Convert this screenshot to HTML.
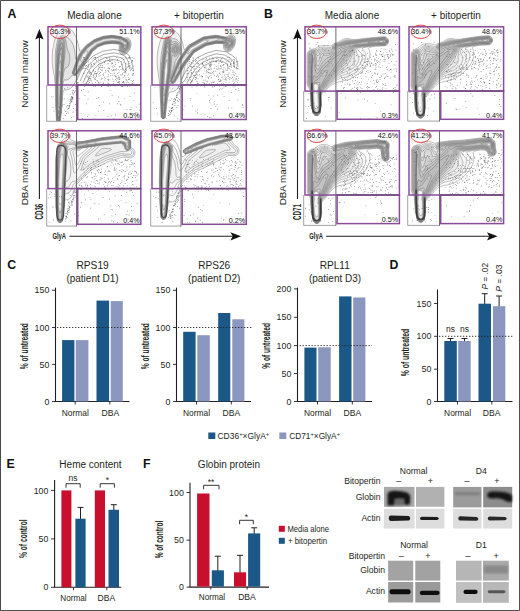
<!DOCTYPE html>
<html><head><meta charset="utf-8"><style>
html,body{margin:0;padding:0;background:#fff;}
svg{display:block;font-family:"Liberation Sans", sans-serif;}
</style></head><body>
<svg width="520" height="611" viewBox="0 0 520 611">
<defs><filter id="gb" filterUnits="userSpaceOnUse" x="0" y="0" width="520" height="611"><feConvolveMatrix order="3" kernelMatrix="0.0000 0.0000 0.0000 0.0000 1.0000 0.0000 0.0000 0.0000 0.0000" preserveAlpha="true"/></filter></defs>
<g>
<rect width="520" height="611" fill="#fff"/>
<text x="7.4" y="18" font-size="12.3" font-weight="bold" fill="#111">A</text>
<text x="264" y="18" font-size="12.3" font-weight="bold" fill="#111">B</text>
<text x="7.2" y="268.6" font-size="12.3" font-weight="bold" fill="#111">C</text>
<text x="389.4" y="268.6" font-size="12.3" font-weight="bold" fill="#111">D</text>
<text x="6.5" y="467.6" font-size="12.3" font-weight="bold" fill="#111">E</text>
<text x="143" y="467.6" font-size="12.3" font-weight="bold" fill="#111">F</text>
<text x="94.5" y="18.6" font-size="10" text-anchor="middle" fill="#231f20">Media alone</text>
<text x="199" y="18.6" font-size="10" text-anchor="middle" fill="#231f20">+ bitopertin</text>
<text x="352" y="18.6" font-size="10" text-anchor="middle" fill="#231f20">Media alone</text>
<text x="456" y="18.6" font-size="10" text-anchor="middle" fill="#231f20">+ bitopertin</text>
<defs><clipPath id="cp0"><rect x="47" y="26.8" width="93.80000000000001" height="94.2"/></clipPath><clipPath id="cp1"><rect x="151" y="26.8" width="95.30000000000001" height="94.2"/></clipPath><clipPath id="cp2"><rect x="47" y="130.8" width="93.80000000000001" height="95.0"/></clipPath><clipPath id="cp3"><rect x="151" y="130.8" width="95.30000000000001" height="95.0"/></clipPath><clipPath id="cp4"><rect x="304" y="26.8" width="95.39999999999998" height="94.0"/></clipPath><clipPath id="cp5"><rect x="408" y="26.8" width="95.60000000000002" height="94.0"/></clipPath><clipPath id="cp6"><rect x="304" y="130.8" width="95.39999999999998" height="94.29999999999998"/></clipPath><clipPath id="cp7"><rect x="408" y="130.8" width="95.60000000000002" height="94.29999999999998"/></clipPath></defs>
<g clip-path="url(#cp0)">
<path d="M58.5 121.9 57.5 121.6 57.1 121.3 56.7 120.8 56.4 119.8 56.2 116.3 56.0 111.3 55.7 106.8 55.5 93.3 55.0 82.6 54.5 77.8 53.2 70.8 52.6 66.8 52.2 62.3 52.1 57.8 52.3 53.8 52.7 49.8 53.4 45.8 54.3 41.8 55.2 38.8 56.3 36.3 58.0 33.3 59.5 31.2 61.0 29.7 62.5 28.6 64.0 27.9 65.5 27.6 67.0 27.7 68.5 28.1 70.0 28.9 71.5 30.1 73.0 31.8 74.0 33.3 75.1 35.3 76.3 37.8 77.3 40.8 78.2 43.8 78.8 46.8 79.5 50.8 79.5 50.9 80.0 51.3 81.0 50.6 82.0 49.7 86.0 45.4 93.5 40.0 94.5 39.5 102.5 36.5 104.5 36.1 112.0 35.2 121.0 36.5 122.0 36.9 122.5 37.3 123.5 37.8 124.0 37.9 125.0 38.0 127.0 37.7 128.0 37.9 129.0 38.5 129.5 38.9 130.1 39.8 130.6 40.8 130.9 41.8 131.1 43.3 131.1 44.3 130.7 46.8 130.2 48.3 129.8 49.3 129.3 50.3 128.3 51.8 127.5 52.7 126.5 53.6 125.0 54.5 123.5 54.9 123.0 54.9 122.0 54.7 121.0 54.1 120.2 53.3 119.4 51.8 119.1 50.8 119.0 49.8 119.0 47.8 119.4 44.8 119.0 44.3 116.3 43.8 112.0 43.4 104.9 44.3 98.3 46.8 97.0 47.8 92.5 51.7 88.3 58.8 83.9 65.3 82.5 67.3 79.0 72.8 78.0 74.8 76.7 78.8 75.6 81.3 74.3 83.8 73.0 85.8 72.0 87.0 71.0 87.9 70.0 88.7 69.0 89.3 68.0 89.7 67.0 89.9 66.0 90.0 64.0 89.9 63.5 90.4 63.0 92.2 62.5 96.7 61.9 107.3 60.6 119.8 60.3 120.8 59.9 121.3 59.5 121.6 58.5 121.9Z" fill="#f2f2f2" stroke="#505050" stroke-width="0.38"/>
<path d="M59.0 121.5 58.5 121.6 58.0 121.5 57.5 121.3 57.0 120.8 56.8 120.3 56.7 119.8 56.1 106.8 56.0 96.8 55.2 60.8 55.3 55.3 55.7 49.8 56.7 43.8 57.6 39.8 57.9 38.8 58.6 37.8 59.5 36.9 60.0 36.6 61.0 36.1 62.5 35.8 64.0 35.9 65.5 36.4 67.2 37.3 69.0 38.6 70.5 40.2 71.5 41.6 72.4 43.3 73.3 45.3 73.9 47.3 74.5 49.8 75.0 52.8 75.3 55.3 75.5 59.1 75.6 59.3 76.0 59.4 76.5 58.8 77.5 57.2 79.6 53.3 86.0 45.9 86.5 45.5 94.0 40.1 96.5 39.1 102.0 37.0 103.5 36.5 112.0 35.5 121.0 36.9 121.5 37.1 122.8 37.8 124.0 38.4 125.5 38.8 127.0 38.9 127.5 39.0 128.5 39.6 129.0 40.0 129.5 40.8 129.9 41.8 130.2 42.8 130.2 44.8 130.1 45.8 129.8 47.3 129.2 48.8 128.7 49.8 127.7 51.3 127.0 52.0 126.0 52.8 125.5 53.1 124.5 53.6 123.5 53.7 123.0 53.7 122.0 53.4 121.2 52.8 120.5 51.8 120.2 51.3 119.9 50.3 119.7 48.8 119.8 47.3 120.2 45.3 120.2 44.8 119.8 44.3 118.9 43.8 114.5 43.3 112.0 43.1 106.1 43.8 105.0 44.0 104.0 44.3 98.0 46.6 93.0 50.8 92.0 51.8 87.8 58.8 77.3 74.3 76.9 74.8 76.5 75.1 76.0 75.4 75.5 75.6 75.0 75.7 74.0 75.6 72.5 75.0 72.0 75.2 70.5 77.4 69.5 78.5 68.5 79.2 67.0 79.9 66.0 80.0 64.5 79.9 64.0 80.3 63.5 81.4 63.0 83.7 62.5 88.7 62.0 96.5 61.5 106.8 60.3 119.8 60.2 120.3 60.0 120.8 59.5 121.3 59.0 121.5Z" fill="#e4e4e4" stroke="#505050" stroke-width="0.38"/>
<path d="M76.0 75.0 75.5 75.2 74.5 75.2 74.0 75.1 73.5 74.8 73.0 74.3 72.6 73.8 72.4 72.8 72.4 72.3 76.1 61.3 79.8 53.8 80.6 52.8 86.5 45.9 94.0 40.4 95.0 39.9 103.0 37.0 112.0 35.8 114.0 36.1 121.0 37.2 124.1 38.8 127.5 39.9 128.0 40.3 128.9 41.3 129.4 42.8 129.6 44.3 129.4 46.3 128.8 48.3 128.3 49.3 127.6 50.3 126.5 51.5 126.0 51.9 125.0 52.5 124.0 52.7 123.0 52.7 122.5 52.5 122.0 52.2 121.2 51.3 120.7 50.3 120.4 48.8 120.4 47.8 120.8 45.3 120.8 44.8 120.4 44.3 119.7 43.8 119.0 43.6 117.2 43.3 112.0 42.8 107.9 43.3 104.5 43.8 97.9 46.3 92.0 51.3 87.7 58.3 83.4 64.8 76.9 74.3 76.0 75.0ZM58.5 121.3 58.0 121.3 57.5 121.0 57.0 120.3 57.0 119.8 56.3 106.8 56.1 82.8 56.1 64.8 56.4 55.8 56.7 50.3 57.7 44.3 58.7 39.8 59.2 38.8 60.0 38.0 61.0 37.4 62.0 37.2 62.5 37.2 63.5 37.5 64.5 38.0 65.3 38.8 65.8 39.8 66.1 40.8 66.5 44.7 67.0 47.8 67.5 49.6 69.0 53.2 69.5 55.0 69.8 57.3 69.9 59.8 69.7 61.3 69.4 62.8 69.0 64.3 68.5 65.5 68.0 66.3 67.5 66.9 67.0 67.3 65.5 67.9 65.0 68.5 64.5 69.7 64.0 71.7 63.5 74.4 62.5 82.1 62.0 89.8 61.3 106.8 60.2 118.8 60.0 120.3 59.7 120.8 59.0 121.3 58.5 121.3Z" fill="#d6d6d6" stroke="#505050" stroke-width="0.38"/>
<path d="M75.5 74.9 75.0 74.9 74.5 74.9 74.0 74.7 73.4 74.3 73.1 73.8 72.8 73.3 72.8 72.8 72.8 72.3 76.6 61.3 80.3 53.8 86.5 46.3 94.5 40.5 103.5 37.1 112.0 36.1 121.0 37.4 123.5 38.8 127.0 40.3 127.7 40.8 128.1 41.3 128.6 42.3 128.9 43.8 128.8 45.8 128.5 47.3 127.8 48.8 126.8 50.3 126.0 51.0 125.5 51.3 124.5 51.8 123.5 51.8 123.0 51.7 122.5 51.4 121.9 50.8 121.4 49.8 121.1 48.8 121.1 47.3 121.4 45.3 121.3 44.8 121.0 44.3 120.3 43.8 119.5 43.4 119.0 43.2 112.0 42.5 105.7 43.3 105.0 43.4 103.8 43.8 98.4 45.8 97.5 46.2 91.6 51.3 87.3 58.3 76.8 73.8 76.5 74.3 76.0 74.7 75.5 74.9ZM59.0 121.0 58.5 121.1 58.0 121.0 57.5 120.6 57.3 120.3 57.2 119.8 56.6 106.8 56.5 82.8 56.8 62.3 57.1 54.8 57.4 50.8 57.8 48.3 58.7 43.8 59.6 40.3 60.0 39.3 60.5 38.8 61.0 38.5 62.0 38.2 63.0 38.4 63.7 38.8 64.2 39.3 64.7 40.3 65.0 45.3 65.1 51.3 64.7 56.8 63.5 67.0 62.0 83.0 61.0 106.8 60.8 109.8 59.8 119.8 59.7 120.3 59.5 120.7 59.0 121.0Z" fill="#c8c8c8" stroke="#505050" stroke-width="0.38"/>
<path d="M75.5 74.5 75.0 74.6 74.5 74.6 74.0 74.3 73.5 73.9 73.2 73.3 73.1 72.8 73.2 72.3 76.7 61.8 80.7 53.8 86.9 46.3 94.5 40.8 95.0 40.6 103.5 37.4 112.0 36.4 120.5 37.6 121.0 37.8 123.8 39.3 126.5 40.5 127.0 40.8 127.8 41.8 128.2 42.8 128.3 44.3 128.2 45.8 127.8 47.3 127.4 48.3 126.5 49.5 125.5 50.4 124.5 50.8 124.0 50.9 123.5 50.8 123.0 50.6 122.5 50.1 122.0 49.3 121.8 47.8 122.0 45.3 121.9 44.8 121.6 44.3 120.9 43.8 120.0 43.3 119.0 43.0 112.0 42.2 105.0 43.1 104.3 43.3 97.5 45.9 91.5 51.0 87.3 57.8 82.6 64.8 76.5 73.8 76.0 74.3 75.5 74.5ZM58.5 120.9 58.0 120.8 57.5 120.3 57.4 119.8 56.9 106.8 56.8 82.8 57.2 64.3 57.9 53.8 58.2 50.3 58.7 47.8 59.7 43.3 60.7 40.3 61.1 39.8 61.5 39.5 62.0 39.4 62.5 39.5 63.1 39.8 63.4 40.3 63.6 40.8 63.9 43.3 64.0 45.8 64.1 49.3 64.1 52.3 63.8 57.3 63.0 65.0 61.7 82.8 60.7 106.8 59.6 119.8 59.5 120.3 59.0 120.8 58.5 120.9Z" fill="#b8b8b8" stroke="#505050" stroke-width="0.38"/>
<path d="M76.0 73.8 75.5 74.1 75.0 74.2 74.5 74.1 74.0 73.9 73.6 73.3 73.5 72.8 73.6 72.3 77.1 61.8 80.8 54.3 81.1 53.8 87.0 46.7 94.5 41.2 95.5 40.7 103.5 37.7 112.0 36.7 120.5 37.9 121.0 38.1 123.5 39.5 126.5 40.9 127.0 41.3 127.4 41.8 127.7 42.8 127.8 43.8 127.3 46.8 126.8 47.8 126.0 49.0 125.5 49.4 125.0 49.7 124.5 49.8 124.0 49.8 123.5 49.6 123.1 49.3 122.8 48.8 122.5 47.8 122.5 46.8 122.7 45.8 122.7 45.3 122.5 44.8 122.1 44.3 121.5 43.8 120.8 43.3 119.5 42.7 112.0 41.9 105.0 42.8 104.5 42.9 97.5 45.5 96.5 46.3 91.2 50.8 86.8 57.8 82.5 64.3 76.0 73.8ZM59.0 120.5 58.5 120.6 58.0 120.5 57.8 120.3 57.7 119.8 57.1 106.8 57.1 82.8 57.6 64.8 58.3 56.3 59.0 50.3 59.8 46.8 60.5 44.6 61.0 43.5 61.5 42.8 62.0 42.7 62.5 43.4 62.6 43.8 63.0 46.3 63.2 50.8 63.2 54.8 61.4 82.8 60.5 106.8 59.3 119.8 59.2 120.3 59.0 120.5Z" fill="#ababab" stroke="#505050" stroke-width="0.38"/>
<path d="M75.5 73.4 75.0 73.6 74.5 73.5 74.3 73.3 74.2 72.8 74.5 71.3 75.0 69.4 77.5 61.8 81.2 54.3 87.4 46.8 94.9 41.3 103.5 38.1 112.0 37.0 120.5 38.3 121.0 38.5 123.5 39.9 126.0 41.1 126.5 41.4 127.0 42.0 127.3 42.8 127.3 43.8 126.4 46.8 126.0 47.5 125.5 48.1 125.0 48.4 124.5 48.5 124.0 48.4 123.6 47.8 123.4 47.3 123.5 45.8 123.4 45.3 122.7 44.3 122.0 43.6 120.5 42.8 119.5 42.4 118.5 42.2 112.0 41.6 104.5 42.5 97.5 45.2 97.0 45.4 91.0 50.5 86.8 57.3 82.1 64.3 77.5 70.9 76.5 72.3 75.5 73.4ZM58.5 120.3 58.0 119.8 57.4 106.8 57.4 82.8 57.8 71.8 58.3 62.8 58.7 57.8 59.2 54.3 59.9 50.8 60.5 48.8 61.0 47.9 61.5 47.7 62.0 48.9 62.3 51.8 62.4 54.8 62.3 59.3 61.0 83.7 60.2 106.8 59.0 119.8 58.5 120.3Z" fill="#b4b4b4" stroke="#505050" stroke-width="0.38"/>
<path d="M76.5 70.4 76.0 70.3 75.8 69.8 75.8 69.3 76.0 68.2 77.0 64.8 78.0 61.8 81.7 54.3 87.5 47.2 95.0 41.7 103.5 38.5 112.0 37.5 120.5 38.7 123.5 40.5 126.0 41.5 126.5 42.0 126.7 42.3 126.9 42.8 127.0 43.3 126.7 44.3 126.0 45.4 125.5 45.8 125.0 46.0 124.5 45.7 123.0 43.9 122.0 43.0 121.0 42.5 120.0 42.0 119.5 41.9 112.0 41.2 104.5 42.1 97.0 44.9 90.6 50.3 86.3 57.3 80.5 65.9 78.0 69.2 77.0 70.2 76.5 70.4ZM58.5 118.8 58.0 114.4 57.7 106.8 57.7 82.3 58.4 67.3 59.0 61.3 59.5 57.5 60.0 55.2 60.5 53.9 61.0 53.7 61.3 54.8 61.5 55.8 61.6 58.3 61.6 61.3 61.2 72.3 60.7 83.3 59.9 106.8 59.0 116.7 58.5 118.8Z" fill="#cccccc" stroke="#505050" stroke-width="0.38"/>
<path d="M79.0 66.3 78.5 66.5 77.9 66.3 77.7 65.8 77.7 65.3 78.0 63.8 78.5 62.0 82.0 54.7 88.0 47.6 95.3 42.3 103.5 39.2 106.2 38.8 111.5 38.2 112.5 38.2 116.3 38.8 119.0 39.3 120.6 39.8 120.8 40.3 120.8 40.8 120.5 41.0 120.0 41.1 115.5 40.8 112.0 40.5 104.5 41.4 97.5 44.0 96.5 44.4 90.3 49.8 86.0 56.9 83.0 61.3 80.5 64.8 79.5 65.9 79.0 66.3ZM125.5 44.8 125.0 44.9 124.5 44.7 124.1 44.3 123.0 42.8 122.9 42.3 123.0 42.2 123.5 41.8 124.0 41.7 125.0 41.8 126.1 42.3 126.3 42.8 126.4 43.3 126.4 43.8 126.0 44.5 125.5 44.8ZM58.5 113.7 58.0 106.8 58.0 82.8 58.5 73.8 59.0 67.0 59.2 64.8 59.5 63.0 60.0 61.1 60.5 60.8 60.8 63.8 60.8 71.3 59.6 106.8 59.0 112.6 58.5 113.7Z" fill="#e4e4e4" stroke="#505050" stroke-width="0.38"/>
<path d="M82.0 60.8 81.5 61.2 81.0 61.2 80.6 60.8 80.6 60.3 81.0 58.8 82.5 55.2 82.7 54.8 84.0 53.4 86.0 51.5 86.5 51.1 87.0 50.9 87.5 51.1 87.6 51.3 87.6 51.8 87.5 52.3 86.5 54.5 85.5 56.4 83.5 59.1 82.0 60.8ZM59.0 107.9 58.5 107.5 58.4 106.8 58.4 82.8 59.0 75.0 59.5 71.2 60.0 71.7 60.1 79.8 59.5 97.5 59.1 106.8 59.0 107.9Z" fill="#f6f6f6" stroke="#505050" stroke-width="0.38"/>
<path d="M89.0 82.2h.7v.7h-.7zM121.7 64.5h.7v.7h-.7zM107.8 70.3h.7v.7h-.7zM115.9 80.5h.7v.7h-.7zM86.9 57.7h.7v.7h-.7zM125.5 69.8h.7v.7h-.7zM121.6 56.9h.7v.7h-.7zM105.2 78.4h.7v.7h-.7zM93.9 85.2h.7v.7h-.7zM128.9 57.7h.7v.7h-.7zM83.3 73.0h.7v.7h-.7zM130.8 68.2h.7v.7h-.7zM93.3 69.5h.7v.7h-.7zM83.5 63.5h.7v.7h-.7zM104.8 71.7h.7v.7h-.7zM94.1 63.7h.7v.7h-.7zM93.4 70.6h.7v.7h-.7zM97.1 57.4h.7v.7h-.7zM125.6 73.5h.7v.7h-.7zM115.4 62.4h.7v.7h-.7zM133.6 82.6h.7v.7h-.7zM88.3 66.8h.7v.7h-.7zM119.5 78.1h.7v.7h-.7zM130.7 69.5h.7v.7h-.7zM125.2 76.9h.7v.7h-.7zM97.8 74.4h.7v.7h-.7zM127.9 82.2h.7v.7h-.7zM108.3 74.5h.7v.7h-.7zM83.8 64.1h.7v.7h-.7zM123.5 69.2h.7v.7h-.7zM91.0 73.3h.7v.7h-.7zM118.6 77.0h.7v.7h-.7zM101.5 70.0h.7v.7h-.7zM108.4 80.2h.7v.7h-.7zM109.1 68.6h.7v.7h-.7zM107.5 57.7h.7v.7h-.7zM84.3 77.9h.7v.7h-.7zM133.1 74.6h.7v.7h-.7zM102.5 61.9h.7v.7h-.7zM108.1 86.3h.7v.7h-.7zM122.1 73.0h.7v.7h-.7zM126.7 63.8h.7v.7h-.7zM108.7 85.4h.7v.7h-.7zM112.0 70.6h.7v.7h-.7zM96.0 73.2h.7v.7h-.7zM131.8 57.0h.7v.7h-.7zM122.8 81.4h.7v.7h-.7zM128.1 79.0h.7v.7h-.7zM124.1 72.4h.7v.7h-.7zM111.2 69.6h.7v.7h-.7zM84.9 82.9h.7v.7h-.7zM111.6 62.8h.7v.7h-.7zM108.2 71.3h.7v.7h-.7zM100.6 67.2h.7v.7h-.7zM110.0 75.5h.7v.7h-.7zM113.8 70.5h.7v.7h-.7zM83.5 63.7h.7v.7h-.7zM91.2 74.3h.7v.7h-.7zM126.8 80.8h.7v.7h-.7zM123.4 81.3h.7v.7h-.7zM95.3 82.1h.7v.7h-.7zM117.0 59.3h.7v.7h-.7zM82.9 57.2h.7v.7h-.7zM121.3 64.3h.7v.7h-.7zM87.7 75.5h.7v.7h-.7zM99.9 58.9h.7v.7h-.7zM90.3 72.6h.7v.7h-.7zM90.7 65.0h.7v.7h-.7zM119.0 70.4h.7v.7h-.7zM98.7 71.0h.7v.7h-.7zM83.2 68.4h.7v.7h-.7zM103.9 62.4h.7v.7h-.7zM87.7 83.8h.7v.7h-.7zM108.5 63.1h.7v.7h-.7zM113.5 81.3h.7v.7h-.7zM83.1 57.3h.7v.7h-.7zM89.6 78.4h.7v.7h-.7zM90.3 77.9h.7v.7h-.7zM117.3 73.1h.7v.7h-.7zM93.5 86.1h.7v.7h-.7zM123.5 72.3h.7v.7h-.7zM93.6 76.3h.7v.7h-.7zM102.5 74.1h.7v.7h-.7zM98.7 75.7h.7v.7h-.7zM85.1 65.8h.7v.7h-.7zM132.3 83.1h.7v.7h-.7zM97.9 82.6h.7v.7h-.7zM98.1 85.0h.7v.7h-.7zM120.7 69.3h.7v.7h-.7zM95.1 57.1h.7v.7h-.7zM127.7 57.9h.7v.7h-.7zM124.6 85.7h.7v.7h-.7zM111.7 61.9h.7v.7h-.7zM127.1 86.0h.7v.7h-.7zM118.6 72.1h.7v.7h-.7zM101.7 67.2h.7v.7h-.7zM92.7 77.0h.7v.7h-.7zM104.5 62.6h.7v.7h-.7zM87.4 76.8h.7v.7h-.7zM97.4 71.8h.7v.7h-.7zM98.9 82.9h.7v.7h-.7zM128.8 57.3h.7v.7h-.7zM92.4 66.6h.7v.7h-.7zM133.3 80.3h.7v.7h-.7zM99.6 63.2h.7v.7h-.7zM117.1 81.9h.7v.7h-.7zM130.5 67.1h.7v.7h-.7zM127.9 77.4h.7v.7h-.7zM107.2 86.4h.7v.7h-.7zM94.2 78.6h.7v.7h-.7zM86.4 61.9h.7v.7h-.7zM129.4 63.2h.7v.7h-.7zM121.5 74.8h.7v.7h-.7zM125.7 67.8h.7v.7h-.7zM99.7 65.5h.7v.7h-.7zM127.1 74.9h.7v.7h-.7zM131.6 83.4h.7v.7h-.7zM89.0 73.3h.7v.7h-.7zM87.4 58.0h.7v.7h-.7zM85.8 82.8h.7v.7h-.7zM123.0 81.7h.7v.7h-.7zM99.7 75.3h.7v.7h-.7zM122.7 68.1h.7v.7h-.7zM111.7 63.5h.7v.7h-.7zM86.3 64.8h.7v.7h-.7zM128.3 73.7h.7v.7h-.7zM130.1 70.5h.7v.7h-.7zM96.4 80.4h.7v.7h-.7zM125.0 57.2h.7v.7h-.7zM116.9 59.6h.7v.7h-.7zM88.0 83.4h.7v.7h-.7zM84.1 64.0h.7v.7h-.7zM133.4 69.4h.7v.7h-.7zM88.0 61.8h.7v.7h-.7zM94.6 79.1h.7v.7h-.7zM87.3 84.1h.7v.7h-.7zM101.7 85.9h.7v.7h-.7zM129.3 65.6h.7v.7h-.7zM95.2 71.1h.7v.7h-.7zM87.2 76.4h.7v.7h-.7zM84.1 57.1h.7v.7h-.7zM133.1 65.7h.7v.7h-.7zM113.0 70.3h.7v.7h-.7zM98.3 58.7h.7v.7h-.7zM129.5 85.9h.7v.7h-.7zM132.4 60.1h.7v.7h-.7zM93.2 75.3h.7v.7h-.7zM133.0 73.1h.7v.7h-.7zM117.8 76.7h.7v.7h-.7zM95.5 73.0h.7v.7h-.7zM98.0 64.2h.7v.7h-.7zM86.2 65.2h.7v.7h-.7zM133.1 70.2h.7v.7h-.7zM115.9 76.1h.7v.7h-.7zM130.9 68.5h.7v.7h-.7zM98.0 66.6h.7v.7h-.7zM98.5 82.2h.7v.7h-.7zM128.5 65.9h.7v.7h-.7zM99.4 73.1h.7v.7h-.7zM112.1 74.7h.7v.7h-.7zM94.7 57.4h.7v.7h-.7zM94.7 59.0h.7v.7h-.7zM110.7 58.9h.7v.7h-.7zM85.9 75.9h.7v.7h-.7zM97.1 80.6h.7v.7h-.7zM107.6 82.7h.7v.7h-.7zM90.0 71.8h.7v.7h-.7zM123.3 59.1h.7v.7h-.7zM131.4 62.0h.7v.7h-.7zM122.4 86.3h.7v.7h-.7zM124.7 66.4h.7v.7h-.7zM87.6 72.2h.7v.7h-.7zM129.8 65.6h.7v.7h-.7zM128.5 61.1h.7v.7h-.7zM129.3 57.8h.7v.7h-.7zM98.4 83.9h.7v.7h-.7zM123.8 84.0h.7v.7h-.7zM125.7 79.2h.7v.7h-.7zM117.9 62.1h.7v.7h-.7zM104.5 61.5h.7v.7h-.7zM119.2 76.8h.7v.7h-.7zM95.1 58.7h.7v.7h-.7zM132.1 81.0h.7v.7h-.7zM110.6 73.0h.7v.7h-.7zM126.3 70.4h.7v.7h-.7zM102.6 67.0h.7v.7h-.7zM95.4 57.5h.7v.7h-.7zM115.6 69.3h.7v.7h-.7zM111.7 58.7h.7v.7h-.7zM100.5 60.9h.7v.7h-.7zM88.5 64.6h.7v.7h-.7zM125.1 68.7h.7v.7h-.7zM102.9 75.2h.7v.7h-.7zM94.1 57.0h.7v.7h-.7zM109.5 71.8h.7v.7h-.7zM115.7 69.9h.7v.7h-.7zM117.7 78.7h.7v.7h-.7zM94.4 71.7h.7v.7h-.7zM106.9 63.6h.7v.7h-.7zM103.4 73.6h.7v.7h-.7zM129.2 84.3h.7v.7h-.7zM96.3 76.2h.7v.7h-.7zM84.5 58.9h.7v.7h-.7zM108.6 83.1h.7v.7h-.7zM90.3 79.8h.7v.7h-.7zM127.9 66.2h.7v.7h-.7zM118.0 82.3h.7v.7h-.7zM101.3 77.8h.7v.7h-.7zM120.3 74.6h.7v.7h-.7zM126.5 83.7h.7v.7h-.7zM131.9 73.9h.7v.7h-.7zM91.2 64.3h.7v.7h-.7zM93.3 73.9h.7v.7h-.7zM121.4 58.4h.7v.7h-.7zM117.4 78.3h.7v.7h-.7zM100.1 72.3h.7v.7h-.7zM90.6 78.7h.7v.7h-.7zM84.1 86.2h.7v.7h-.7zM124.0 75.7h.7v.7h-.7zM95.9 84.2h.7v.7h-.7zM131.9 61.0h.7v.7h-.7zM122.3 82.1h.7v.7h-.7zM116.3 77.8h.7v.7h-.7zM105.1 84.5h.7v.7h-.7zM132.5 68.3h.7v.7h-.7zM123.7 69.8h.7v.7h-.7zM90.6 66.6h.7v.7h-.7zM88.6 84.1h.7v.7h-.7zM131.9 60.4h.7v.7h-.7zM113.2 69.0h.7v.7h-.7zM88.1 65.7h.7v.7h-.7zM94.9 79.3h.7v.7h-.7zM82.2 62.5h.7v.7h-.7zM104.8 57.4h.7v.7h-.7zM114.6 75.0h.7v.7h-.7zM125.4 63.0h.7v.7h-.7zM96.8 73.1h.7v.7h-.7zM96.2 74.4h.7v.7h-.7zM95.0 77.3h.7v.7h-.7zM123.1 81.1h.7v.7h-.7zM132.6 73.2h.7v.7h-.7zM107.5 82.5h.7v.7h-.7zM122.0 73.9h.7v.7h-.7zM101.9 65.3h.7v.7h-.7zM87.6 81.0h.7v.7h-.7zM88.1 79.2h.7v.7h-.7zM110.4 85.7h.7v.7h-.7zM121.6 86.0h.7v.7h-.7zM89.1 71.8h.7v.7h-.7zM111.8 66.1h.7v.7h-.7zM108.2 67.5h.7v.7h-.7zM109.5 56.8h.7v.7h-.7zM105.0 70.3h.7v.7h-.7zM97.8 68.8h.7v.7h-.7zM122.7 77.3h.7v.7h-.7zM107.6 76.2h.7v.7h-.7zM101.6 62.9h.7v.7h-.7zM82.2 65.1h.7v.7h-.7zM113.1 83.2h.7v.7h-.7zM125.1 72.1h.7v.7h-.7zM133.3 70.6h.7v.7h-.7zM125.4 69.1h.7v.7h-.7zM120.7 86.4h.7v.7h-.7zM97.9 61.9h.7v.7h-.7zM114.2 72.7h.7v.7h-.7zM100.7 56.9h.7v.7h-.7zM102.2 69.6h.7v.7h-.7zM103.1 82.6h.7v.7h-.7zM112.4 78.8h.7v.7h-.7zM128.7 79.3h.7v.7h-.7zM107.6 79.2h.7v.7h-.7zM115.3 76.3h.7v.7h-.7zM114.7 69.0h.7v.7h-.7zM114.7 75.8h.7v.7h-.7zM130.7 80.3h.7v.7h-.7zM126.0 79.8h.7v.7h-.7zM124.4 75.0h.7v.7h-.7zM100.2 64.7h.7v.7h-.7zM118.8 83.0h.7v.7h-.7zM110.3 61.4h.7v.7h-.7zM125.3 71.3h.7v.7h-.7zM106.3 58.2h.7v.7h-.7zM108.5 79.1h.7v.7h-.7zM104.0 67.5h.7v.7h-.7zM116.2 57.4h.7v.7h-.7zM108.4 85.2h.7v.7h-.7zM117.9 68.9h.7v.7h-.7zM117.8 74.9h.7v.7h-.7zM92.9 63.0h.7v.7h-.7zM128.1 64.9h.7v.7h-.7zM85.9 81.7h.7v.7h-.7zM109.2 67.8h.7v.7h-.7zM108.6 78.9h.7v.7h-.7zM90.8 76.4h.7v.7h-.7zM119.1 81.3h.7v.7h-.7zM96.0 75.1h.7v.7h-.7zM94.1 73.6h.7v.7h-.7zM91.0 80.5h.7v.7h-.7zM127.1 66.7h.7v.7h-.7zM93.6 85.7h.7v.7h-.7zM118.7 82.1h.7v.7h-.7zM83.6 83.8h.7v.7h-.7zM114.4 66.3h.7v.7h-.7zM104.5 79.6h.7v.7h-.7zM122.8 62.5h.7v.7h-.7zM114.5 61.8h.7v.7h-.7zM132.6 70.1h.7v.7h-.7zM129.5 78.6h.7v.7h-.7zM113.5 64.7h.7v.7h-.7zM109.4 61.0h.7v.7h-.7zM89.2 78.3h.7v.7h-.7zM100.8 79.3h.7v.7h-.7zM94.5 78.3h.7v.7h-.7zM119.4 66.0h.7v.7h-.7zM87.5 68.7h.7v.7h-.7zM107.6 59.8h.7v.7h-.7zM91.7 58.5h.7v.7h-.7zM113.1 83.5h.7v.7h-.7zM93.3 57.8h.7v.7h-.7zM118.6 81.2h.7v.7h-.7zM132.1 75.2h.7v.7h-.7zM99.8 81.9h.7v.7h-.7zM88.1 77.6h.7v.7h-.7zM87.0 68.8h.7v.7h-.7zM107.7 68.1h.7v.7h-.7zM90.8 63.8h.7v.7h-.7zM124.6 70.7h.7v.7h-.7zM112.2 63.2h.7v.7h-.7zM119.2 66.7h.7v.7h-.7zM112.9 84.1h.7v.7h-.7zM133.7 58.2h.7v.7h-.7zM123.5 82.5h.7v.7h-.7zM98.6 68.3h.7v.7h-.7zM112.2 84.4h.7v.7h-.7zM102.8 83.2h.7v.7h-.7zM121.4 61.4h.7v.7h-.7zM129.5 57.3h.7v.7h-.7zM89.5 76.7h.7v.7h-.7zM85.0 68.2h.7v.7h-.7zM88.8 70.7h.7v.7h-.7zM125.7 84.0h.7v.7h-.7zM83.8 58.6h.7v.7h-.7zM125.7 58.1h.7v.7h-.7zM96.2 60.3h.7v.7h-.7zM86.7 57.6h.7v.7h-.7zM115.2 79.1h.7v.7h-.7zM117.7 82.2h.7v.7h-.7zM116.5 68.5h.7v.7h-.7zM114.8 85.9h.7v.7h-.7zM115.4 64.1h.7v.7h-.7zM85.1 84.9h.7v.7h-.7zM112.7 67.3h.7v.7h-.7zM113.5 73.6h.7v.7h-.7zM109.2 58.6h.7v.7h-.7zM100.4 69.2h.7v.7h-.7zM92.4 83.2h.7v.7h-.7zM104.1 76.7h.7v.7h-.7zM119.1 79.1h.7v.7h-.7zM119.5 79.4h.7v.7h-.7zM95.1 86.1h.7v.7h-.7zM89.9 84.4h.7v.7h-.7zM126.4 82.4h.7v.7h-.7zM84.7 59.5h.7v.7h-.7zM124.3 70.9h.7v.7h-.7zM101.3 86.3h.7v.7h-.7zM84.1 72.7h.7v.7h-.7zM105.1 60.6h.7v.7h-.7zM102.5 78.0h.7v.7h-.7zM127.9 57.5h.7v.7h-.7zM109.3 59.5h.7v.7h-.7zM123.6 59.4h.7v.7h-.7zM83.8 68.3h.7v.7h-.7zM120.1 66.2h.7v.7h-.7zM88.8 80.6h.7v.7h-.7zM124.0 82.5h.7v.7h-.7zM97.8 69.5h.7v.7h-.7zM94.8 73.5h.7v.7h-.7zM99.2 67.0h.7v.7h-.7zM122.7 85.5h.7v.7h-.7zM112.4 59.9h.7v.7h-.7zM118.5 101.2h.7v.7h-.7zM139.3 109.8h.7v.7h-.7zM129.8 109.2h.7v.7h-.7zM111.2 115.5h.7v.7h-.7zM129.6 96.1h.7v.7h-.7zM87.7 98.7h.7v.7h-.7zM110.3 89.9h.7v.7h-.7zM99.4 105.2h.7v.7h-.7zM80.7 112.9h.7v.7h-.7zM118.4 96.8h.7v.7h-.7zM96.5 98.1h.7v.7h-.7zM98.2 110.8h.7v.7h-.7zM109.1 103.6h.7v.7h-.7zM87.2 116.1h.7v.7h-.7zM98.2 97.3h.7v.7h-.7zM82.3 118.1h.7v.7h-.7zM107.7 116.0h.7v.7h-.7zM135.5 117.8h.7v.7h-.7zM128.6 116.4h.7v.7h-.7zM135.2 112.4h.7v.7h-.7zM86.3 103.6h.7v.7h-.7zM113.7 118.6h.7v.7h-.7zM126.6 109.3h.7v.7h-.7zM124.3 98.4h.7v.7h-.7zM136.4 107.4h.7v.7h-.7zM103.0 101.7h.7v.7h-.7zM138.7 103.8h.7v.7h-.7zM88.4 91.5h.7v.7h-.7zM120.6 104.8h.7v.7h-.7zM134.2 92.7h.7v.7h-.7zM103.5 110.1h.7v.7h-.7zM81.1 90.0h.7v.7h-.7zM111.8 95.3h.7v.7h-.7zM84.6 95.2h.7v.7h-.7zM117.2 103.6h.7v.7h-.7zM82.9 89.1h.7v.7h-.7zM130.7 107.4h.7v.7h-.7zM88.7 114.4h.7v.7h-.7zM79.4 98.6h.7v.7h-.7zM130.6 109.5h.7v.7h-.7zM95.6 115.3h.7v.7h-.7zM115.1 114.5h.7v.7h-.7zM133.4 100.4h.7v.7h-.7zM119.9 104.2h.7v.7h-.7zM136.6 112.3h.7v.7h-.7zM68.3 112.8h.7v.7h-.7zM75.9 95.0h.7v.7h-.7zM53.6 110.7h.7v.7h-.7zM69.6 103.3h.7v.7h-.7zM61.6 99.7h.7v.7h-.7zM72.7 112.3h.7v.7h-.7zM64.4 88.1h.7v.7h-.7zM71.8 101.5h.7v.7h-.7zM53.3 96.4h.7v.7h-.7zM67.4 87.0h.7v.7h-.7zM51.4 96.5h.7v.7h-.7zM72.8 110.7h.7v.7h-.7zM75.2 104.2h.7v.7h-.7zM64.0 104.4h.7v.7h-.7zM62.7 104.1h.7v.7h-.7zM70.9 117.3h.7v.7h-.7zM59.4 107.0h.7v.7h-.7zM56.6 96.5h.7v.7h-.7zM62.2 105.6h.7v.7h-.7zM63.4 118.1h.7v.7h-.7zM52.6 107.2h.7v.7h-.7zM75.8 110.4h.7v.7h-.7zM63.8 98.6h.7v.7h-.7zM59.3 116.8h.7v.7h-.7zM73.1 108.2h.7v.7h-.7zM73.2 116.4h.7v.7h-.7zM71.7 99.1h.7v.7h-.7zM61.0 112.3h.7v.7h-.7zM58.4 110.8h.7v.7h-.7zM61.5 97.6h.7v.7h-.7zM71.6 99.9h.7v.7h-.7zM70.9 100.7h.7v.7h-.7zM69.1 105.0h.7v.7h-.7zM69.4 105.0h.7v.7h-.7zM71.6 96.0h.7v.7h-.7zM70.8 99.0h.7v.7h-.7zM71.9 90.6h.7v.7h-.7zM74.7 90.7h.7v.7h-.7zM77.6 82.1h.7v.7h-.7zM66.1 106.5h.7v.7h-.7zM69.9 99.5h.7v.7h-.7zM63.9 109.8h.7v.7h-.7zM71.3 95.9h.7v.7h-.7zM77.7 82.6h.7v.7h-.7zM71.0 96.7h.7v.7h-.7zM66.5 111.5h.7v.7h-.7zM71.7 96.8h.7v.7h-.7zM75.1 87.7h.7v.7h-.7zM69.7 100.9h.7v.7h-.7zM72.0 97.3h.7v.7h-.7zM76.8 86.3h.7v.7h-.7zM77.1 85.1h.7v.7h-.7zM72.5 98.8h.7v.7h-.7zM66.8 105.1h.7v.7h-.7zM72.4 97.8h.7v.7h-.7zM69.3 103.3h.7v.7h-.7zM76.7 79.5h.7v.7h-.7zM77.5 83.0h.7v.7h-.7zM70.8 98.1h.7v.7h-.7zM67.8 108.4h.7v.7h-.7zM70.8 101.2h.7v.7h-.7zM70.4 94.4h.7v.7h-.7zM71.5 96.4h.7v.7h-.7zM70.1 102.1h.7v.7h-.7zM68.7 106.6h.7v.7h-.7zM70.5 99.8h.7v.7h-.7zM68.4 107.7h.7v.7h-.7zM72.7 96.9h.7v.7h-.7zM73.0 90.0h.7v.7h-.7zM76.2 85.5h.7v.7h-.7zM69.6 103.9h.7v.7h-.7zM69.3 106.7h.7v.7h-.7zM72.9 90.4h.7v.7h-.7zM68.3 108.2h.7v.7h-.7zM76.4 84.8h.7v.7h-.7zM64.8 115.3h.7v.7h-.7zM66.3 113.3h.7v.7h-.7zM77.1 82.3h.7v.7h-.7zM72.5 97.3h.7v.7h-.7zM66.8 111.6h.7v.7h-.7zM74.2 91.7h.7v.7h-.7zM75.1 90.6h.7v.7h-.7zM68.7 105.7h.7v.7h-.7zM65.1 111.3h.7v.7h-.7zM73.4 94.5h.7v.7h-.7zM67.8 105.4h.7v.7h-.7zM76.4 83.8h.7v.7h-.7zM74.0 92.0h.7v.7h-.7zM75.2 86.0h.7v.7h-.7zM71.9 93.5h.7v.7h-.7zM70.5 97.8h.7v.7h-.7zM72.9 93.2h.7v.7h-.7zM71.9 98.1h.7v.7h-.7zM70.0 99.8h.7v.7h-.7zM67.5 105.4h.7v.7h-.7zM70.9 101.6h.7v.7h-.7zM72.4 92.2h.7v.7h-.7zM75.7 84.8h.7v.7h-.7zM64.9 115.0h.7v.7h-.7zM67.5 109.2h.7v.7h-.7z" fill="#666"/>
<g transform="translate(48 26.8)"><path d="M29.0 53.0 33.0 44.0 37.5 36.5 45.1 29.2 54.5 24.5 65.8 22.6 75.3 24.5 80.9 28.3 83.8 34.9 85.0 42.0" stroke="#555" stroke-width="0.5" fill="none" stroke-linejoin="round"/><path d="M32.1 54.4 36.0 45.6 40.1 38.7 47.1 32.0 55.5 27.7 65.8 26.0 74.1 27.7 78.3 30.5 80.5 35.9 81.6 42.6" stroke="#555" stroke-width="0.5" fill="none" stroke-linejoin="round"/><path d="M35.2 55.8 39.0 47.1 42.8 40.8 49.0 34.8 56.6 31.0 65.8 29.4 72.9 30.9 75.6 32.6 77.3 36.8 78.3 43.1" stroke="#555" stroke-width="0.5" fill="none" stroke-linejoin="round"/><path d="M38.3 57.1 42.1 48.7 45.4 43.0 51.0 37.5 57.6 34.2 65.8 32.8 71.7 34.0 73.0 34.8 74.0 37.8 74.9 43.7" stroke="#555" stroke-width="0.5" fill="none" stroke-linejoin="round"/></g>
</g>
<g clip-path="url(#cp1)">
<path d="M163.5 118.8 163.0 118.8 162.5 118.7 162.0 118.5 161.4 117.8 161.2 117.3 160.5 101.0 159.5 82.4 159.0 78.3 158.2 73.3 157.6 69.3 157.2 64.3 157.1 59.8 157.3 55.8 157.7 51.8 158.4 47.8 159.2 44.3 160.3 40.8 161.6 37.8 163.0 35.3 164.5 33.2 165.5 32.1 167.0 30.9 168.5 30.1 170.0 29.7 171.5 29.6 173.0 29.9 174.5 30.6 176.0 31.7 177.1 32.8 178.5 34.5 179.7 36.3 180.7 38.3 181.8 40.8 182.7 43.3 183.3 45.8 184.0 49.2 184.5 49.6 185.0 49.3 185.5 48.8 187.9 45.8 189.0 44.9 195.5 41.3 202.0 37.6 203.0 37.0 203.5 36.9 213.0 35.5 216.0 35.2 218.0 35.5 224.7 36.8 226.0 36.9 226.9 36.8 229.0 35.4 229.5 35.1 230.5 34.8 231.5 34.7 232.0 34.8 233.0 35.1 233.5 35.5 234.0 35.9 234.6 36.8 235.1 37.8 235.4 38.8 235.6 40.3 235.6 41.3 235.2 43.8 234.7 45.3 234.3 46.3 233.8 47.3 232.8 48.8 232.0 49.7 231.0 50.6 229.5 51.5 228.0 51.9 227.0 51.8 226.0 51.5 225.0 50.7 224.4 49.8 223.7 48.3 223.4 46.3 223.5 44.3 223.0 43.8 221.5 43.6 216.5 43.4 207.6 45.3 206.0 45.8 194.5 52.4 190.0 58.3 187.5 61.8 186.5 63.3 185.5 65.1 185.0 66.3 184.6 67.8 183.6 73.8 183.0 76.3 182.3 78.8 180.8 82.8 180.0 84.6 179.0 86.3 178.0 87.8 177.0 89.0 176.0 89.9 175.0 90.7 173.5 91.5 172.5 91.8 171.5 92.0 170.0 92.1 169.5 92.3 169.0 92.9 168.5 94.1 168.0 96.2 167.5 99.1 166.5 106.2 165.3 117.3 165.0 117.8 164.5 118.4 164.0 118.7 163.5 118.8Z" fill="#f2f2f2" stroke="#505050" stroke-width="0.38"/>
<path d="M164.0 118.4 163.5 118.6 163.0 118.6 162.5 118.5 161.7 117.8 161.4 116.8 161.0 103.3 160.5 92.8 160.5 82.0 160.1 70.3 160.8 59.8 161.2 55.3 161.7 51.8 162.7 46.3 164.1 39.8 164.3 39.3 164.9 38.3 165.5 37.7 166.5 37.0 168.0 36.6 169.0 36.7 170.0 36.9 170.5 37.2 172.5 38.4 173.0 38.6 175.0 38.9 176.0 39.2 177.0 39.8 178.0 40.6 179.0 41.8 179.6 42.8 180.3 44.3 180.8 45.8 181.1 47.8 181.3 49.3 181.3 51.3 181.2 53.8 181.2 54.3 181.5 54.5 182.0 54.1 183.5 52.4 188.0 46.3 189.0 45.4 203.0 37.4 204.5 37.1 216.0 35.5 222.8 36.8 227.0 37.5 227.5 37.4 229.0 36.5 230.0 36.0 230.5 35.9 231.5 35.9 232.0 36.0 233.0 36.6 233.5 37.1 234.0 37.8 234.4 38.8 234.7 39.8 234.7 41.8 234.4 43.8 233.7 45.8 233.2 46.8 232.5 47.8 231.7 48.8 231.0 49.5 229.5 50.4 228.5 50.7 227.5 50.7 226.5 50.4 226.0 50.0 225.5 49.5 224.7 48.3 224.4 47.3 224.2 45.8 224.3 44.3 224.0 43.7 222.5 43.3 216.5 43.1 215.2 43.3 206.2 45.3 194.7 51.8 194.1 52.3 189.5 58.3 185.5 63.8 184.0 66.3 177.8 77.8 175.7 81.3 174.6 82.8 173.5 83.6 173.0 83.7 172.0 83.7 171.0 83.4 170.5 83.4 170.0 84.3 169.5 85.7 168.5 89.6 167.5 94.9 166.5 102.9 164.9 117.3 164.7 117.8 164.0 118.4Z" fill="#e4e4e4" stroke="#505050" stroke-width="0.38"/>
<path d="M163.5 118.3 163.0 118.3 162.5 118.2 162.0 117.8 161.7 117.3 161.6 116.8 161.5 110.2 160.9 92.8 161.0 83.8 161.0 70.3 162.2 57.8 163.2 50.3 164.9 40.3 165.3 39.3 165.6 38.8 166.5 38.1 167.0 37.8 168.0 37.6 169.0 37.8 170.0 38.3 170.6 38.8 171.3 39.8 171.7 41.3 172.0 41.9 172.5 42.1 174.0 41.6 175.0 41.5 176.0 41.6 177.0 42.1 178.0 43.0 178.9 44.3 179.6 46.3 180.0 47.8 180.1 49.3 180.1 50.8 179.8 52.8 179.4 54.3 178.7 55.8 178.2 56.8 176.1 59.8 175.3 61.3 174.1 66.3 171.0 75.7 170.7 77.3 170.5 77.7 170.4 78.3 170.5 78.7 170.7 77.8 171.0 77.6 171.2 76.8 171.5 76.4 171.6 75.8 172.0 75.1 172.2 74.3 172.5 73.8 172.7 72.8 173.0 72.3 173.3 71.3 173.5 70.9 173.6 70.3 174.0 69.6 174.2 68.8 174.5 68.3 174.6 67.8 175.0 67.1 175.7 65.3 176.0 64.9 176.2 64.3 176.5 63.9 176.7 63.3 177.0 62.9 177.2 62.3 177.5 61.8 177.7 61.3 178.4 59.8 183.0 53.9 188.5 46.3 189.5 45.4 202.5 38.0 203.5 37.6 204.0 37.4 216.0 35.8 217.5 36.0 224.1 37.3 226.0 37.6 227.5 38.0 228.0 38.0 229.5 37.1 230.5 36.9 231.5 36.9 232.0 37.1 232.5 37.4 233.3 38.3 233.6 38.8 233.9 39.8 234.1 40.8 234.1 41.8 233.8 43.8 233.3 45.3 232.8 46.3 232.1 47.3 231.0 48.5 230.5 48.9 229.5 49.5 228.5 49.7 227.5 49.7 226.6 49.3 226.0 48.7 225.4 47.8 225.1 46.8 224.9 45.8 224.9 44.3 224.8 43.8 224.2 43.3 222.5 43.1 216.5 42.8 206.9 44.8 206.0 45.1 195.0 51.3 194.0 52.0 185.0 63.8 178.3 75.8 174.4 82.3 173.5 83.0 173.0 83.2 172.0 83.1 171.5 82.9 170.7 82.3 170.2 81.8 170.0 81.1 169.5 81.7 168.0 89.1 167.5 92.0 167.0 95.6 165.5 109.3 164.8 116.8 164.7 117.3 164.4 117.8 164.0 118.1 163.5 118.3Z" fill="#d6d6d6" stroke="#505050" stroke-width="0.38"/>
<path d="M172.5 82.8 171.5 82.5 170.8 81.8 170.6 81.3 170.5 80.3 174.7 69.8 178.8 60.3 188.4 46.8 189.0 46.1 189.5 45.8 203.0 38.1 203.5 37.9 204.5 37.7 216.0 36.1 226.0 37.9 227.5 38.6 228.0 38.7 230.0 37.8 231.0 37.8 231.5 37.9 232.0 38.2 232.6 38.8 233.1 39.8 233.4 40.8 233.4 42.3 233.1 43.8 232.6 45.3 231.7 46.8 230.5 48.0 229.5 48.6 228.5 48.8 228.0 48.8 227.5 48.7 227.0 48.4 226.5 48.0 225.9 46.8 225.6 45.8 225.5 43.8 225.1 43.3 224.5 43.0 223.3 42.8 216.5 42.5 214.9 42.8 206.0 44.7 194.0 51.6 193.0 52.8 185.0 63.3 174.4 81.8 174.0 82.3 173.5 82.6 172.5 82.8ZM164.0 117.9 163.5 118.1 163.0 118.1 162.5 117.9 162.0 117.3 161.9 116.8 161.5 99.9 161.3 92.8 161.5 82.2 161.6 70.3 162.7 59.8 163.8 51.3 164.8 44.8 165.6 40.3 166.0 39.4 166.5 38.9 167.0 38.6 168.0 38.3 169.0 38.5 169.5 38.8 170.0 39.3 170.4 39.8 170.5 40.3 171.0 43.3 171.5 44.8 172.0 45.1 174.0 43.5 175.0 43.2 175.5 43.2 176.5 43.5 177.5 44.3 178.2 45.3 178.8 46.8 179.1 48.8 179.1 50.3 178.9 51.8 178.4 53.3 177.9 54.3 177.0 55.5 176.0 56.1 175.0 56.3 174.0 56.1 172.5 55.4 172.0 55.7 171.8 56.3 171.5 58.9 171.3 64.8 170.8 71.3 169.0 80.7 167.0 92.6 166.0 101.8 164.6 116.3 164.4 117.3 164.0 117.9Z" fill="#c8c8c8" stroke="#505050" stroke-width="0.38"/>
<path d="M173.0 82.5 172.5 82.5 172.0 82.4 171.5 82.1 171.2 81.8 170.9 81.3 170.8 80.8 170.9 80.3 174.8 70.8 179.2 60.3 188.8 46.8 189.5 46.1 203.0 38.4 204.0 38.0 216.0 36.4 225.5 38.1 226.5 38.5 228.0 39.5 228.5 39.4 229.5 38.9 230.5 38.7 231.0 38.8 231.5 39.0 232.0 39.5 232.5 40.3 232.7 41.3 232.7 42.3 232.5 43.8 231.9 45.3 231.2 46.3 230.5 47.0 229.5 47.7 228.5 47.9 228.0 47.8 227.5 47.6 227.0 47.1 226.5 46.3 226.4 45.8 226.3 44.8 226.3 43.8 226.1 43.3 225.5 42.9 224.5 42.7 223.0 42.5 216.5 42.2 216.0 42.3 206.0 44.4 193.9 51.3 193.0 52.3 184.5 63.5 174.3 81.3 174.0 81.8 173.5 82.3 173.0 82.5ZM163.5 117.9 163.0 117.9 162.5 117.6 162.2 117.3 162.1 116.8 161.6 92.8 162.2 70.3 163.2 60.3 164.2 52.3 165.7 43.3 166.3 40.3 166.5 39.8 167.0 39.3 167.5 39.1 168.0 39.0 168.5 39.1 169.0 39.3 169.5 39.8 169.8 40.3 171.2 50.8 171.0 52.2 170.7 55.8 170.2 69.8 170.1 71.3 168.0 83.7 166.5 93.8 164.3 116.8 164.2 117.3 164.0 117.5 163.5 117.9ZM176.5 53.8 176.0 54.1 175.5 54.3 175.0 54.2 174.5 54.1 174.0 53.8 173.5 53.3 172.9 52.3 172.3 50.8 172.2 49.3 172.4 48.3 172.7 47.3 173.2 46.3 173.6 45.8 174.0 45.4 174.5 45.0 175.0 44.8 175.5 44.8 176.0 44.9 176.5 45.2 177.0 45.6 177.7 46.8 178.1 48.3 178.2 49.8 178.0 51.3 177.4 52.8 177.0 53.3 176.5 53.8Z" fill="#b8b8b8" stroke="#505050" stroke-width="0.38"/>
<path d="M173.5 81.8 173.0 82.1 172.5 82.2 172.0 82.0 171.7 81.8 171.3 81.3 171.2 80.8 171.3 80.3 175.4 70.3 179.4 60.8 179.7 60.3 188.8 47.3 189.2 46.8 189.8 46.3 203.5 38.5 204.0 38.4 206.0 38.1 216.0 36.7 225.5 38.5 226.0 38.6 226.9 39.3 227.5 40.1 228.0 40.6 228.5 40.5 229.5 39.9 230.0 39.8 230.5 39.8 231.0 40.0 231.5 40.5 231.9 41.3 232.0 41.8 232.0 42.8 231.8 43.8 231.3 44.8 231.0 45.4 230.5 46.0 230.0 46.4 229.5 46.7 229.0 46.8 228.5 46.8 228.0 46.6 227.5 46.1 227.1 45.3 227.0 44.8 227.0 42.8 226.5 42.5 225.5 42.5 223.0 42.1 216.0 42.0 206.0 44.1 205.5 44.3 193.5 51.2 184.2 63.3 177.1 75.8 174.0 81.1 173.5 81.8ZM163.5 117.6 163.0 117.6 162.5 117.3 162.4 116.8 162.0 92.8 162.6 70.8 164.3 56.3 165.1 50.3 165.6 46.8 166.3 43.3 167.0 40.8 167.2 40.3 167.5 40.0 168.0 39.8 168.5 39.9 168.9 40.3 169.0 40.8 169.7 45.3 170.2 50.8 169.8 64.3 169.5 70.8 166.3 92.8 164.0 116.8 163.9 117.3 163.5 117.6ZM176.0 52.1 175.5 52.3 175.0 52.2 174.5 51.9 174.0 51.1 173.7 49.8 173.7 48.8 174.0 47.8 174.5 47.0 175.0 46.7 175.5 46.6 176.0 46.8 176.5 47.3 176.8 47.8 177.1 48.8 177.1 49.8 176.9 50.8 176.5 51.6 176.0 52.1Z" fill="#ababab" stroke="#505050" stroke-width="0.38"/>
<path d="M173.0 81.5 172.5 81.6 171.9 81.3 171.8 80.8 172.0 79.8 174.9 72.3 179.8 60.8 189.2 47.3 190.0 46.5 203.0 39.2 204.0 38.7 216.0 37.0 225.5 38.9 226.0 39.1 226.5 39.6 226.9 40.3 227.0 40.8 226.8 41.3 226.5 41.6 226.0 41.9 225.5 41.9 223.0 41.7 216.0 41.6 205.9 43.8 205.0 44.2 193.5 50.8 193.0 51.3 183.8 63.3 175.5 77.8 173.5 81.0 173.0 81.5ZM229.5 45.4 229.0 45.5 228.4 45.3 228.1 44.8 227.9 43.8 228.1 42.8 228.5 42.0 229.2 41.3 229.5 41.2 230.0 41.1 230.5 41.2 230.9 41.8 231.1 42.8 230.9 43.8 230.5 44.5 230.0 45.1 229.5 45.4ZM163.5 117.2 163.0 117.3 162.7 116.8 162.3 92.8 163.1 70.8 164.3 59.8 165.8 49.3 166.5 45.8 167.0 44.0 167.5 42.8 168.0 42.5 168.5 43.2 169.0 45.3 169.5 50.8 169.3 61.8 169.0 70.8 165.9 92.8 164.0 114.0 163.7 116.8 163.5 117.2Z" fill="#b4b4b4" stroke="#505050" stroke-width="0.38"/>
<path d="M175.0 76.7 174.5 76.7 174.4 76.3 174.5 75.3 175.0 73.7 177.5 67.3 180.3 60.8 189.5 47.6 190.0 47.0 204.0 39.1 216.0 37.5 217.8 37.8 221.9 38.8 223.3 39.3 224.2 39.8 224.5 40.3 223.8 40.8 221.0 41.1 216.0 41.2 205.5 43.5 193.0 50.7 183.7 62.8 177.5 73.3 176.0 75.6 175.5 76.2 175.0 76.7ZM225.5 40.9 225.1 40.8 225.1 40.3 225.5 40.1 225.8 40.3 225.8 40.8 225.5 40.9ZM163.5 114.2 163.2 113.3 163.0 112.4 162.6 92.8 163.6 70.8 164.8 60.3 166.0 52.0 166.5 49.4 167.0 47.6 167.5 46.6 168.0 46.6 168.2 47.3 168.5 48.2 168.8 50.8 168.8 59.8 168.5 70.8 165.6 92.8 164.0 109.9 163.5 114.2Z" fill="#cccccc" stroke="#505050" stroke-width="0.38"/>
<path d="M179.0 68.4 178.5 68.3 178.4 67.8 178.5 67.2 179.5 64.2 180.7 61.3 189.5 48.3 190.3 47.3 204.0 39.6 205.4 39.3 209.4 38.8 216.0 38.1 216.8 38.3 218.0 38.8 218.5 39.3 218.5 39.8 217.6 40.3 216.0 40.5 213.0 41.3 205.5 43.0 193.0 50.1 192.3 50.8 183.3 62.3 180.5 66.7 179.5 68.0 179.0 68.4ZM163.5 105.9 163.2 100.8 163.0 92.8 164.1 70.8 165.0 63.2 166.0 56.6 166.5 53.9 167.0 52.0 167.5 51.2 167.9 52.3 168.0 53.1 168.2 56.3 168.2 62.3 168.0 70.8 165.2 92.3 164.0 104.3 163.5 105.9Z" fill="#e4e4e4" stroke="#505050" stroke-width="0.38"/>
<path d="M188.0 53.9 187.6 53.8 187.7 53.3 188.0 52.5 190.5 48.3 191.0 47.8 204.3 40.3 206.5 40.2 208.3 40.3 208.5 40.8 208.0 41.3 206.8 41.8 205.0 42.4 192.5 49.5 192.1 49.8 189.0 53.3 188.5 53.7 188.0 53.9ZM164.0 96.3 163.6 92.8 164.7 70.8 165.5 64.7 166.0 62.0 166.5 60.0 167.0 59.5 167.3 61.3 167.4 63.3 167.4 70.8 164.5 93.9 164.0 96.3Z" fill="#f6f6f6" stroke="#505050" stroke-width="0.38"/>
<path d="M235.7 85.2h.7v.7h-.7zM188.9 59.3h.7v.7h-.7zM229.4 78.9h.7v.7h-.7zM220.8 66.0h.7v.7h-.7zM217.5 75.0h.7v.7h-.7zM216.2 61.6h.7v.7h-.7zM208.4 68.6h.7v.7h-.7zM223.6 86.6h.7v.7h-.7zM235.4 73.1h.7v.7h-.7zM209.1 64.8h.7v.7h-.7zM187.9 57.6h.7v.7h-.7zM210.2 66.4h.7v.7h-.7zM205.8 83.6h.7v.7h-.7zM213.3 73.6h.7v.7h-.7zM198.3 57.5h.7v.7h-.7zM202.9 60.9h.7v.7h-.7zM212.5 86.8h.7v.7h-.7zM221.1 62.3h.7v.7h-.7zM232.5 80.7h.7v.7h-.7zM224.2 84.0h.7v.7h-.7zM225.7 80.5h.7v.7h-.7zM204.4 86.2h.7v.7h-.7zM236.0 61.6h.7v.7h-.7zM225.2 78.3h.7v.7h-.7zM210.0 72.7h.7v.7h-.7zM211.5 84.5h.7v.7h-.7zM212.0 81.7h.7v.7h-.7zM204.4 83.3h.7v.7h-.7zM232.8 70.6h.7v.7h-.7zM215.5 84.4h.7v.7h-.7zM223.6 71.4h.7v.7h-.7zM197.5 66.5h.7v.7h-.7zM222.4 61.8h.7v.7h-.7zM233.2 64.8h.7v.7h-.7zM233.4 66.1h.7v.7h-.7zM235.8 78.0h.7v.7h-.7zM212.2 72.3h.7v.7h-.7zM219.9 74.4h.7v.7h-.7zM202.2 63.0h.7v.7h-.7zM212.6 84.8h.7v.7h-.7zM218.4 59.1h.7v.7h-.7zM228.7 78.6h.7v.7h-.7zM233.2 62.5h.7v.7h-.7zM224.7 58.6h.7v.7h-.7zM220.0 65.0h.7v.7h-.7zM197.8 83.1h.7v.7h-.7zM191.5 72.5h.7v.7h-.7zM230.4 64.1h.7v.7h-.7zM196.9 83.2h.7v.7h-.7zM208.0 78.3h.7v.7h-.7zM187.7 67.7h.7v.7h-.7zM194.9 77.0h.7v.7h-.7zM190.3 85.4h.7v.7h-.7zM187.3 78.7h.7v.7h-.7zM187.1 64.5h.7v.7h-.7zM228.3 61.5h.7v.7h-.7zM195.6 77.5h.7v.7h-.7zM206.0 58.1h.7v.7h-.7zM237.5 61.3h.7v.7h-.7zM187.9 67.1h.7v.7h-.7zM218.0 79.1h.7v.7h-.7zM191.9 66.9h.7v.7h-.7zM187.6 70.3h.7v.7h-.7zM225.8 79.0h.7v.7h-.7zM232.9 79.5h.7v.7h-.7zM230.8 78.0h.7v.7h-.7zM210.6 63.6h.7v.7h-.7zM220.4 66.3h.7v.7h-.7zM191.3 70.2h.7v.7h-.7zM231.5 60.6h.7v.7h-.7zM216.4 68.6h.7v.7h-.7zM212.8 61.1h.7v.7h-.7zM235.9 64.6h.7v.7h-.7zM217.5 69.4h.7v.7h-.7zM186.9 73.5h.7v.7h-.7zM193.3 58.5h.7v.7h-.7zM187.7 61.6h.7v.7h-.7zM191.0 75.9h.7v.7h-.7zM212.4 86.3h.7v.7h-.7zM234.6 86.6h.7v.7h-.7zM198.1 70.1h.7v.7h-.7zM199.0 74.5h.7v.7h-.7zM218.5 80.8h.7v.7h-.7zM222.9 64.5h.7v.7h-.7zM208.0 72.6h.7v.7h-.7zM186.3 57.9h.7v.7h-.7zM207.3 60.1h.7v.7h-.7zM223.6 64.0h.7v.7h-.7zM191.2 62.3h.7v.7h-.7zM198.0 63.3h.7v.7h-.7zM213.1 70.7h.7v.7h-.7zM202.1 76.1h.7v.7h-.7zM197.0 84.0h.7v.7h-.7zM236.1 78.7h.7v.7h-.7zM208.6 72.1h.7v.7h-.7zM216.2 58.3h.7v.7h-.7zM207.7 72.6h.7v.7h-.7zM195.4 59.6h.7v.7h-.7zM227.7 67.8h.7v.7h-.7zM213.0 84.4h.7v.7h-.7zM217.7 65.5h.7v.7h-.7zM237.1 68.0h.7v.7h-.7zM187.0 77.4h.7v.7h-.7zM191.3 66.0h.7v.7h-.7zM229.7 77.0h.7v.7h-.7zM186.8 70.3h.7v.7h-.7zM207.4 71.4h.7v.7h-.7zM196.8 74.5h.7v.7h-.7zM189.8 65.3h.7v.7h-.7zM205.4 84.9h.7v.7h-.7zM190.0 79.4h.7v.7h-.7zM196.0 73.9h.7v.7h-.7zM206.4 70.7h.7v.7h-.7zM225.2 68.7h.7v.7h-.7zM192.3 60.5h.7v.7h-.7zM190.2 82.3h.7v.7h-.7zM219.3 85.6h.7v.7h-.7zM222.0 57.5h.7v.7h-.7zM220.3 80.1h.7v.7h-.7zM223.6 71.7h.7v.7h-.7zM204.6 70.5h.7v.7h-.7zM227.5 64.9h.7v.7h-.7zM213.4 71.1h.7v.7h-.7zM235.6 80.9h.7v.7h-.7zM234.5 81.9h.7v.7h-.7zM201.4 63.7h.7v.7h-.7zM211.4 64.6h.7v.7h-.7zM208.2 77.2h.7v.7h-.7zM233.8 74.4h.7v.7h-.7zM228.5 59.7h.7v.7h-.7zM204.5 86.7h.7v.7h-.7zM193.6 69.3h.7v.7h-.7zM189.5 59.4h.7v.7h-.7zM232.6 86.5h.7v.7h-.7zM219.7 60.7h.7v.7h-.7zM201.4 63.8h.7v.7h-.7zM220.9 77.2h.7v.7h-.7zM208.8 72.5h.7v.7h-.7zM191.8 73.0h.7v.7h-.7zM235.4 79.5h.7v.7h-.7zM191.0 72.3h.7v.7h-.7zM223.2 64.5h.7v.7h-.7zM232.5 70.6h.7v.7h-.7zM222.6 68.9h.7v.7h-.7zM237.7 80.3h.7v.7h-.7zM215.8 61.1h.7v.7h-.7zM208.9 57.7h.7v.7h-.7zM216.9 83.3h.7v.7h-.7zM195.4 72.1h.7v.7h-.7zM211.1 68.9h.7v.7h-.7zM222.9 84.9h.7v.7h-.7zM222.7 71.0h.7v.7h-.7zM236.0 66.7h.7v.7h-.7zM224.8 76.6h.7v.7h-.7zM225.6 82.4h.7v.7h-.7zM197.7 75.4h.7v.7h-.7zM206.9 76.8h.7v.7h-.7zM236.8 75.8h.7v.7h-.7zM186.6 70.7h.7v.7h-.7zM223.0 83.3h.7v.7h-.7zM219.8 81.3h.7v.7h-.7zM186.9 85.1h.7v.7h-.7zM223.9 75.0h.7v.7h-.7zM233.1 83.3h.7v.7h-.7zM191.2 81.3h.7v.7h-.7zM225.9 62.8h.7v.7h-.7zM224.7 74.4h.7v.7h-.7zM196.0 80.9h.7v.7h-.7zM193.2 75.2h.7v.7h-.7zM208.6 64.4h.7v.7h-.7zM215.4 70.8h.7v.7h-.7zM196.7 85.8h.7v.7h-.7zM189.8 56.9h.7v.7h-.7zM211.2 81.9h.7v.7h-.7zM220.2 79.4h.7v.7h-.7zM211.2 77.0h.7v.7h-.7zM203.4 64.8h.7v.7h-.7zM212.2 57.6h.7v.7h-.7zM190.2 79.4h.7v.7h-.7zM195.0 79.3h.7v.7h-.7zM226.8 68.9h.7v.7h-.7zM221.1 80.4h.7v.7h-.7zM230.9 60.8h.7v.7h-.7zM194.5 68.2h.7v.7h-.7zM210.2 65.6h.7v.7h-.7zM186.5 73.5h.7v.7h-.7zM236.3 67.8h.7v.7h-.7zM214.0 68.3h.7v.7h-.7zM209.0 82.9h.7v.7h-.7zM202.0 76.3h.7v.7h-.7zM211.2 73.0h.7v.7h-.7zM233.6 59.1h.7v.7h-.7zM228.9 65.9h.7v.7h-.7zM219.6 80.7h.7v.7h-.7zM220.0 68.6h.7v.7h-.7zM229.7 59.6h.7v.7h-.7zM218.9 68.5h.7v.7h-.7zM213.6 82.3h.7v.7h-.7zM227.5 75.7h.7v.7h-.7zM202.0 63.8h.7v.7h-.7zM209.8 63.8h.7v.7h-.7zM200.4 85.5h.7v.7h-.7zM191.8 81.4h.7v.7h-.7zM205.7 67.7h.7v.7h-.7zM202.6 59.1h.7v.7h-.7zM209.8 61.8h.7v.7h-.7zM209.0 65.6h.7v.7h-.7zM232.5 84.5h.7v.7h-.7zM209.0 76.0h.7v.7h-.7zM234.3 66.6h.7v.7h-.7zM191.2 63.9h.7v.7h-.7zM195.9 77.2h.7v.7h-.7zM205.4 67.5h.7v.7h-.7zM227.3 63.8h.7v.7h-.7zM228.0 75.8h.7v.7h-.7zM206.8 81.5h.7v.7h-.7zM203.8 83.2h.7v.7h-.7zM234.1 71.9h.7v.7h-.7zM221.9 85.3h.7v.7h-.7zM224.6 79.3h.7v.7h-.7zM231.2 84.9h.7v.7h-.7zM225.2 86.2h.7v.7h-.7zM201.2 75.5h.7v.7h-.7zM220.9 67.8h.7v.7h-.7zM206.5 62.0h.7v.7h-.7zM235.8 67.4h.7v.7h-.7zM210.8 83.6h.7v.7h-.7zM195.7 85.6h.7v.7h-.7zM192.6 57.6h.7v.7h-.7zM204.2 67.6h.7v.7h-.7zM233.7 83.3h.7v.7h-.7zM225.6 69.9h.7v.7h-.7zM214.2 63.9h.7v.7h-.7zM229.3 68.5h.7v.7h-.7zM200.8 75.9h.7v.7h-.7zM193.8 66.3h.7v.7h-.7zM234.2 59.7h.7v.7h-.7zM193.4 62.9h.7v.7h-.7zM199.1 69.4h.7v.7h-.7zM199.0 67.1h.7v.7h-.7zM198.8 64.0h.7v.7h-.7zM217.8 66.9h.7v.7h-.7zM205.4 79.8h.7v.7h-.7zM189.2 61.1h.7v.7h-.7zM230.2 69.7h.7v.7h-.7zM226.5 60.8h.7v.7h-.7zM213.2 82.2h.7v.7h-.7zM203.6 79.8h.7v.7h-.7zM217.7 68.6h.7v.7h-.7zM237.9 68.6h.7v.7h-.7zM210.6 75.4h.7v.7h-.7zM202.5 81.9h.7v.7h-.7zM217.1 74.4h.7v.7h-.7zM214.0 86.3h.7v.7h-.7zM237.4 82.0h.7v.7h-.7zM209.6 69.2h.7v.7h-.7zM213.3 58.2h.7v.7h-.7zM191.6 86.7h.7v.7h-.7zM192.7 84.9h.7v.7h-.7zM221.3 84.3h.7v.7h-.7zM190.0 66.0h.7v.7h-.7zM227.5 57.1h.7v.7h-.7zM191.5 67.3h.7v.7h-.7zM195.0 61.2h.7v.7h-.7zM220.8 59.6h.7v.7h-.7zM236.5 76.3h.7v.7h-.7zM188.6 83.8h.7v.7h-.7zM198.6 71.2h.7v.7h-.7zM215.1 61.0h.7v.7h-.7zM212.1 58.6h.7v.7h-.7zM196.4 84.4h.7v.7h-.7zM228.7 72.5h.7v.7h-.7zM221.5 83.1h.7v.7h-.7zM193.3 71.6h.7v.7h-.7zM192.9 60.3h.7v.7h-.7zM191.6 63.2h.7v.7h-.7zM188.8 63.3h.7v.7h-.7zM205.7 75.5h.7v.7h-.7zM230.6 83.9h.7v.7h-.7zM223.3 72.0h.7v.7h-.7zM233.7 61.7h.7v.7h-.7zM191.5 81.3h.7v.7h-.7zM218.6 63.1h.7v.7h-.7zM205.6 65.7h.7v.7h-.7zM208.4 69.6h.7v.7h-.7zM206.7 80.7h.7v.7h-.7zM228.2 73.7h.7v.7h-.7zM210.6 65.3h.7v.7h-.7zM225.8 86.4h.7v.7h-.7zM197.9 77.9h.7v.7h-.7zM222.4 76.5h.7v.7h-.7zM187.6 73.4h.7v.7h-.7zM196.5 62.6h.7v.7h-.7zM216.1 76.2h.7v.7h-.7zM218.5 79.1h.7v.7h-.7zM222.5 71.1h.7v.7h-.7zM188.5 80.0h.7v.7h-.7zM228.8 81.9h.7v.7h-.7zM217.1 57.9h.7v.7h-.7zM196.2 60.1h.7v.7h-.7zM219.1 73.1h.7v.7h-.7zM195.7 85.5h.7v.7h-.7zM236.9 83.8h.7v.7h-.7zM210.1 65.6h.7v.7h-.7zM196.9 81.5h.7v.7h-.7zM222.4 65.1h.7v.7h-.7zM232.9 73.9h.7v.7h-.7zM207.5 69.3h.7v.7h-.7zM223.5 70.5h.7v.7h-.7zM220.3 60.5h.7v.7h-.7zM222.5 65.0h.7v.7h-.7zM233.3 63.2h.7v.7h-.7zM203.3 72.9h.7v.7h-.7zM206.4 72.6h.7v.7h-.7zM234.0 62.8h.7v.7h-.7zM226.2 77.6h.7v.7h-.7zM226.9 70.2h.7v.7h-.7zM209.6 67.2h.7v.7h-.7zM210.6 64.4h.7v.7h-.7zM195.9 71.1h.7v.7h-.7zM196.0 70.9h.7v.7h-.7zM215.8 66.1h.7v.7h-.7zM194.9 75.0h.7v.7h-.7zM230.7 63.5h.7v.7h-.7zM218.0 76.6h.7v.7h-.7zM232.0 77.3h.7v.7h-.7zM202.0 63.0h.7v.7h-.7zM229.5 65.8h.7v.7h-.7zM186.7 82.9h.7v.7h-.7zM196.3 66.2h.7v.7h-.7zM202.6 64.5h.7v.7h-.7zM223.7 67.1h.7v.7h-.7zM208.9 69.4h.7v.7h-.7zM229.3 57.3h.7v.7h-.7zM216.1 60.8h.7v.7h-.7zM193.8 75.0h.7v.7h-.7zM205.5 58.7h.7v.7h-.7zM216.6 84.2h.7v.7h-.7zM219.5 71.7h.7v.7h-.7zM227.6 84.3h.7v.7h-.7zM193.9 65.8h.7v.7h-.7zM236.2 84.6h.7v.7h-.7zM196.6 77.9h.7v.7h-.7zM231.5 74.5h.7v.7h-.7zM222.5 72.5h.7v.7h-.7zM198.2 63.2h.7v.7h-.7zM189.2 76.8h.7v.7h-.7zM193.2 75.4h.7v.7h-.7zM206.3 69.9h.7v.7h-.7zM236.5 68.6h.7v.7h-.7zM210.7 68.2h.7v.7h-.7zM197.2 63.5h.7v.7h-.7zM213.7 81.3h.7v.7h-.7zM190.7 85.2h.7v.7h-.7zM221.1 58.4h.7v.7h-.7zM222.8 68.8h.7v.7h-.7zM212.8 59.8h.7v.7h-.7zM212.5 72.4h.7v.7h-.7zM226.7 74.2h.7v.7h-.7zM222.7 78.8h.7v.7h-.7zM197.5 57.5h.7v.7h-.7zM210.9 60.7h.7v.7h-.7zM193.4 66.5h.7v.7h-.7zM214.0 75.3h.7v.7h-.7zM219.6 85.1h.7v.7h-.7zM191.3 73.5h.7v.7h-.7zM190.5 76.9h.7v.7h-.7zM208.7 61.0h.7v.7h-.7zM202.1 76.6h.7v.7h-.7zM210.6 85.1h.7v.7h-.7zM204.5 67.0h.7v.7h-.7zM234.0 75.0h.7v.7h-.7zM191.6 80.3h.7v.7h-.7zM204.9 85.2h.7v.7h-.7zM219.1 80.9h.7v.7h-.7zM232.6 72.1h.7v.7h-.7zM236.3 57.6h.7v.7h-.7zM203.7 81.9h.7v.7h-.7zM186.4 77.0h.7v.7h-.7zM238.0 78.3h.7v.7h-.7zM235.5 89.3h.7v.7h-.7zM215.5 106.3h.7v.7h-.7zM209.0 100.2h.7v.7h-.7zM231.0 92.0h.7v.7h-.7zM184.8 105.8h.7v.7h-.7zM241.9 113.3h.7v.7h-.7zM223.7 96.2h.7v.7h-.7zM238.1 88.1h.7v.7h-.7zM197.3 112.0h.7v.7h-.7zM237.5 99.7h.7v.7h-.7zM238.4 90.3h.7v.7h-.7zM219.0 89.0h.7v.7h-.7zM196.5 92.9h.7v.7h-.7zM182.4 99.8h.7v.7h-.7zM213.0 95.8h.7v.7h-.7zM222.4 88.5h.7v.7h-.7zM214.1 103.7h.7v.7h-.7zM207.0 116.1h.7v.7h-.7zM189.9 100.5h.7v.7h-.7zM210.5 98.7h.7v.7h-.7zM242.4 105.1h.7v.7h-.7zM214.0 100.9h.7v.7h-.7zM209.1 117.2h.7v.7h-.7zM231.5 107.5h.7v.7h-.7zM192.1 105.8h.7v.7h-.7zM189.9 98.0h.7v.7h-.7zM183.4 109.4h.7v.7h-.7zM242.6 107.2h.7v.7h-.7zM217.3 94.8h.7v.7h-.7zM209.4 101.7h.7v.7h-.7zM208.2 95.4h.7v.7h-.7zM195.6 110.8h.7v.7h-.7zM241.1 113.1h.7v.7h-.7zM220.5 87.7h.7v.7h-.7zM200.7 113.7h.7v.7h-.7zM242.3 104.3h.7v.7h-.7zM217.3 108.8h.7v.7h-.7zM197.3 109.6h.7v.7h-.7zM204.6 113.9h.7v.7h-.7zM210.6 108.0h.7v.7h-.7zM216.5 103.9h.7v.7h-.7zM210.6 117.3h.7v.7h-.7zM228.8 100.2h.7v.7h-.7zM213.3 115.5h.7v.7h-.7zM228.3 107.7h.7v.7h-.7zM178.8 90.5h.7v.7h-.7zM168.7 106.8h.7v.7h-.7zM164.7 117.6h.7v.7h-.7zM179.1 99.3h.7v.7h-.7zM169.3 111.3h.7v.7h-.7zM171.5 98.4h.7v.7h-.7zM174.4 98.0h.7v.7h-.7zM156.1 108.1h.7v.7h-.7zM170.2 99.9h.7v.7h-.7zM166.0 118.4h.7v.7h-.7zM174.6 99.8h.7v.7h-.7zM177.5 105.1h.7v.7h-.7zM163.3 107.5h.7v.7h-.7zM173.9 115.5h.7v.7h-.7zM170.8 108.2h.7v.7h-.7zM163.2 88.1h.7v.7h-.7zM164.7 90.5h.7v.7h-.7zM178.4 98.4h.7v.7h-.7zM168.9 110.3h.7v.7h-.7zM157.0 113.5h.7v.7h-.7zM161.1 89.4h.7v.7h-.7zM168.8 99.7h.7v.7h-.7zM177.7 101.0h.7v.7h-.7zM154.6 87.4h.7v.7h-.7zM152.9 102.6h.7v.7h-.7zM172.0 88.4h.7v.7h-.7zM161.2 102.1h.7v.7h-.7zM177.1 117.9h.7v.7h-.7zM176.5 107.2h.7v.7h-.7zM168.1 93.9h.7v.7h-.7zM177.3 94.6h.7v.7h-.7zM178.5 86.0h.7v.7h-.7zM174.9 100.0h.7v.7h-.7zM176.5 97.0h.7v.7h-.7zM182.0 82.0h.7v.7h-.7zM179.4 86.6h.7v.7h-.7zM176.8 96.7h.7v.7h-.7zM176.1 94.8h.7v.7h-.7zM173.4 101.1h.7v.7h-.7zM171.8 110.0h.7v.7h-.7zM181.7 82.3h.7v.7h-.7zM179.7 88.4h.7v.7h-.7zM178.5 90.9h.7v.7h-.7zM179.3 88.9h.7v.7h-.7zM174.2 101.2h.7v.7h-.7zM180.0 86.1h.7v.7h-.7zM176.8 100.3h.7v.7h-.7zM171.9 107.1h.7v.7h-.7zM175.2 99.3h.7v.7h-.7zM170.6 109.8h.7v.7h-.7zM177.9 87.1h.7v.7h-.7zM174.6 105.4h.7v.7h-.7zM171.3 107.9h.7v.7h-.7zM176.0 95.0h.7v.7h-.7zM168.7 114.8h.7v.7h-.7zM171.2 110.8h.7v.7h-.7zM177.7 92.0h.7v.7h-.7zM181.2 87.6h.7v.7h-.7zM169.7 114.1h.7v.7h-.7zM177.0 88.4h.7v.7h-.7zM182.9 81.3h.7v.7h-.7zM175.0 102.5h.7v.7h-.7zM171.4 108.1h.7v.7h-.7zM168.3 113.1h.7v.7h-.7zM180.2 85.0h.7v.7h-.7zM179.9 89.5h.7v.7h-.7zM175.2 98.8h.7v.7h-.7zM177.6 93.4h.7v.7h-.7zM180.3 86.4h.7v.7h-.7zM180.4 86.7h.7v.7h-.7zM177.2 94.8h.7v.7h-.7zM171.2 111.3h.7v.7h-.7zM179.2 89.1h.7v.7h-.7zM170.5 112.6h.7v.7h-.7zM173.4 99.4h.7v.7h-.7zM174.5 102.8h.7v.7h-.7zM174.4 105.1h.7v.7h-.7zM178.9 92.8h.7v.7h-.7zM172.6 102.7h.7v.7h-.7zM171.8 108.3h.7v.7h-.7zM182.2 84.9h.7v.7h-.7zM179.0 91.5h.7v.7h-.7zM176.8 92.6h.7v.7h-.7zM172.4 104.1h.7v.7h-.7zM174.6 99.6h.7v.7h-.7zM171.5 107.7h.7v.7h-.7zM176.3 95.0h.7v.7h-.7zM175.9 96.5h.7v.7h-.7zM172.8 109.5h.7v.7h-.7zM180.0 87.0h.7v.7h-.7zM170.1 112.2h.7v.7h-.7zM167.9 115.2h.7v.7h-.7zM179.9 86.5h.7v.7h-.7zM178.8 88.3h.7v.7h-.7zM170.9 110.2h.7v.7h-.7zM172.5 107.1h.7v.7h-.7zM179.2 88.0h.7v.7h-.7zM176.1 97.1h.7v.7h-.7zM182.6 82.7h.7v.7h-.7zM171.9 104.3h.7v.7h-.7z" fill="#666"/>
<g transform="translate(152 26.8)"><path d="M29.0 53.0 34.0 44.0 39.0 37.0 45.1 31.1 54.0 26.5 64.0 23.6 74.0 25.0 80.9 29.2 84.7 33.0 86.0 40.0" stroke="#555" stroke-width="0.5" fill="none" stroke-linejoin="round"/><path d="M32.0 54.7 36.9 45.8 41.6 39.2 47.0 33.9 55.3 29.7 64.3 27.0 72.9 28.2 78.9 31.9 81.6 34.5 82.7 40.6" stroke="#555" stroke-width="0.5" fill="none" stroke-linejoin="round"/><path d="M34.9 56.3 39.8 47.6 44.2 41.4 49.0 36.7 56.5 32.8 64.5 30.4 71.9 31.5 76.8 34.6 78.6 35.9 79.3 41.2" stroke="#555" stroke-width="0.5" fill="none" stroke-linejoin="round"/><path d="M37.9 58.0 42.6 49.4 46.7 43.7 50.9 39.5 57.8 36.0 64.8 33.8 70.8 34.7 74.8 37.4 75.5 37.4 76.0 41.9" stroke="#555" stroke-width="0.5" fill="none" stroke-linejoin="round"/></g>
</g>
<g clip-path="url(#cp2)">
<path d="M61.0 222.4 60.5 222.6 59.5 222.6 58.5 222.2 57.6 221.3 57.2 220.3 57.0 217.4 56.7 215.8 56.5 212.5 56.2 210.8 55.9 206.8 55.4 180.8 55.6 158.3 57.2 146.8 57.7 145.3 58.5 144.0 59.5 143.0 61.8 141.3 64.5 138.6 65.5 138.0 66.5 137.7 67.0 137.6 67.5 137.7 68.5 138.0 69.5 138.6 71.8 140.3 73.0 140.8 75.0 141.3 78.0 141.4 80.0 141.6 81.0 141.6 83.7 141.3 85.0 141.0 86.5 140.8 87.5 140.5 89.1 140.3 90.0 140.0 91.6 139.8 92.5 139.5 93.9 139.3 95.0 139.0 96.2 138.8 97.0 138.5 98.5 138.3 99.5 138.0 101.0 137.8 102.0 137.6 105.6 137.3 107.5 137.0 110.3 136.8 112.0 136.5 115.0 136.3 121.0 135.6 122.0 135.6 123.0 135.9 128.0 138.1 129.0 138.6 129.5 139.0 130.2 139.8 130.8 141.3 130.8 145.3 131.0 146.7 132.0 148.1 133.5 149.2 134.0 149.8 134.3 150.3 134.8 151.3 135.0 152.3 134.9 153.8 134.6 154.8 134.0 155.8 133.5 156.4 132.5 157.1 131.5 157.6 130.5 157.8 129.0 157.7 127.5 157.3 124.0 157.0 123.0 157.1 120.4 157.8 107.5 162.1 93.6 168.8 92.0 169.7 84.0 176.7 81.0 179.6 79.9 180.8 78.5 182.5 76.4 184.3 75.6 185.3 75.0 186.8 73.9 190.8 72.8 193.8 71.6 196.3 70.5 197.9 69.5 198.9 68.5 199.6 67.5 199.9 67.0 200.0 65.5 199.7 65.0 200.4 64.5 203.4 64.3 206.8 64.0 208.4 63.8 210.8 63.5 212.8 63.3 215.8 63.0 217.5 62.8 220.3 62.4 221.3 61.5 222.2 61.0 222.4ZM78.4 155.8 81.0 153.7 83.5 151.8 87.0 148.8 88.0 147.8 87.5 147.6 86.5 147.5 83.0 147.8 81.8 148.3 80.8 149.3 80.0 149.9 79.0 150.3 77.2 150.8 76.4 151.3 76.0 151.8 75.8 152.3 75.8 152.8 76.0 153.8 76.4 154.8 77.0 155.7 77.5 156.0 78.0 156.0 78.4 155.8Z" fill="#fbfbfb" stroke="#505050" stroke-width="0.38"/>
<path d="M60.5 222.4 60.0 222.5 59.5 222.4 58.5 222.0 57.8 221.3 57.6 220.8 57.2 218.8 57.0 215.5 56.8 213.8 56.5 210.3 56.1 206.8 56.0 193.5 55.8 180.8 56.1 158.3 57.6 146.8 57.7 146.3 58.2 145.3 58.9 144.3 59.5 143.7 60.5 143.0 62.0 142.4 63.5 142.2 67.0 141.7 68.0 141.7 72.8 142.3 75.5 142.4 78.0 142.1 82.0 141.8 90.2 140.3 91.5 140.0 92.8 139.8 94.0 139.5 95.3 139.3 96.5 139.0 97.8 138.8 99.0 138.5 100.5 138.3 102.0 138.0 104.1 137.8 106.0 137.5 108.6 137.3 110.5 137.0 113.1 136.8 115.0 136.5 117.6 136.3 121.0 135.9 122.5 136.0 128.5 138.6 129.0 138.9 129.9 139.8 130.4 140.8 130.5 141.8 130.5 147.1 130.9 148.8 131.5 149.6 132.5 150.3 132.9 150.8 133.2 151.3 133.5 152.3 133.5 152.8 133.4 153.8 133.0 154.7 132.5 155.3 131.5 156.0 131.0 156.2 130.0 156.3 129.5 156.3 128.0 155.9 122.5 155.3 122.0 155.3 121.0 155.6 107.0 159.9 92.3 167.3 91.5 167.8 83.0 175.7 80.0 178.7 77.5 181.6 76.5 182.3 74.5 183.3 73.8 183.8 73.4 184.3 73.0 185.1 71.8 188.3 71.0 190.1 70.3 191.3 69.5 192.3 69.0 192.8 68.0 193.4 67.0 193.6 66.0 193.5 65.5 193.6 65.0 194.9 64.5 198.6 63.9 207.3 63.5 210.5 63.3 213.3 63.0 215.5 62.8 218.3 62.6 220.3 62.4 220.8 62.0 221.5 61.5 222.0 60.5 222.4ZM76.5 165.3 77.0 165.0 77.5 164.5 78.5 163.0 79.8 160.3 80.2 158.8 80.6 157.8 81.2 156.8 81.9 155.8 83.0 154.8 84.3 153.8 90.7 148.3 91.8 147.3 91.5 147.1 91.0 146.9 90.0 146.9 84.4 147.3 81.7 147.8 80.5 148.3 80.0 148.7 79.0 149.1 75.7 149.8 74.4 150.3 73.7 150.8 73.3 151.3 73.1 151.8 73.1 152.8 74.3 158.3 74.9 162.3 75.5 164.5 76.0 165.2 76.5 165.3Z" fill="#f8f8f8" stroke="#505050" stroke-width="0.38"/>
<path d="M61.0 222.1 60.0 222.3 59.0 222.1 58.1 221.3 57.7 220.8 57.6 220.3 57.3 217.3 57.0 213.7 56.3 206.8 56.0 180.8 56.3 158.8 57.9 147.3 58.3 145.8 58.9 144.8 59.5 144.2 60.5 143.4 61.5 143.0 62.0 142.9 63.0 142.8 64.0 142.9 66.5 143.3 69.0 143.2 75.0 143.4 75.5 143.3 77.0 142.6 77.5 142.5 79.4 142.3 83.1 141.8 100.5 138.5 103.5 138.0 106.1 137.8 121.0 136.1 122.0 136.1 123.0 136.4 128.0 138.6 129.0 139.2 129.6 139.8 129.9 140.3 130.3 141.3 130.3 145.3 130.3 148.3 130.0 149.8 130.1 150.3 130.5 150.8 131.5 151.8 131.7 152.3 131.8 152.8 131.7 153.3 131.5 153.8 131.0 154.3 130.5 154.5 130.0 154.6 129.0 154.4 121.5 153.6 121.0 153.6 106.0 158.1 95.0 163.8 91.5 165.6 91.0 165.9 90.5 166.3 81.1 175.3 78.8 177.8 76.9 180.3 76.2 180.8 75.5 181.1 73.0 181.4 72.1 181.8 71.2 182.8 69.5 185.9 68.5 187.0 68.0 187.4 67.5 187.6 67.0 187.6 66.0 187.5 65.5 188.0 65.0 190.1 64.5 194.4 64.0 201.2 63.7 206.8 63.5 208.5 62.4 220.3 62.3 220.8 61.9 221.3 61.0 222.1ZM74.8 172.8 75.0 172.7 75.5 172.4 76.0 171.9 77.0 170.7 78.0 169.1 80.0 165.0 82.0 160.3 82.4 158.8 83.2 157.3 84.0 156.5 94.3 147.8 95.4 146.8 95.0 146.5 94.5 146.4 93.5 146.3 87.2 146.8 83.0 147.3 80.7 147.8 80.0 148.1 78.5 148.5 76.0 148.6 74.0 149.1 72.1 149.8 71.2 150.3 70.7 150.8 70.3 151.3 70.2 151.8 70.2 152.3 71.5 156.5 72.2 159.8 72.6 162.3 73.5 171.2 74.0 172.6 74.5 172.9 74.8 172.8Z" fill="#f4f4f4" stroke="#505050" stroke-width="0.38"/>
<path d="M61.0 221.9 60.5 222.1 60.0 222.2 59.5 222.1 59.0 221.9 58.2 221.3 57.7 220.3 56.5 206.8 56.2 180.8 56.6 158.8 58.2 146.8 58.6 145.8 59.2 144.8 60.0 144.1 61.0 143.5 62.0 143.3 63.0 143.2 64.5 143.4 66.5 144.2 67.5 144.4 74.5 144.5 75.0 144.3 76.5 143.1 77.5 142.7 81.0 142.3 84.0 141.8 101.5 138.5 121.0 136.3 121.5 136.3 122.5 136.4 128.5 139.0 129.0 139.4 129.8 140.3 130.1 141.3 130.1 147.8 130.1 148.3 129.8 149.3 129.4 149.8 128.5 150.7 127.5 151.1 126.0 151.3 125.0 151.5 123.5 151.6 121.0 151.5 105.0 156.3 90.0 164.0 84.5 168.8 83.0 169.8 82.0 170.3 81.5 170.1 81.4 169.8 81.5 168.3 82.5 165.3 84.1 160.8 84.5 159.3 85.0 158.5 85.5 157.9 98.2 147.3 99.2 146.3 98.5 146.0 97.5 145.8 90.4 146.3 85.6 146.8 81.9 147.3 79.0 148.0 78.0 148.2 77.0 148.1 75.5 147.6 75.0 147.7 73.0 148.1 69.0 149.3 68.5 149.5 68.0 149.9 67.6 150.8 67.5 151.5 67.5 153.8 68.0 156.4 69.5 159.6 70.0 161.3 70.4 163.3 70.6 165.3 70.8 167.8 70.8 170.3 70.7 172.8 70.1 176.8 69.8 177.8 69.4 178.8 68.5 180.1 68.0 180.6 67.5 180.9 66.5 181.0 66.0 181.2 65.5 182.5 65.0 185.6 64.5 190.6 64.0 197.6 63.5 207.3 62.3 220.3 61.8 221.3 61.0 221.9ZM123.9 145.8 123.8 144.8 123.5 144.6 123.0 144.5 122.5 144.7 122.4 144.8 123.3 145.8 123.5 146.2 123.9 145.8Z" fill="#f0f0f0" stroke="#505050" stroke-width="0.38"/>
<path d="M128.0 150.3 127.5 150.5 126.5 150.3 126.0 150.1 125.2 149.3 124.8 148.3 124.5 145.7 124.2 144.3 122.9 143.8 121.0 143.2 114.5 143.8 112.5 144.1 109.5 144.3 107.5 144.6 104.5 144.8 102.0 145.2 93.4 145.8 88.5 146.3 84.1 146.8 80.9 147.3 79.5 147.6 78.0 147.8 77.0 147.7 76.0 147.1 75.6 146.8 75.3 146.3 75.1 145.8 75.1 145.3 75.3 144.8 75.6 144.3 76.0 143.8 77.0 143.1 77.5 142.9 82.1 142.3 102.0 138.6 121.5 136.4 122.5 136.6 128.0 139.0 129.2 139.8 129.8 140.8 130.0 141.8 129.9 148.3 129.7 148.8 129.4 149.3 129.0 149.8 128.5 150.2 128.0 150.3ZM60.5 221.9 60.0 222.0 59.5 221.9 59.0 221.7 58.4 221.3 58.1 220.8 57.9 220.3 56.7 206.8 56.5 180.8 56.9 158.8 58.3 148.3 58.7 146.3 58.9 145.8 59.5 144.9 60.5 144.1 62.0 143.5 63.0 143.5 63.5 143.5 64.5 143.8 65.0 144.0 66.0 144.6 67.4 145.8 67.9 146.3 68.1 146.8 67.8 147.8 67.5 148.4 67.0 150.3 67.0 150.8 66.9 153.3 66.8 162.3 66.7 166.8 66.3 171.3 65.0 180.6 64.5 186.3 64.0 193.7 63.3 206.8 62.2 219.8 62.1 220.3 61.9 220.8 61.6 221.3 61.0 221.7 60.5 221.9ZM97.0 155.8 96.0 156.0 95.5 155.8 95.5 155.3 95.8 154.8 96.5 153.8 98.4 151.8 101.5 148.8 102.0 148.5 103.0 148.3 108.5 148.5 110.8 148.8 111.5 149.3 111.3 149.8 110.6 150.3 108.6 151.3 104.0 153.1 100.0 154.8 97.0 155.8Z" fill="#eaeaea" stroke="#505050" stroke-width="0.38"/>
<path d="M128.5 149.8 128.0 150.1 127.0 150.1 126.5 149.9 126.0 149.6 125.4 148.8 125.2 148.3 124.5 144.2 123.9 143.8 121.0 142.8 86.8 146.3 82.6 146.8 78.0 147.6 77.5 147.6 77.0 147.4 76.2 146.8 75.8 146.3 75.6 145.8 75.6 145.3 75.7 144.8 76.4 143.8 77.0 143.4 78.0 143.1 83.2 142.3 101.5 138.9 121.5 136.6 122.0 136.7 123.0 137.0 128.0 139.2 128.5 139.5 129.3 140.3 129.7 141.3 129.8 141.8 129.7 147.8 129.6 148.3 129.4 148.8 129.0 149.5 128.5 149.8ZM60.0 221.8 59.5 221.8 59.0 221.6 58.2 220.8 58.0 220.3 56.9 206.8 56.7 180.8 57.2 158.8 58.7 147.3 59.0 146.3 59.6 145.3 60.5 144.5 61.5 144.0 62.0 143.9 63.0 143.8 64.0 144.0 64.5 144.2 65.4 144.8 66.0 145.3 66.7 146.3 66.9 146.8 66.9 147.8 66.5 150.8 66.3 159.3 65.8 166.8 65.3 173.8 64.5 181.3 63.5 198.4 63.1 206.8 62.2 218.3 62.0 220.3 61.8 220.8 61.0 221.6 60.5 221.8 60.0 221.8Z" fill="#e0e0e0" stroke="#505050" stroke-width="0.38"/>
<path d="M127.5 149.8 127.0 149.8 126.5 149.6 126.0 149.2 125.7 148.8 125.5 148.3 124.8 144.3 124.6 143.8 121.0 142.6 103.3 144.3 89.3 145.8 82.5 146.6 78.0 147.3 77.5 147.2 77.0 147.1 76.5 146.7 76.2 146.3 76.0 145.8 75.9 145.3 76.0 144.8 76.3 144.3 77.0 143.6 77.5 143.4 84.4 142.3 102.0 139.0 121.5 136.8 122.5 137.1 128.0 139.5 128.6 139.8 129.0 140.3 129.3 140.8 129.5 141.8 129.4 148.3 129.2 148.8 128.5 149.5 128.0 149.7 127.5 149.8ZM61.0 221.3 60.5 221.6 60.0 221.6 59.5 221.6 59.0 221.3 58.5 220.8 58.2 220.3 57.1 206.8 57.0 180.8 57.4 164.8 57.6 158.3 59.2 146.8 59.6 145.8 60.5 144.9 61.5 144.4 62.5 144.2 63.0 144.2 64.0 144.4 64.5 144.7 65.4 145.3 66.1 146.3 66.3 146.8 66.4 147.8 66.0 151.8 65.8 159.3 65.3 167.3 64.0 184.0 62.9 206.8 61.8 219.8 61.8 220.3 61.5 220.8 61.0 221.3Z" fill="#d2d2d2" stroke="#505050" stroke-width="0.38"/>
<path d="M128.0 149.4 127.5 149.5 127.0 149.4 126.5 149.2 126.0 148.6 125.9 148.3 125.0 143.8 124.5 143.5 121.0 142.3 105.5 143.8 84.0 146.1 78.0 147.0 77.3 146.8 76.6 146.3 76.4 145.8 76.3 145.3 76.4 144.8 76.7 144.3 77.0 144.0 77.5 143.8 82.5 142.9 100.0 139.6 103.0 139.1 121.5 137.1 122.0 137.2 123.0 137.6 128.0 139.7 128.7 140.3 129.1 140.8 129.2 141.3 129.3 141.8 129.1 147.8 129.1 148.3 128.8 148.8 128.5 149.1 128.0 149.4ZM60.5 221.3 60.0 221.4 59.4 221.3 58.8 220.8 58.5 220.3 57.4 206.8 57.3 180.8 57.9 158.8 59.6 146.8 60.2 145.8 61.0 145.1 62.0 144.7 63.0 144.6 64.0 144.9 64.7 145.3 65.2 145.8 65.8 146.8 65.9 147.8 65.6 151.8 65.1 162.3 63.8 181.3 62.6 206.8 61.6 219.8 61.5 220.3 61.2 220.8 61.0 221.0 60.5 221.3Z" fill="#c6c6c6" stroke="#505050" stroke-width="0.38"/>
<path d="M128.0 148.9 127.5 149.0 127.0 148.9 126.4 148.3 125.4 143.8 125.1 143.3 121.0 141.9 84.0 145.6 78.0 146.5 77.5 146.4 77.0 145.9 76.8 145.3 77.0 144.8 77.5 144.3 82.0 143.5 90.4 141.8 102.0 139.6 121.5 137.4 122.5 137.7 128.0 140.1 128.7 140.8 128.9 141.3 129.0 141.8 128.6 147.8 128.5 148.4 128.0 148.9ZM60.5 221.0 60.0 221.1 59.5 221.0 59.2 220.8 58.8 220.3 58.5 216.9 57.7 206.8 57.7 180.3 58.5 158.3 60.1 147.3 60.5 146.3 61.0 145.8 61.5 145.5 62.5 145.2 63.5 145.3 64.0 145.6 64.5 145.9 65.1 146.8 65.3 147.8 65.0 151.3 64.6 162.3 63.4 181.3 62.3 206.8 61.3 219.8 61.2 220.3 61.0 220.6 60.5 221.0Z" fill="#c8c8c8" stroke="#505050" stroke-width="0.38"/>
<path d="M127.5 146.6 127.0 146.6 126.5 145.9 126.0 144.4 125.7 143.3 125.5 143.0 121.5 141.6 121.0 141.5 93.4 144.3 88.0 144.6 86.5 144.5 85.8 144.3 85.8 143.8 86.8 143.3 88.5 142.8 95.1 141.3 102.0 139.9 121.5 137.8 122.0 137.9 127.5 140.3 128.2 140.8 128.5 141.3 128.6 141.8 128.4 143.8 128.0 146.0 127.5 146.6ZM60.0 220.4 59.5 220.2 59.0 217.2 58.1 206.8 58.2 180.8 59.0 159.8 59.1 158.3 59.5 155.7 61.0 147.3 61.2 146.8 61.7 146.3 62.5 146.0 63.0 146.0 63.5 146.2 64.0 146.6 64.4 147.3 64.4 147.8 64.2 151.3 64.1 159.3 63.6 170.3 62.9 181.3 61.9 206.8 61.0 217.2 60.5 220.2 60.0 220.4Z" fill="#dcdcdc" stroke="#505050" stroke-width="0.38"/>
<path d="M98.5 143.3 94.8 143.3 94.3 142.8 94.7 142.3 96.0 141.8 97.8 141.3 102.4 140.3 121.5 138.3 122.9 138.8 127.1 140.8 127.7 141.3 127.9 141.8 127.5 142.9 127.0 143.1 126.5 142.9 126.0 142.5 121.5 141.1 121.0 141.0 104.3 142.8 98.5 143.3ZM60.0 213.3 59.5 212.9 59.0 210.3 58.6 206.8 58.8 180.8 59.0 175.5 59.5 165.3 60.0 158.3 60.5 156.2 61.0 154.8 61.5 154.1 62.0 153.9 62.5 153.9 63.0 155.1 63.3 158.8 63.0 167.9 62.3 181.3 61.4 206.8 61.0 210.3 60.5 212.9 60.0 213.3Z" fill="#f0f0f0" stroke="#505050" stroke-width="0.38"/>
<path d="M93.8 176.2h.7v.7h-.7zM101.5 178.1h.7v.7h-.7zM116.3 160.9h.7v.7h-.7zM80.8 185.6h.7v.7h-.7zM95.0 166.3h.7v.7h-.7zM137.7 173.8h.7v.7h-.7zM128.5 174.0h.7v.7h-.7zM117.1 163.6h.7v.7h-.7zM116.8 186.6h.7v.7h-.7zM110.3 182.5h.7v.7h-.7zM118.9 160.8h.7v.7h-.7zM124.0 177.7h.7v.7h-.7zM97.5 159.8h.7v.7h-.7zM130.2 173.9h.7v.7h-.7zM121.7 186.9h.7v.7h-.7zM121.4 188.3h.7v.7h-.7zM102.9 184.4h.7v.7h-.7zM105.8 188.7h.7v.7h-.7zM131.0 161.9h.7v.7h-.7zM87.9 165.7h.7v.7h-.7zM136.0 172.8h.7v.7h-.7zM116.3 168.4h.7v.7h-.7zM109.4 171.1h.7v.7h-.7zM100.4 177.5h.7v.7h-.7zM113.9 187.7h.7v.7h-.7zM119.6 188.5h.7v.7h-.7zM129.7 190.5h.7v.7h-.7zM118.9 164.0h.7v.7h-.7zM129.9 189.7h.7v.7h-.7zM132.5 177.0h.7v.7h-.7zM121.4 165.6h.7v.7h-.7zM128.2 177.2h.7v.7h-.7zM96.5 160.8h.7v.7h-.7zM129.5 190.5h.7v.7h-.7zM85.1 184.4h.7v.7h-.7zM103.8 163.6h.7v.7h-.7zM97.0 183.4h.7v.7h-.7zM130.6 160.2h.7v.7h-.7zM115.6 160.2h.7v.7h-.7zM121.7 169.4h.7v.7h-.7zM131.1 190.2h.7v.7h-.7zM109.3 190.8h.7v.7h-.7zM98.0 161.3h.7v.7h-.7zM114.8 159.8h.7v.7h-.7zM91.4 171.9h.7v.7h-.7zM115.4 163.8h.7v.7h-.7zM82.5 186.6h.7v.7h-.7zM98.2 189.5h.7v.7h-.7zM132.0 170.9h.7v.7h-.7zM106.7 175.4h.7v.7h-.7zM117.3 177.9h.7v.7h-.7zM112.4 178.6h.7v.7h-.7zM134.6 175.0h.7v.7h-.7zM105.0 181.8h.7v.7h-.7zM93.8 168.4h.7v.7h-.7zM136.7 175.5h.7v.7h-.7zM111.8 159.2h.7v.7h-.7zM104.1 177.4h.7v.7h-.7zM81.2 178.5h.7v.7h-.7zM116.7 160.7h.7v.7h-.7zM116.4 173.7h.7v.7h-.7zM119.4 170.1h.7v.7h-.7zM121.0 182.4h.7v.7h-.7zM81.3 160.7h.7v.7h-.7zM119.2 189.6h.7v.7h-.7zM94.6 173.4h.7v.7h-.7zM114.4 169.0h.7v.7h-.7zM101.1 168.8h.7v.7h-.7zM101.4 177.9h.7v.7h-.7zM97.4 170.9h.7v.7h-.7zM124.8 159.7h.7v.7h-.7zM113.0 182.3h.7v.7h-.7zM98.0 165.9h.7v.7h-.7zM126.6 166.4h.7v.7h-.7zM90.9 172.7h.7v.7h-.7zM120.5 162.1h.7v.7h-.7zM98.7 169.5h.7v.7h-.7zM128.3 172.8h.7v.7h-.7zM129.6 164.2h.7v.7h-.7zM99.5 179.6h.7v.7h-.7zM131.3 173.2h.7v.7h-.7zM93.1 162.7h.7v.7h-.7zM110.7 164.9h.7v.7h-.7zM126.8 185.6h.7v.7h-.7zM90.6 167.7h.7v.7h-.7zM126.8 179.3h.7v.7h-.7zM126.8 169.8h.7v.7h-.7zM87.5 168.1h.7v.7h-.7zM126.0 167.5h.7v.7h-.7zM100.1 172.1h.7v.7h-.7zM104.3 171.9h.7v.7h-.7zM133.4 163.8h.7v.7h-.7zM80.3 189.0h.7v.7h-.7zM131.0 190.4h.7v.7h-.7zM105.2 189.2h.7v.7h-.7zM133.8 165.9h.7v.7h-.7zM123.2 185.6h.7v.7h-.7zM118.5 175.4h.7v.7h-.7zM96.8 169.7h.7v.7h-.7zM93.2 161.0h.7v.7h-.7zM114.1 168.0h.7v.7h-.7zM127.0 160.2h.7v.7h-.7zM132.4 181.0h.7v.7h-.7zM133.6 187.5h.7v.7h-.7zM132.2 177.3h.7v.7h-.7zM80.8 182.6h.7v.7h-.7zM90.0 168.4h.7v.7h-.7zM118.4 175.6h.7v.7h-.7zM104.0 188.8h.7v.7h-.7zM115.5 169.7h.7v.7h-.7zM94.6 186.4h.7v.7h-.7zM107.7 183.8h.7v.7h-.7zM100.4 165.1h.7v.7h-.7zM111.0 184.9h.7v.7h-.7zM89.9 184.1h.7v.7h-.7zM133.5 184.6h.7v.7h-.7zM127.8 159.0h.7v.7h-.7zM116.5 186.4h.7v.7h-.7zM82.9 167.5h.7v.7h-.7zM95.6 175.7h.7v.7h-.7zM104.5 173.9h.7v.7h-.7zM125.0 158.9h.7v.7h-.7zM83.2 162.9h.7v.7h-.7zM87.2 161.0h.7v.7h-.7zM136.5 186.1h.7v.7h-.7zM85.0 174.9h.7v.7h-.7zM98.3 168.9h.7v.7h-.7zM100.4 179.5h.7v.7h-.7zM114.0 170.3h.7v.7h-.7zM91.1 169.3h.7v.7h-.7zM87.2 176.6h.7v.7h-.7zM121.5 171.0h.7v.7h-.7zM84.6 164.5h.7v.7h-.7zM101.6 178.1h.7v.7h-.7zM125.4 171.0h.7v.7h-.7zM126.5 178.7h.7v.7h-.7zM105.0 170.7h.7v.7h-.7zM108.8 181.3h.7v.7h-.7zM104.4 181.0h.7v.7h-.7zM106.7 166.6h.7v.7h-.7zM111.1 181.0h.7v.7h-.7zM84.2 172.4h.7v.7h-.7zM104.7 186.9h.7v.7h-.7zM134.3 170.8h.7v.7h-.7zM132.1 184.1h.7v.7h-.7zM95.2 173.7h.7v.7h-.7zM87.1 184.8h.7v.7h-.7zM118.4 187.2h.7v.7h-.7zM126.0 180.2h.7v.7h-.7zM122.6 176.8h.7v.7h-.7zM86.0 177.6h.7v.7h-.7zM80.3 163.4h.7v.7h-.7zM124.9 160.2h.7v.7h-.7zM85.3 162.0h.7v.7h-.7zM131.1 164.5h.7v.7h-.7zM81.4 185.7h.7v.7h-.7zM87.0 185.8h.7v.7h-.7zM119.1 185.6h.7v.7h-.7zM135.2 177.3h.7v.7h-.7zM126.3 160.0h.7v.7h-.7zM124.5 175.2h.7v.7h-.7zM121.5 162.2h.7v.7h-.7zM123.4 188.7h.7v.7h-.7zM83.5 169.2h.7v.7h-.7zM112.7 185.3h.7v.7h-.7zM94.0 164.6h.7v.7h-.7zM94.5 178.5h.7v.7h-.7zM123.7 171.4h.7v.7h-.7zM101.3 171.5h.7v.7h-.7zM100.3 172.2h.7v.7h-.7zM84.8 174.8h.7v.7h-.7zM136.4 172.0h.7v.7h-.7zM123.3 163.9h.7v.7h-.7zM120.1 183.0h.7v.7h-.7zM119.1 175.3h.7v.7h-.7zM108.1 179.4h.7v.7h-.7zM132.0 163.6h.7v.7h-.7zM85.6 182.7h.7v.7h-.7zM133.2 175.4h.7v.7h-.7zM105.7 181.8h.7v.7h-.7zM90.8 167.4h.7v.7h-.7zM91.6 177.5h.7v.7h-.7zM98.3 166.2h.7v.7h-.7zM120.1 189.3h.7v.7h-.7zM97.2 181.4h.7v.7h-.7zM104.0 186.1h.7v.7h-.7zM113.9 167.3h.7v.7h-.7zM92.6 159.5h.7v.7h-.7zM107.8 171.0h.7v.7h-.7zM90.0 170.3h.7v.7h-.7zM98.7 183.6h.7v.7h-.7zM88.3 190.5h.7v.7h-.7zM107.8 178.0h.7v.7h-.7zM107.1 185.5h.7v.7h-.7zM127.7 176.6h.7v.7h-.7zM107.9 181.9h.7v.7h-.7zM129.7 171.6h.7v.7h-.7zM122.5 189.5h.7v.7h-.7zM107.1 166.1h.7v.7h-.7zM93.6 181.8h.7v.7h-.7zM119.2 189.5h.7v.7h-.7zM129.5 166.5h.7v.7h-.7zM91.0 167.1h.7v.7h-.7zM90.9 181.4h.7v.7h-.7zM129.8 187.6h.7v.7h-.7zM94.8 186.5h.7v.7h-.7zM98.2 172.3h.7v.7h-.7zM122.3 161.5h.7v.7h-.7zM85.4 185.5h.7v.7h-.7zM96.9 170.2h.7v.7h-.7zM113.7 180.4h.7v.7h-.7zM80.4 169.5h.7v.7h-.7zM105.3 174.3h.7v.7h-.7zM92.2 177.5h.7v.7h-.7zM135.4 171.3h.7v.7h-.7zM111.6 162.6h.7v.7h-.7zM95.9 180.1h.7v.7h-.7zM86.5 187.2h.7v.7h-.7zM132.7 161.9h.7v.7h-.7zM134.6 170.8h.7v.7h-.7zM124.8 183.0h.7v.7h-.7zM97.1 180.4h.7v.7h-.7zM117.9 184.6h.7v.7h-.7zM95.4 182.9h.7v.7h-.7zM135.8 180.3h.7v.7h-.7zM111.1 162.4h.7v.7h-.7zM108.6 170.1h.7v.7h-.7zM121.6 180.5h.7v.7h-.7zM112.9 164.6h.7v.7h-.7zM117.4 179.0h.7v.7h-.7zM90.4 187.3h.7v.7h-.7zM118.0 162.7h.7v.7h-.7zM134.0 163.3h.7v.7h-.7zM99.2 181.9h.7v.7h-.7zM114.7 176.6h.7v.7h-.7zM117.6 173.4h.7v.7h-.7zM98.1 164.4h.7v.7h-.7zM84.0 181.7h.7v.7h-.7zM123.8 176.2h.7v.7h-.7zM122.9 170.3h.7v.7h-.7zM94.5 203.1h.7v.7h-.7zM132.1 192.1h.7v.7h-.7zM109.3 198.7h.7v.7h-.7zM125.7 202.1h.7v.7h-.7zM98.6 203.7h.7v.7h-.7zM111.6 215.5h.7v.7h-.7zM99.9 217.9h.7v.7h-.7zM85.0 199.5h.7v.7h-.7zM84.2 194.4h.7v.7h-.7zM126.3 214.1h.7v.7h-.7zM89.5 196.9h.7v.7h-.7zM103.8 214.6h.7v.7h-.7zM128.6 214.8h.7v.7h-.7zM114.7 195.5h.7v.7h-.7zM102.7 197.0h.7v.7h-.7zM110.7 209.0h.7v.7h-.7zM90.5 198.8h.7v.7h-.7zM126.5 191.8h.7v.7h-.7zM127.8 219.3h.7v.7h-.7zM136.9 203.1h.7v.7h-.7zM112.3 209.5h.7v.7h-.7zM117.3 222.1h.7v.7h-.7zM120.6 200.4h.7v.7h-.7zM131.3 206.3h.7v.7h-.7zM115.3 214.1h.7v.7h-.7zM78.1 215.5h.7v.7h-.7zM119.0 206.5h.7v.7h-.7zM110.5 205.5h.7v.7h-.7zM90.0 207.7h.7v.7h-.7zM80.3 206.8h.7v.7h-.7zM118.0 205.0h.7v.7h-.7zM113.1 221.5h.7v.7h-.7zM133.3 195.1h.7v.7h-.7zM127.1 210.7h.7v.7h-.7zM81.1 202.3h.7v.7h-.7zM92.5 193.3h.7v.7h-.7zM111.4 220.6h.7v.7h-.7zM98.0 218.7h.7v.7h-.7zM121.1 195.1h.7v.7h-.7zM131.2 210.0h.7v.7h-.7zM74.0 213.7h.7v.7h-.7zM68.7 201.8h.7v.7h-.7zM70.6 220.6h.7v.7h-.7zM72.1 204.8h.7v.7h-.7zM69.2 206.3h.7v.7h-.7zM51.1 192.2h.7v.7h-.7zM50.2 197.2h.7v.7h-.7zM52.5 206.7h.7v.7h-.7zM67.6 208.0h.7v.7h-.7zM59.8 211.6h.7v.7h-.7zM56.5 205.7h.7v.7h-.7zM69.2 203.6h.7v.7h-.7zM53.1 219.6h.7v.7h-.7zM68.2 202.5h.7v.7h-.7zM58.4 207.7h.7v.7h-.7zM64.7 198.0h.7v.7h-.7zM48.1 197.5h.7v.7h-.7zM69.9 195.4h.7v.7h-.7zM60.9 197.0h.7v.7h-.7zM53.9 196.3h.7v.7h-.7zM59.3 196.2h.7v.7h-.7zM48.8 194.3h.7v.7h-.7zM52.7 206.5h.7v.7h-.7zM49.7 191.5h.7v.7h-.7zM60.5 203.8h.7v.7h-.7zM67.7 192.4h.7v.7h-.7zM59.3 203.5h.7v.7h-.7zM48.7 221.7h.7v.7h-.7zM54.1 193.8h.7v.7h-.7zM61.3 196.1h.7v.7h-.7zM72.8 198.0h.7v.7h-.7zM65.6 216.3h.7v.7h-.7zM73.2 192.5h.7v.7h-.7zM68.9 209.3h.7v.7h-.7zM75.0 190.5h.7v.7h-.7zM65.2 213.4h.7v.7h-.7zM72.9 198.7h.7v.7h-.7zM66.3 215.9h.7v.7h-.7zM64.6 215.4h.7v.7h-.7zM68.6 211.8h.7v.7h-.7zM77.3 190.4h.7v.7h-.7zM65.0 218.8h.7v.7h-.7zM77.9 187.0h.7v.7h-.7zM76.7 190.5h.7v.7h-.7zM68.5 205.6h.7v.7h-.7zM67.2 211.4h.7v.7h-.7zM73.9 189.7h.7v.7h-.7zM69.2 206.8h.7v.7h-.7zM74.4 192.4h.7v.7h-.7zM67.0 211.8h.7v.7h-.7zM73.5 195.3h.7v.7h-.7zM67.0 213.4h.7v.7h-.7zM71.1 201.6h.7v.7h-.7zM66.4 217.2h.7v.7h-.7zM74.7 195.7h.7v.7h-.7zM72.0 202.6h.7v.7h-.7zM69.1 207.7h.7v.7h-.7zM70.6 205.1h.7v.7h-.7zM72.7 199.7h.7v.7h-.7zM73.5 197.0h.7v.7h-.7zM66.2 212.7h.7v.7h-.7zM65.4 220.7h.7v.7h-.7zM67.0 211.0h.7v.7h-.7zM73.9 191.3h.7v.7h-.7zM72.2 201.1h.7v.7h-.7zM66.2 215.7h.7v.7h-.7zM65.9 217.9h.7v.7h-.7zM77.5 188.9h.7v.7h-.7zM68.5 210.1h.7v.7h-.7zM73.5 195.2h.7v.7h-.7zM68.7 206.4h.7v.7h-.7zM67.1 214.0h.7v.7h-.7zM75.9 192.2h.7v.7h-.7zM71.0 202.7h.7v.7h-.7zM69.2 207.1h.7v.7h-.7zM72.1 199.1h.7v.7h-.7zM72.9 196.4h.7v.7h-.7zM70.4 206.9h.7v.7h-.7zM71.1 204.5h.7v.7h-.7zM68.5 212.6h.7v.7h-.7zM77.6 189.0h.7v.7h-.7zM76.2 186.9h.7v.7h-.7zM79.1 185.3h.7v.7h-.7zM71.4 201.4h.7v.7h-.7zM78.6 184.5h.7v.7h-.7zM77.3 187.4h.7v.7h-.7zM74.1 195.3h.7v.7h-.7zM74.8 197.4h.7v.7h-.7zM67.8 209.8h.7v.7h-.7zM74.6 192.8h.7v.7h-.7zM66.1 216.2h.7v.7h-.7zM66.9 217.4h.7v.7h-.7zM76.6 194.6h.7v.7h-.7zM76.0 189.4h.7v.7h-.7zM68.0 208.4h.7v.7h-.7zM70.9 201.7h.7v.7h-.7zM66.9 209.5h.7v.7h-.7zM75.3 192.0h.7v.7h-.7zM76.0 191.4h.7v.7h-.7zM71.4 200.6h.7v.7h-.7z" fill="#666"/>
<g transform="translate(48 130.8)"><path d="M8.8 21 Q8.8 14.5 13 14.5 Q18 14.5 18 22 L16.6 60 L15.6 84 Q15.2 89.3 12.2 89.3 Q8.9 89.3 8.9 84 Z" stroke="#333" stroke-width="1.2" fill="none" opacity="0.8"/></g>
</g>
<g clip-path="url(#cp3)">
<path d="M164.0 219.3 163.5 219.4 163.0 219.3 162.5 219.2 162.0 218.9 161.4 218.3 161.1 217.8 160.9 216.8 160.5 210.6 160.2 208.3 160.0 203.8 159.9 202.8 159.5 187.2 159.3 180.8 159.8 158.3 161.4 146.8 161.7 145.8 161.9 145.3 162.2 144.8 162.9 143.8 163.5 143.2 164.5 142.5 166.0 141.9 168.4 141.3 170.5 140.0 171.0 139.8 171.5 139.7 172.5 139.7 173.5 140.0 174.0 140.3 175.0 141.1 175.6 141.8 176.5 143.2 177.4 144.8 178.6 147.8 180.5 153.8 181.0 155.1 181.5 155.9 182.0 156.4 182.5 156.6 183.0 156.5 184.0 156.1 186.0 154.8 185.8 154.3 185.0 154.1 184.5 153.8 183.6 152.8 183.4 152.3 183.2 151.8 183.2 150.8 183.7 149.8 184.5 149.0 185.9 148.3 191.0 145.5 191.5 145.3 195.5 143.0 197.3 142.3 198.0 141.9 198.5 141.8 199.0 141.5 199.7 141.3 200.5 140.9 200.9 140.8 201.5 140.5 207.0 138.5 210.4 137.8 211.5 137.5 212.6 137.3 213.5 137.0 214.7 136.8 215.5 136.5 216.9 136.3 217.5 136.1 219.1 135.8 220.5 135.4 222.0 135.1 223.5 135.0 230.0 134.8 231.0 135.0 232.0 135.7 232.7 136.8 232.9 137.8 232.8 138.3 232.4 139.3 231.7 140.3 231.7 140.8 232.6 142.3 233.1 143.3 233.5 143.8 235.5 145.8 236.0 146.2 237.0 146.8 237.6 147.3 238.3 148.3 238.8 149.3 239.0 150.3 238.9 151.8 238.6 152.8 238.0 153.8 237.5 154.4 236.5 155.1 235.0 155.7 233.5 155.8 232.0 155.5 229.0 155.5 228.0 155.7 227.0 156.1 213.5 163.1 197.6 170.8 195.0 172.2 189.5 176.3 186.4 178.8 183.8 181.3 183.0 182.5 181.5 184.3 180.9 185.3 180.4 186.8 179.2 191.8 178.2 194.8 177.0 197.5 176.3 198.8 175.5 199.9 174.6 200.8 174.0 201.3 173.5 201.6 172.5 201.9 171.5 201.9 171.0 201.8 170.5 201.6 169.5 201.0 169.0 200.9 168.5 202.4 168.3 203.8 168.0 204.8 167.8 206.3 167.5 207.6 167.3 209.3 167.0 210.7 166.8 212.8 166.5 214.0 166.3 216.3 165.9 217.8 165.7 218.3 165.0 219.0 164.5 219.2 164.0 219.3Z" fill="#fbfbfb" stroke="#505050" stroke-width="0.38"/>
<path d="M164.5 219.1 163.5 219.2 162.5 219.1 161.6 218.3 161.2 217.8 161.1 217.3 160.5 207.6 160.1 202.8 159.6 180.8 160.2 158.3 161.8 146.8 162.3 145.3 163.0 144.4 164.0 143.4 164.5 143.1 165.5 142.6 166.5 142.4 168.0 142.3 169.0 142.5 170.5 143.2 171.4 143.8 172.4 144.8 175.0 147.9 175.6 148.8 176.4 150.3 177.2 152.3 178.2 155.3 179.4 159.8 180.2 163.3 180.5 163.9 181.0 164.3 181.5 164.3 182.0 164.1 183.0 162.9 183.5 162.2 183.9 160.8 184.4 159.8 185.0 158.8 185.8 157.8 191.8 152.8 191.5 152.5 189.8 152.8 189.0 153.1 188.2 153.3 187.5 153.6 186.5 153.8 186.0 153.9 185.0 153.7 184.5 153.3 183.7 152.3 183.5 151.3 183.7 150.3 184.0 149.8 185.0 149.0 196.0 143.1 206.5 139.0 221.5 135.4 230.0 135.0 230.5 135.0 231.5 135.5 232.3 136.3 232.5 136.8 232.6 137.8 232.4 138.8 232.0 139.3 231.0 140.2 230.6 140.3 230.0 140.7 229.6 140.8 229.5 141.3 230.3 142.3 231.3 143.8 235.0 147.2 236.0 147.9 236.9 148.8 237.4 149.8 237.5 150.8 237.4 151.8 236.9 152.8 236.0 153.7 235.5 154.0 234.5 154.3 233.5 154.3 232.5 154.1 231.5 154.1 227.5 154.0 227.0 154.0 226.5 154.2 195.0 170.0 189.5 174.3 186.0 177.3 183.5 179.8 181.8 181.8 179.5 183.8 179.1 184.3 178.3 185.8 177.2 189.3 176.4 191.3 175.5 193.0 174.5 194.3 173.5 195.2 172.5 195.6 171.5 195.6 171.0 195.4 169.5 194.6 169.0 195.3 168.5 197.9 168.0 203.3 167.0 209.2 166.3 214.8 166.0 216.2 165.9 217.3 165.8 217.8 165.4 218.3 164.5 219.1Z" fill="#f8f8f8" stroke="#505050" stroke-width="0.38"/>
<path d="M164.5 218.9 164.0 219.1 163.5 219.1 163.0 219.1 162.5 218.9 161.7 218.3 161.2 217.3 161.0 212.8 160.3 202.8 160.2 199.3 159.9 180.8 160.6 158.3 162.1 146.8 162.3 146.3 162.7 145.3 163.1 144.8 164.0 143.8 165.0 143.2 166.0 142.9 167.5 142.7 169.0 143.0 170.0 143.5 170.9 144.3 171.8 145.3 172.4 146.8 173.0 151.2 173.5 152.4 174.5 153.7 175.1 154.8 175.8 156.3 176.5 158.4 177.3 161.8 178.0 166.5 178.5 169.0 179.0 170.1 179.5 170.6 180.0 170.6 180.5 170.4 181.5 169.6 183.0 167.7 184.0 166.0 185.5 163.1 186.1 161.8 186.6 160.3 187.5 158.9 196.6 151.3 197.1 150.8 197.5 150.3 196.5 150.3 196.0 150.5 194.8 150.8 187.0 153.5 186.5 153.6 186.0 153.7 185.5 153.6 185.0 153.4 184.5 153.1 183.9 152.3 183.7 151.8 183.7 150.8 183.9 150.3 184.5 149.6 195.5 143.5 207.0 139.0 221.5 135.7 230.0 135.2 231.0 135.4 231.5 135.7 232.3 136.8 232.4 137.8 232.4 138.3 232.1 138.8 231.5 139.6 231.0 139.9 230.5 140.1 229.6 140.3 229.0 140.6 228.2 140.8 227.2 141.3 227.2 141.8 228.3 142.8 229.4 144.3 235.5 149.8 235.7 150.3 235.8 150.8 235.7 151.3 235.5 151.8 235.0 152.3 234.5 152.5 234.0 152.6 233.0 152.5 226.0 152.4 210.5 159.9 194.5 168.1 188.5 173.0 185.5 175.7 183.0 178.3 181.0 180.8 180.0 181.5 178.0 182.4 177.4 182.8 177.0 183.2 176.3 184.3 175.1 186.8 174.5 187.8 173.5 189.0 173.0 189.4 172.5 189.6 172.0 189.6 171.5 189.6 171.0 189.4 170.0 188.7 169.5 189.0 169.0 190.7 168.5 194.2 168.0 199.4 167.7 203.3 167.5 204.4 167.3 206.3 167.0 207.8 166.3 213.8 166.0 215.1 165.8 217.3 165.3 218.3 164.5 218.9Z" fill="#f4f4f4" stroke="#505050" stroke-width="0.38"/>
<path d="M186.0 171.5 185.5 171.7 185.0 171.6 184.9 171.3 185.1 170.3 186.0 167.8 188.2 162.3 188.5 161.3 189.0 160.5 189.5 159.9 202.2 149.3 202.7 148.8 202.8 148.3 202.0 148.3 198.2 149.3 187.5 153.1 186.5 153.4 186.0 153.5 185.5 153.4 185.0 153.2 184.5 152.8 184.1 152.3 183.9 151.8 183.8 151.3 184.1 150.3 184.5 149.8 185.0 149.4 196.0 143.5 203.5 140.6 207.5 139.1 221.5 135.9 230.0 135.3 231.0 135.6 231.9 136.3 232.3 137.3 232.2 138.3 231.9 138.8 231.5 139.3 231.0 139.7 227.3 140.8 226.5 141.1 225.7 141.3 225.0 141.6 224.2 141.8 223.5 142.2 222.6 142.3 222.0 142.6 220.8 142.8 220.0 143.2 219.0 143.3 218.5 143.6 217.3 143.8 217.0 144.0 216.5 144.2 215.5 144.3 215.5 144.5 215.0 144.7 213.9 144.8 214.0 144.9 214.5 145.0 215.5 144.8 216.0 144.6 217.9 144.3 223.5 143.0 224.5 143.0 225.0 143.1 226.0 143.6 226.5 144.0 227.0 144.5 227.5 145.3 229.4 147.3 230.1 148.3 230.3 148.8 230.2 149.3 230.0 149.6 229.5 149.9 228.5 150.1 225.5 150.3 225.0 150.5 209.5 158.0 193.5 166.3 189.0 169.7 187.5 170.7 186.0 171.5ZM164.0 218.9 163.5 219.0 163.0 218.9 162.5 218.7 162.0 218.3 161.6 217.8 161.4 217.3 160.7 205.8 160.5 202.8 160.1 180.8 160.8 158.8 162.3 147.3 162.8 145.8 163.4 144.8 163.9 144.3 165.0 143.5 166.5 143.1 167.5 143.0 169.0 143.4 169.5 143.6 170.4 144.3 171.3 145.3 171.8 146.3 171.9 146.8 172.0 147.8 172.2 153.3 172.5 156.9 173.0 158.6 174.0 160.4 174.5 161.6 175.2 164.3 175.7 167.8 176.1 174.8 176.2 175.8 176.4 176.3 177.0 177.0 177.5 177.2 178.0 177.3 179.5 176.9 180.0 176.9 180.3 177.3 180.1 178.3 179.7 179.3 179.0 179.7 178.0 179.8 176.5 179.6 176.0 179.8 175.5 180.0 175.0 180.5 173.5 182.2 173.0 182.6 172.5 182.9 172.0 183.0 171.5 182.8 170.5 182.2 170.0 182.3 169.5 183.7 169.0 186.7 168.5 191.0 167.5 203.3 166.0 214.1 165.7 216.8 165.4 217.8 165.0 218.3 164.5 218.7 164.0 218.9ZM213.2 145.3 212.4 145.3 213.2 145.3Z" fill="#f0f0f0" stroke="#505050" stroke-width="0.38"/>
<path d="M187.5 152.9 186.5 153.2 186.0 153.3 185.5 153.2 185.0 153.0 184.5 152.6 184.1 151.8 184.0 151.3 184.1 150.8 184.3 150.3 184.8 149.8 188.0 148.0 196.0 143.7 207.0 139.4 221.5 136.0 230.0 135.5 230.5 135.5 231.0 135.8 231.6 136.3 231.9 136.8 232.1 137.3 232.1 137.8 231.8 138.8 231.0 139.5 230.5 139.7 224.0 141.5 222.6 141.8 220.0 142.6 213.3 144.3 212.5 144.6 209.5 145.3 204.5 147.1 197.3 149.3 187.5 152.9ZM163.5 218.8 162.5 218.6 161.7 217.8 161.5 217.3 160.7 202.8 160.3 180.8 161.1 158.3 162.6 147.3 162.9 146.3 163.4 145.3 164.0 144.6 164.5 144.2 165.5 143.6 166.0 143.5 167.5 143.4 168.5 143.6 169.0 143.8 169.5 144.0 170.4 144.8 171.1 145.8 171.3 146.3 171.6 147.3 171.6 159.3 171.3 165.8 170.8 171.3 169.5 178.8 169.0 182.3 168.0 193.4 167.3 203.3 166.5 209.1 165.7 215.8 165.5 217.3 165.3 217.8 164.5 218.6 163.5 218.8ZM201.0 157.8 200.0 158.0 199.5 157.8 199.5 157.3 199.8 156.8 200.5 155.8 202.4 153.8 205.5 150.8 206.0 150.5 206.5 150.4 209.9 149.8 213.0 149.4 214.5 149.4 215.0 149.5 215.5 149.8 215.4 150.3 214.3 151.3 212.0 152.8 208.5 154.8 204.0 156.8 201.0 157.8Z" fill="#eaeaea" stroke="#505050" stroke-width="0.38"/>
<path d="M186.5 153.0 186.0 153.1 185.5 153.0 185.1 152.8 184.6 152.3 184.3 151.8 184.3 151.3 184.3 150.8 184.6 150.3 185.0 149.9 190.0 147.1 196.0 143.9 207.0 139.6 220.0 136.5 222.0 136.1 230.0 135.7 230.5 135.8 231.0 136.0 231.4 136.3 231.8 136.8 231.9 137.3 231.9 137.8 231.8 138.3 231.5 138.8 231.0 139.3 230.5 139.5 208.5 145.3 203.5 147.1 198.1 148.8 186.5 153.0ZM164.5 218.4 164.0 218.6 163.5 218.7 163.0 218.6 162.5 218.4 161.9 217.8 161.7 217.3 161.6 216.8 160.9 202.8 160.6 180.8 160.7 177.8 161.4 158.3 163.1 146.8 163.2 146.3 163.8 145.3 164.5 144.6 165.5 144.0 167.0 143.7 168.5 143.9 169.5 144.5 170.4 145.3 170.7 145.8 171.1 146.8 171.3 147.8 171.0 159.3 170.3 168.3 168.5 183.3 167.1 203.3 165.3 217.3 165.1 217.8 164.5 218.4Z" fill="#e0e0e0" stroke="#505050" stroke-width="0.38"/>
<path d="M187.5 152.4 186.0 152.8 185.5 152.7 185.0 152.4 184.6 151.8 184.5 151.3 184.6 150.8 184.9 150.3 188.5 148.2 196.0 144.1 207.0 139.9 221.5 136.4 230.0 135.9 230.5 136.0 231.0 136.2 231.5 136.8 231.7 137.3 231.7 137.8 231.6 138.3 231.0 139.0 230.5 139.3 209.3 144.8 197.4 148.8 187.5 152.4ZM164.0 218.4 163.5 218.5 163.0 218.4 162.5 218.2 162.1 217.8 161.9 217.3 161.8 216.8 161.1 202.8 160.9 180.8 161.3 169.8 161.8 158.3 163.4 146.8 163.9 145.8 164.3 145.3 164.8 144.8 166.0 144.2 167.0 144.1 168.0 144.2 168.5 144.4 169.3 144.8 169.8 145.3 170.2 145.8 170.7 146.8 170.8 147.8 170.6 158.8 169.7 168.3 168.3 181.3 166.9 203.3 165.1 217.3 164.9 217.8 164.5 218.2 164.0 218.4Z" fill="#d2d2d2" stroke="#505050" stroke-width="0.38"/>
<path d="M186.0 152.3 185.5 152.2 185.1 151.8 185.0 151.3 185.1 150.8 185.7 150.3 186.4 149.8 188.9 148.3 196.0 144.4 207.0 140.1 222.0 136.6 230.0 136.2 230.5 136.3 231.0 136.6 231.4 137.3 231.4 137.8 231.2 138.3 231.0 138.6 230.5 139.0 208.5 144.7 198.0 148.3 189.5 151.3 186.0 152.3ZM164.5 217.9 164.0 218.2 163.5 218.3 163.0 218.2 162.4 217.8 162.1 217.3 162.0 216.8 161.4 202.8 161.2 180.8 162.2 158.3 163.8 147.3 164.1 146.3 164.4 145.8 164.9 145.3 166.0 144.7 167.0 144.5 168.0 144.7 168.5 144.9 169.2 145.3 169.7 145.8 170.0 146.3 170.3 147.3 170.1 158.8 169.3 168.3 167.9 181.3 166.6 202.8 165.0 216.8 164.9 217.3 164.5 217.9Z" fill="#c6c6c6" stroke="#505050" stroke-width="0.38"/>
<path d="M189.0 150.9 188.5 150.9 187.8 150.8 187.6 150.3 187.8 149.8 189.0 148.8 192.3 146.8 196.5 144.5 207.5 140.3 222.0 136.9 226.5 136.7 230.0 136.7 230.5 136.8 230.8 137.3 230.9 137.8 230.6 138.3 229.4 138.8 226.0 139.8 208.8 144.3 192.8 149.8 191.0 150.4 189.0 150.9ZM164.0 217.9 163.5 218.0 162.9 217.8 162.4 217.3 162.3 216.8 161.7 202.8 161.7 180.3 162.7 158.8 163.5 153.3 164.5 147.3 164.6 146.8 165.0 146.1 165.5 145.7 166.3 145.3 167.0 145.2 168.0 145.4 168.7 145.8 169.2 146.3 169.5 146.8 169.6 147.3 169.7 150.8 169.5 158.8 168.7 168.3 167.5 181.3 166.3 202.8 164.7 216.8 164.6 217.3 164.0 217.9Z" fill="#c8c8c8" stroke="#505050" stroke-width="0.38"/>
<path d="M194.0 148.8 192.5 149.1 192.0 149.1 191.5 148.8 191.5 148.3 192.0 147.8 193.3 146.8 196.5 144.9 207.5 140.7 222.0 137.2 225.0 137.2 227.0 137.3 227.5 137.4 228.1 137.8 228.1 138.3 227.4 138.8 226.1 139.3 222.6 140.3 208.5 144.0 201.8 146.3 194.0 148.8ZM163.5 217.4 163.2 217.3 163.0 217.1 162.9 216.8 162.5 211.1 162.1 202.8 162.1 180.3 163.4 158.3 164.5 152.1 165.5 147.5 166.0 146.7 166.5 146.3 167.0 146.2 167.5 146.3 168.2 146.8 168.5 147.3 168.6 147.8 168.8 152.3 168.8 158.8 168.0 169.3 167.0 181.3 165.9 202.8 164.5 214.4 164.0 217.1 163.8 217.3 163.5 217.4Z" fill="#dcdcdc" stroke="#505050" stroke-width="0.38"/>
<path d="M196.5 147.3 195.9 147.3 195.5 146.8 195.7 146.3 196.5 145.6 199.5 144.3 207.5 141.1 221.5 137.8 222.0 137.7 223.3 137.8 224.0 138.0 224.4 138.3 224.5 138.8 223.9 139.3 222.6 139.8 208.5 143.5 201.8 145.8 198.6 146.8 196.5 147.3ZM164.0 209.8 163.5 209.8 163.0 207.7 162.6 202.8 162.7 180.8 163.5 169.1 164.4 158.8 164.5 158.0 165.0 156.2 165.5 155.1 166.0 154.5 166.5 154.3 167.0 154.3 167.5 155.3 167.7 157.3 167.8 159.3 167.5 165.9 166.3 181.3 165.4 202.8 165.0 205.7 164.5 208.5 164.0 209.8Z" fill="#f0f0f0" stroke="#505050" stroke-width="0.38"/>
<path d="M197.7 162.1h.7v.7h-.7zM207.0 163.8h.7v.7h-.7zM187.9 171.7h.7v.7h-.7zM237.2 184.4h.7v.7h-.7zM228.4 165.9h.7v.7h-.7zM215.1 167.7h.7v.7h-.7zM194.0 162.2h.7v.7h-.7zM196.4 188.5h.7v.7h-.7zM232.1 184.6h.7v.7h-.7zM230.4 165.0h.7v.7h-.7zM202.0 178.9h.7v.7h-.7zM226.4 186.1h.7v.7h-.7zM235.0 161.6h.7v.7h-.7zM219.1 180.3h.7v.7h-.7zM213.3 164.5h.7v.7h-.7zM211.5 161.7h.7v.7h-.7zM238.2 186.5h.7v.7h-.7zM215.8 168.4h.7v.7h-.7zM236.7 177.1h.7v.7h-.7zM235.2 185.9h.7v.7h-.7zM213.5 172.0h.7v.7h-.7zM218.7 172.6h.7v.7h-.7zM193.4 168.6h.7v.7h-.7zM231.1 160.2h.7v.7h-.7zM186.7 178.8h.7v.7h-.7zM200.3 175.9h.7v.7h-.7zM211.3 169.8h.7v.7h-.7zM241.8 165.1h.7v.7h-.7zM207.9 165.3h.7v.7h-.7zM220.7 167.6h.7v.7h-.7zM204.6 182.7h.7v.7h-.7zM202.6 176.7h.7v.7h-.7zM236.5 162.0h.7v.7h-.7zM187.6 166.1h.7v.7h-.7zM228.4 178.5h.7v.7h-.7zM197.8 169.4h.7v.7h-.7zM194.3 173.5h.7v.7h-.7zM186.5 181.1h.7v.7h-.7zM236.0 189.4h.7v.7h-.7zM226.6 189.5h.7v.7h-.7zM185.1 168.0h.7v.7h-.7zM240.0 183.6h.7v.7h-.7zM207.8 189.0h.7v.7h-.7zM220.0 185.0h.7v.7h-.7zM201.0 164.9h.7v.7h-.7zM209.8 163.2h.7v.7h-.7zM206.1 189.6h.7v.7h-.7zM203.2 159.1h.7v.7h-.7zM186.6 164.2h.7v.7h-.7zM229.5 170.4h.7v.7h-.7zM200.8 161.9h.7v.7h-.7zM240.9 172.4h.7v.7h-.7zM196.1 160.7h.7v.7h-.7zM187.2 164.2h.7v.7h-.7zM223.3 163.6h.7v.7h-.7zM186.4 174.5h.7v.7h-.7zM198.4 190.7h.7v.7h-.7zM191.1 175.7h.7v.7h-.7zM228.9 171.9h.7v.7h-.7zM241.3 174.1h.7v.7h-.7zM198.0 171.9h.7v.7h-.7zM186.1 172.3h.7v.7h-.7zM198.4 187.3h.7v.7h-.7zM232.2 174.8h.7v.7h-.7zM185.8 166.9h.7v.7h-.7zM198.1 165.5h.7v.7h-.7zM197.4 186.6h.7v.7h-.7zM192.2 160.4h.7v.7h-.7zM237.8 176.9h.7v.7h-.7zM241.5 171.7h.7v.7h-.7zM236.3 179.7h.7v.7h-.7zM229.9 182.6h.7v.7h-.7zM212.7 161.8h.7v.7h-.7zM196.2 186.8h.7v.7h-.7zM236.2 188.4h.7v.7h-.7zM203.5 179.8h.7v.7h-.7zM230.4 179.4h.7v.7h-.7zM231.3 175.7h.7v.7h-.7zM222.0 180.8h.7v.7h-.7zM199.6 188.3h.7v.7h-.7zM239.5 161.2h.7v.7h-.7zM240.3 189.6h.7v.7h-.7zM222.8 160.2h.7v.7h-.7zM236.1 162.9h.7v.7h-.7zM240.2 180.2h.7v.7h-.7zM187.5 164.2h.7v.7h-.7zM220.8 177.0h.7v.7h-.7zM227.3 188.5h.7v.7h-.7zM196.7 158.9h.7v.7h-.7zM237.5 159.2h.7v.7h-.7zM234.8 162.5h.7v.7h-.7zM231.0 183.9h.7v.7h-.7zM234.9 176.4h.7v.7h-.7zM235.0 165.3h.7v.7h-.7zM222.9 169.4h.7v.7h-.7zM235.7 183.6h.7v.7h-.7zM211.3 175.6h.7v.7h-.7zM185.5 159.9h.7v.7h-.7zM218.5 174.4h.7v.7h-.7zM234.2 178.3h.7v.7h-.7zM192.0 170.4h.7v.7h-.7zM228.5 175.5h.7v.7h-.7zM184.6 185.6h.7v.7h-.7zM232.0 161.5h.7v.7h-.7zM215.5 171.0h.7v.7h-.7zM229.7 168.8h.7v.7h-.7zM197.6 174.4h.7v.7h-.7zM240.0 161.8h.7v.7h-.7zM190.6 178.7h.7v.7h-.7zM235.3 175.2h.7v.7h-.7zM209.2 186.3h.7v.7h-.7zM229.0 160.9h.7v.7h-.7zM235.1 165.1h.7v.7h-.7zM201.5 185.6h.7v.7h-.7zM208.5 184.3h.7v.7h-.7zM193.7 186.8h.7v.7h-.7zM194.2 163.6h.7v.7h-.7zM212.7 169.6h.7v.7h-.7zM215.4 187.7h.7v.7h-.7zM225.2 159.0h.7v.7h-.7zM202.1 176.2h.7v.7h-.7zM212.2 181.7h.7v.7h-.7zM212.1 161.2h.7v.7h-.7zM198.2 185.9h.7v.7h-.7zM204.7 183.3h.7v.7h-.7zM241.2 178.9h.7v.7h-.7zM223.3 178.3h.7v.7h-.7zM202.2 188.0h.7v.7h-.7zM211.1 188.0h.7v.7h-.7zM201.7 186.6h.7v.7h-.7zM229.6 178.4h.7v.7h-.7zM209.6 163.3h.7v.7h-.7zM228.7 170.4h.7v.7h-.7zM222.4 163.1h.7v.7h-.7zM188.8 163.4h.7v.7h-.7zM230.9 164.5h.7v.7h-.7zM236.3 170.7h.7v.7h-.7zM217.4 170.0h.7v.7h-.7zM220.0 161.8h.7v.7h-.7zM207.3 188.8h.7v.7h-.7zM194.4 179.7h.7v.7h-.7zM202.9 168.4h.7v.7h-.7zM185.3 159.4h.7v.7h-.7zM239.1 185.4h.7v.7h-.7zM230.5 184.6h.7v.7h-.7zM239.3 163.9h.7v.7h-.7zM217.9 174.6h.7v.7h-.7zM217.3 188.8h.7v.7h-.7zM228.1 189.8h.7v.7h-.7zM190.8 179.6h.7v.7h-.7zM223.2 182.6h.7v.7h-.7zM219.8 185.4h.7v.7h-.7zM201.6 188.5h.7v.7h-.7zM207.6 178.0h.7v.7h-.7zM236.0 181.3h.7v.7h-.7zM202.0 166.2h.7v.7h-.7zM202.9 178.9h.7v.7h-.7zM241.8 187.6h.7v.7h-.7zM207.2 171.6h.7v.7h-.7zM231.4 167.9h.7v.7h-.7zM207.9 159.2h.7v.7h-.7zM194.7 176.1h.7v.7h-.7zM224.2 178.5h.7v.7h-.7zM205.1 189.2h.7v.7h-.7zM220.1 163.8h.7v.7h-.7zM187.9 190.0h.7v.7h-.7zM241.3 188.2h.7v.7h-.7zM219.0 168.8h.7v.7h-.7zM189.3 167.1h.7v.7h-.7zM196.9 188.5h.7v.7h-.7zM235.8 183.7h.7v.7h-.7zM192.6 166.4h.7v.7h-.7zM201.4 189.1h.7v.7h-.7zM193.5 184.1h.7v.7h-.7zM223.5 176.3h.7v.7h-.7zM239.6 167.2h.7v.7h-.7zM214.4 163.8h.7v.7h-.7zM189.6 159.8h.7v.7h-.7zM202.4 162.7h.7v.7h-.7zM187.6 190.6h.7v.7h-.7zM200.8 187.3h.7v.7h-.7zM224.7 182.2h.7v.7h-.7zM222.0 189.3h.7v.7h-.7zM235.0 181.8h.7v.7h-.7zM216.5 181.0h.7v.7h-.7zM226.0 176.5h.7v.7h-.7zM213.1 163.7h.7v.7h-.7zM233.0 174.3h.7v.7h-.7zM187.9 164.2h.7v.7h-.7zM234.7 167.0h.7v.7h-.7zM206.7 180.6h.7v.7h-.7zM234.0 169.3h.7v.7h-.7zM206.4 172.3h.7v.7h-.7zM185.6 186.9h.7v.7h-.7zM185.1 189.5h.7v.7h-.7zM192.8 163.8h.7v.7h-.7zM233.2 185.1h.7v.7h-.7zM197.5 176.5h.7v.7h-.7zM211.6 181.8h.7v.7h-.7zM194.7 185.2h.7v.7h-.7zM241.8 181.4h.7v.7h-.7zM237.4 188.8h.7v.7h-.7zM206.0 185.9h.7v.7h-.7zM232.4 177.6h.7v.7h-.7zM190.2 178.6h.7v.7h-.7zM236.9 168.6h.7v.7h-.7zM221.5 187.5h.7v.7h-.7zM218.8 160.0h.7v.7h-.7zM220.7 167.0h.7v.7h-.7zM233.8 180.0h.7v.7h-.7zM201.8 187.5h.7v.7h-.7zM220.3 169.7h.7v.7h-.7zM232.4 187.3h.7v.7h-.7zM235.8 187.1h.7v.7h-.7zM222.2 181.2h.7v.7h-.7zM219.1 175.7h.7v.7h-.7zM241.3 170.1h.7v.7h-.7zM188.7 181.6h.7v.7h-.7zM212.9 176.3h.7v.7h-.7zM218.7 166.8h.7v.7h-.7zM195.6 161.1h.7v.7h-.7zM229.3 187.9h.7v.7h-.7zM224.4 162.5h.7v.7h-.7zM240.8 185.3h.7v.7h-.7zM213.5 158.8h.7v.7h-.7zM232.9 178.7h.7v.7h-.7zM220.1 159.4h.7v.7h-.7zM226.5 159.9h.7v.7h-.7zM211.7 163.4h.7v.7h-.7zM204.9 187.3h.7v.7h-.7zM227.4 184.9h.7v.7h-.7zM201.3 171.2h.7v.7h-.7zM219.1 159.9h.7v.7h-.7zM207.9 190.0h.7v.7h-.7zM227.7 186.4h.7v.7h-.7zM201.3 180.9h.7v.7h-.7zM229.8 181.3h.7v.7h-.7zM209.4 164.4h.7v.7h-.7zM185.0 187.2h.7v.7h-.7zM238.0 167.6h.7v.7h-.7zM228.9 203.8h.7v.7h-.7zM220.9 217.7h.7v.7h-.7zM201.9 210.6h.7v.7h-.7zM197.9 207.2h.7v.7h-.7zM183.9 199.2h.7v.7h-.7zM199.8 220.1h.7v.7h-.7zM190.2 215.1h.7v.7h-.7zM187.4 222.4h.7v.7h-.7zM192.3 193.7h.7v.7h-.7zM195.1 220.7h.7v.7h-.7zM223.5 219.3h.7v.7h-.7zM213.0 194.4h.7v.7h-.7zM203.1 205.4h.7v.7h-.7zM243.4 196.1h.7v.7h-.7zM197.1 217.8h.7v.7h-.7zM189.1 221.9h.7v.7h-.7zM200.4 209.0h.7v.7h-.7zM223.0 219.8h.7v.7h-.7zM186.7 217.9h.7v.7h-.7zM193.1 213.8h.7v.7h-.7zM183.7 215.3h.7v.7h-.7zM193.2 197.4h.7v.7h-.7zM184.2 201.2h.7v.7h-.7zM202.3 222.3h.7v.7h-.7zM219.6 202.5h.7v.7h-.7zM243.4 196.3h.7v.7h-.7zM195.3 221.4h.7v.7h-.7zM241.0 212.7h.7v.7h-.7zM242.7 192.6h.7v.7h-.7zM238.0 213.3h.7v.7h-.7zM170.7 217.8h.7v.7h-.7zM154.9 197.2h.7v.7h-.7zM155.9 206.1h.7v.7h-.7zM167.3 208.1h.7v.7h-.7zM162.1 214.6h.7v.7h-.7zM175.5 215.1h.7v.7h-.7zM153.1 195.7h.7v.7h-.7zM158.1 198.4h.7v.7h-.7zM168.1 197.0h.7v.7h-.7zM169.5 201.8h.7v.7h-.7zM162.2 213.5h.7v.7h-.7zM178.4 196.9h.7v.7h-.7zM161.8 222.2h.7v.7h-.7zM158.0 191.7h.7v.7h-.7zM157.4 217.2h.7v.7h-.7zM172.5 220.8h.7v.7h-.7zM165.9 192.1h.7v.7h-.7zM160.6 213.8h.7v.7h-.7zM163.0 195.3h.7v.7h-.7zM162.5 205.6h.7v.7h-.7zM162.0 205.1h.7v.7h-.7zM155.8 191.8h.7v.7h-.7zM173.9 214.2h.7v.7h-.7zM163.7 194.5h.7v.7h-.7zM160.3 208.7h.7v.7h-.7zM177.1 206.2h.7v.7h-.7zM179.3 207.7h.7v.7h-.7zM157.1 210.5h.7v.7h-.7zM168.8 210.0h.7v.7h-.7zM172.3 191.5h.7v.7h-.7zM174.8 203.5h.7v.7h-.7zM169.9 218.0h.7v.7h-.7zM174.2 205.2h.7v.7h-.7zM170.4 214.1h.7v.7h-.7zM178.1 199.8h.7v.7h-.7zM171.8 211.0h.7v.7h-.7zM174.9 201.6h.7v.7h-.7zM171.1 212.2h.7v.7h-.7zM178.3 187.3h.7v.7h-.7zM170.6 212.8h.7v.7h-.7zM170.4 215.4h.7v.7h-.7zM171.5 215.5h.7v.7h-.7zM176.2 198.1h.7v.7h-.7zM168.0 217.1h.7v.7h-.7zM171.0 211.8h.7v.7h-.7zM179.8 194.8h.7v.7h-.7zM172.7 209.0h.7v.7h-.7zM176.9 199.4h.7v.7h-.7zM169.6 216.5h.7v.7h-.7zM175.1 204.0h.7v.7h-.7zM181.6 189.6h.7v.7h-.7zM173.4 210.9h.7v.7h-.7zM182.1 184.9h.7v.7h-.7zM171.8 208.8h.7v.7h-.7zM169.4 214.6h.7v.7h-.7zM176.1 197.3h.7v.7h-.7zM178.9 195.7h.7v.7h-.7zM172.0 215.1h.7v.7h-.7zM172.8 208.4h.7v.7h-.7zM177.6 199.7h.7v.7h-.7zM170.4 216.3h.7v.7h-.7zM178.1 192.4h.7v.7h-.7zM172.0 209.6h.7v.7h-.7zM175.2 200.8h.7v.7h-.7zM177.6 198.5h.7v.7h-.7zM176.3 196.3h.7v.7h-.7zM177.2 201.5h.7v.7h-.7zM177.5 193.3h.7v.7h-.7zM174.5 204.1h.7v.7h-.7zM172.9 208.8h.7v.7h-.7zM171.0 211.8h.7v.7h-.7zM173.4 205.6h.7v.7h-.7zM180.5 188.7h.7v.7h-.7zM180.0 190.8h.7v.7h-.7zM182.0 185.0h.7v.7h-.7zM181.6 189.3h.7v.7h-.7zM176.3 200.6h.7v.7h-.7zM181.0 186.3h.7v.7h-.7zM174.7 203.0h.7v.7h-.7zM170.3 215.4h.7v.7h-.7zM172.6 217.0h.7v.7h-.7zM174.6 202.9h.7v.7h-.7zM181.2 186.4h.7v.7h-.7zM178.7 195.6h.7v.7h-.7zM177.9 192.5h.7v.7h-.7zM179.8 187.5h.7v.7h-.7zM174.9 205.9h.7v.7h-.7zM172.5 211.8h.7v.7h-.7zM169.2 214.9h.7v.7h-.7zM179.4 192.5h.7v.7h-.7zM178.4 195.5h.7v.7h-.7zM182.5 189.0h.7v.7h-.7zM182.1 188.6h.7v.7h-.7zM176.9 195.2h.7v.7h-.7zM179.3 188.4h.7v.7h-.7zM180.8 188.2h.7v.7h-.7zM170.4 216.7h.7v.7h-.7zM177.8 196.5h.7v.7h-.7zM175.8 201.9h.7v.7h-.7zM173.0 205.3h.7v.7h-.7z" fill="#666"/>
<g transform="translate(152 130.8)"><path d="M9.3 20.5 Q9.3 14 13.5 14 Q17.8 14 17.8 21 L16.2 55 L14.7 82 Q14.3 86.8 12 86.8 Q9.4 86.8 9.4 82 Z" stroke="#333" stroke-width="1.2" fill="none" opacity="0.8"/></g>
</g>
<g clip-path="url(#cp4)">
<path d="M317.5 115.5 317.0 115.6 316.0 115.6 315.5 115.5 314.5 115.1 314.0 114.7 313.2 113.8 312.8 112.8 312.5 110.9 312.2 110.3 312.0 108.9 311.8 108.3 311.5 107.0 311.2 106.3 311.1 105.8 310.7 99.3 310.5 93.0 310.3 91.3 310.0 90.3 308.2 87.3 307.7 86.3 307.1 84.8 307.0 83.8 306.9 82.8 307.1 54.3 307.3 53.3 307.7 52.3 308.5 51.1 309.5 50.2 310.5 49.6 312.0 49.1 314.0 48.8 315.5 48.3 318.5 46.6 319.5 46.1 321.0 45.7 322.5 45.4 324.0 45.4 325.5 45.4 329.5 45.9 330.5 45.9 331.0 45.8 331.5 45.5 333.0 44.3 334.0 43.6 337.6 42.3 338.8 41.8 339.7 41.3 341.5 40.1 342.5 39.5 344.0 38.9 345.5 38.6 347.0 38.5 348.5 38.5 352.5 39.4 354.0 39.5 355.5 39.5 357.7 39.3 363.5 38.5 373.5 37.5 384.0 36.7 385.5 36.9 386.5 37.4 387.0 37.8 387.9 38.8 388.4 39.8 388.6 40.8 388.6 41.8 388.4 42.8 387.9 43.8 387.0 44.8 386.0 45.5 384.5 45.9 375.5 46.3 372.4 46.8 370.3 47.3 369.1 47.8 368.7 48.3 368.8 48.8 369.6 51.3 369.9 52.8 369.9 54.3 369.8 55.8 369.5 57.3 369.1 58.8 368.6 60.3 367.7 62.3 366.9 63.8 364.9 66.8 363.7 68.3 362.0 70.2 359.0 73.1 357.0 74.6 354.5 76.4 352.5 77.6 349.5 79.0 347.0 80.0 345.0 80.5 340.0 81.5 338.5 81.9 332.7 84.3 330.0 86.3 324.4 91.3 323.0 92.7 321.5 93.8 321.1 94.8 321.0 95.8 321.4 105.3 321.2 106.3 321.0 106.9 320.8 108.8 320.5 110.0 320.3 112.3 320.2 112.8 319.8 113.8 319.4 114.3 318.5 115.1 317.5 115.5Z" fill="#fcfcfc" stroke="#555" stroke-width="0.35"/>
<path d="M317.0 115.4 316.0 115.4 315.0 115.1 313.9 114.3 313.2 113.3 312.5 110.2 312.2 109.3 312.0 108.1 311.2 105.3 311.0 100.1 310.7 94.8 310.6 91.8 310.5 90.1 310.0 88.8 308.8 86.8 308.3 85.8 307.9 84.8 307.7 83.8 307.8 54.8 307.9 53.8 308.2 52.8 309.0 51.6 310.0 50.7 311.5 50.0 313.0 49.7 316.0 49.7 317.0 49.3 319.5 47.9 320.5 47.5 322.0 47.1 323.0 47.0 324.5 47.0 329.0 47.5 330.0 47.5 331.0 47.4 331.5 47.1 332.0 46.5 332.9 45.3 333.4 44.8 334.5 44.0 338.3 42.8 339.6 42.3 343.0 40.5 344.5 39.9 345.5 39.7 346.5 39.6 348.0 39.6 352.5 40.1 354.5 40.1 357.9 39.8 360.5 39.4 373.0 38.0 384.0 37.1 384.5 37.1 385.5 37.4 386.0 37.6 386.9 38.3 387.7 39.3 387.9 39.8 388.2 40.8 388.2 41.8 387.9 42.8 387.4 43.8 386.5 44.7 385.5 45.2 384.5 45.5 375.5 45.8 371.5 46.3 365.4 47.3 363.3 47.8 362.3 48.3 362.2 48.8 364.3 50.8 365.2 52.3 365.6 53.3 365.8 54.3 365.9 55.3 365.8 56.8 365.3 59.3 364.8 60.8 364.1 62.3 363.3 63.8 362.3 65.3 361.2 66.8 359.9 68.3 358.0 70.2 356.0 71.9 353.5 73.7 351.5 74.8 349.0 76.0 347.0 76.7 345.0 77.2 341.0 78.1 339.0 78.8 337.1 79.8 334.5 81.6 332.5 82.7 330.0 84.8 322.8 91.8 321.5 92.8 321.0 93.4 320.8 95.3 321.2 105.3 320.5 108.9 320.1 112.3 319.8 113.3 319.0 114.4 318.0 115.1 317.0 115.4Z" fill="#f9f9f9" stroke="#555" stroke-width="0.35"/>
<path d="M318.0 115.0 317.5 115.2 316.5 115.3 315.5 115.2 315.0 115.0 314.5 114.7 313.6 113.8 313.1 112.8 313.0 111.8 312.7 110.8 312.0 107.5 311.6 106.3 311.4 105.3 310.8 94.8 310.9 91.8 310.6 89.3 310.5 88.8 310.0 87.8 308.9 85.8 308.5 84.8 308.2 83.8 308.2 82.8 308.3 54.8 308.4 53.8 308.5 53.3 308.8 52.8 309.5 51.8 310.5 51.0 311.5 50.5 312.0 50.4 313.5 50.3 316.0 50.7 317.0 50.6 317.8 50.3 320.0 49.1 321.5 48.5 322.5 48.3 323.5 48.2 325.0 48.3 329.0 48.7 330.0 48.7 331.0 48.6 331.5 48.4 332.0 47.9 333.1 45.8 333.5 45.3 334.5 44.5 339.8 42.8 343.5 41.1 345.5 40.5 347.5 40.3 352.5 40.6 355.0 40.5 356.9 40.3 362.0 39.6 374.5 38.2 383.5 37.4 385.0 37.5 386.0 37.9 386.5 38.3 387.4 39.3 387.8 40.3 387.9 41.3 387.8 42.3 387.4 43.3 386.5 44.3 386.0 44.7 385.0 45.1 384.0 45.2 375.5 45.5 372.4 45.8 361.1 47.3 359.0 47.8 358.0 48.3 357.7 48.8 357.8 49.3 358.0 49.8 358.5 50.5 360.8 52.8 361.5 53.7 362.1 54.8 362.4 56.3 362.5 57.8 362.1 59.8 361.4 61.8 360.3 63.8 358.9 65.8 357.0 68.0 354.9 69.8 352.5 71.5 350.5 72.6 348.0 73.7 346.5 74.2 342.5 75.2 341.0 75.7 339.5 76.4 337.5 77.7 334.5 80.1 332.5 81.5 331.0 82.7 329.0 84.6 325.0 88.8 321.0 92.5 320.7 93.8 320.6 95.3 321.0 104.3 320.9 105.8 320.5 107.9 319.9 112.8 319.4 113.8 318.5 114.7 318.0 115.0Z" fill="#f5f5f5" stroke="#555" stroke-width="0.35"/>
<path d="M317.5 115.1 317.0 115.2 316.0 115.2 315.5 115.1 314.5 114.5 313.8 113.8 313.2 112.8 313.0 111.3 311.5 105.3 311.1 96.8 311.0 91.3 310.9 89.8 310.5 87.8 309.1 85.3 308.7 83.8 308.7 82.8 308.7 54.8 308.8 53.8 309.0 53.3 309.6 52.3 310.1 51.8 311.0 51.2 311.5 51.0 312.5 50.8 314.0 50.9 316.5 51.7 317.0 51.8 317.5 51.8 318.0 51.6 320.5 50.1 321.5 49.7 323.0 49.4 325.0 49.4 329.0 49.9 330.5 49.8 331.5 49.5 332.0 49.3 332.5 48.8 332.8 47.3 333.2 46.3 334.0 45.3 334.5 44.9 335.5 44.5 338.0 43.8 341.0 42.8 344.0 41.5 346.0 41.0 348.0 40.9 352.5 41.0 355.5 40.8 360.5 40.1 374.0 38.5 384.0 37.6 384.5 37.6 385.5 37.9 386.5 38.6 387.1 39.3 387.4 39.8 387.7 40.8 387.7 41.8 387.4 42.8 386.7 43.8 386.0 44.4 385.0 44.8 384.0 45.0 375.0 45.2 361.2 46.8 358.4 47.3 356.9 47.8 356.3 48.3 356.0 48.8 356.0 49.3 356.5 52.0 357.0 53.6 358.6 56.8 358.8 57.8 358.9 58.8 358.7 60.3 358.2 61.8 357.2 63.8 356.1 65.3 355.0 66.5 353.5 67.8 352.2 68.8 351.0 69.5 348.5 70.7 342.5 72.9 340.5 73.9 338.5 75.3 336.5 76.9 334.0 79.3 332.0 80.8 331.0 81.7 328.5 84.2 324.7 88.3 321.0 91.8 320.6 92.8 320.4 93.8 320.5 97.5 320.8 102.3 320.9 105.3 320.5 107.0 320.2 109.3 320.0 110.6 319.9 112.3 319.8 112.8 319.2 113.8 318.5 114.5 317.5 115.1Z" fill="#f0f0f0" stroke="#555" stroke-width="0.35"/>
<path d="M317.5 114.9 316.5 115.1 315.5 114.9 314.5 114.4 313.9 113.8 313.6 113.3 313.2 112.3 313.0 110.8 311.7 105.3 311.1 95.3 311.2 91.3 311.0 88.8 310.5 87.0 309.4 84.8 309.1 83.3 309.1 54.8 309.3 53.8 309.5 53.3 310.0 52.5 310.5 52.0 311.5 51.5 312.5 51.2 313.0 51.2 314.5 51.5 315.5 52.0 317.0 53.0 317.5 53.1 318.0 53.0 318.5 52.8 320.0 51.7 321.0 51.1 322.5 50.6 323.5 50.5 324.5 50.5 328.0 50.9 329.0 50.9 330.4 50.8 331.5 50.6 332.5 50.2 332.9 49.8 333.1 49.3 333.2 47.8 333.4 46.8 334.0 45.8 334.5 45.3 335.0 45.0 335.5 44.8 340.7 43.3 344.0 42.0 346.0 41.5 348.0 41.3 352.0 41.3 354.0 41.2 362.5 40.1 374.5 38.7 383.5 37.9 384.5 37.9 385.0 38.0 386.0 38.5 386.4 38.8 386.8 39.3 387.3 40.3 387.4 41.3 387.3 42.3 386.8 43.3 386.4 43.8 386.0 44.1 385.0 44.6 384.0 44.7 375.0 45.0 362.5 46.3 358.8 46.8 356.7 47.3 355.6 47.8 355.1 48.3 354.9 48.8 354.9 49.3 354.9 51.3 354.8 52.8 354.1 55.8 354.1 56.8 354.4 59.8 354.3 60.8 353.9 62.3 353.3 63.3 352.6 64.3 351.2 65.8 349.9 66.8 348.5 67.7 344.5 69.7 342.5 70.8 340.5 72.1 338.5 73.7 336.0 76.0 333.3 78.8 332.0 79.8 330.0 81.7 328.0 83.8 324.5 87.8 321.0 91.2 320.6 91.8 320.4 92.3 320.3 93.8 320.7 105.3 320.5 106.3 320.0 109.8 319.8 112.3 319.6 112.8 319.0 113.9 318.5 114.4 317.5 114.9Z" fill="#eaeaea" stroke="#555" stroke-width="0.35"/>
<path d="M317.0 114.9 316.0 114.9 315.0 114.6 314.5 114.2 313.7 113.3 313.4 112.3 313.0 110.3 311.8 105.3 311.3 94.8 311.3 91.3 311.2 88.8 311.0 87.6 310.5 86.2 309.9 84.8 309.5 83.3 309.6 75.3 309.6 54.8 309.7 53.8 310.3 52.8 311.0 52.2 312.0 51.8 313.0 51.7 314.0 51.9 314.9 52.3 315.6 52.8 316.4 53.8 317.0 55.1 317.5 55.9 318.0 55.9 319.1 54.3 320.0 53.3 321.0 52.6 322.0 52.1 323.0 51.8 324.5 51.7 327.5 52.1 329.0 52.1 331.0 51.7 333.0 51.0 333.3 50.8 333.7 50.3 333.8 49.8 333.6 48.3 333.7 47.3 334.1 46.3 334.5 45.8 335.0 45.4 335.5 45.2 340.3 43.8 343.5 42.6 345.0 42.2 346.5 41.9 348.0 41.7 352.5 41.6 355.0 41.4 361.0 40.5 373.5 39.1 383.5 38.1 384.5 38.1 385.0 38.2 385.5 38.4 386.0 38.8 386.5 39.3 386.9 39.8 387.1 40.3 387.2 40.8 387.2 41.8 386.9 42.8 386.5 43.3 386.0 43.8 385.5 44.2 385.0 44.4 384.0 44.5 375.0 44.7 361.0 46.2 356.9 46.8 355.4 47.3 354.6 47.8 354.2 48.3 354.0 48.8 353.8 51.3 353.3 52.8 352.5 54.3 349.8 60.8 348.9 62.3 347.2 64.8 346.2 65.8 340.5 70.4 337.0 73.7 333.0 77.9 331.5 79.2 329.5 81.3 327.5 83.5 324.3 87.3 321.0 90.6 320.5 91.3 320.3 92.3 320.1 93.8 320.6 104.8 320.0 109.0 319.6 112.3 319.3 113.3 318.5 114.2 318.0 114.6 317.0 114.9Z" fill="#e3e3e3" stroke="#555" stroke-width="0.35"/>
<path d="M316.5 114.9 315.5 114.7 315.0 114.5 314.5 114.1 313.8 113.3 313.6 112.8 312.0 105.3 311.4 94.8 311.5 91.8 311.4 89.3 311.0 86.6 310.2 84.3 310.0 83.3 310.1 75.3 310.0 54.8 310.2 53.8 310.5 53.3 311.0 52.8 311.5 52.4 312.0 52.2 313.0 52.1 314.0 52.4 314.7 52.8 315.2 53.3 315.8 54.3 316.5 58.7 317.0 60.6 317.5 61.6 318.0 61.7 318.5 61.2 319.0 60.1 320.3 55.8 320.5 55.3 321.0 54.6 321.9 53.8 323.0 53.3 324.0 53.2 325.0 53.2 327.5 53.5 329.0 53.4 330.5 53.0 333.0 52.1 333.5 51.8 334.2 51.3 334.6 50.8 334.8 50.3 334.1 48.3 334.1 47.3 334.2 46.8 334.5 46.3 335.0 45.8 335.5 45.6 339.9 44.3 344.5 42.7 347.0 42.2 354.3 41.8 360.5 40.9 371.5 39.5 382.5 38.4 384.5 38.3 385.5 38.7 386.0 39.1 386.6 39.8 386.8 40.3 387.0 40.8 387.0 41.8 386.6 42.8 386.2 43.3 385.5 43.9 385.0 44.1 384.0 44.3 375.0 44.5 361.4 45.8 357.7 46.3 355.5 46.8 354.3 47.3 353.6 47.8 353.3 48.3 353.1 48.8 352.8 50.8 352.3 52.3 351.5 53.6 348.3 59.3 344.9 64.3 337.5 71.7 335.0 74.4 332.5 77.3 330.0 79.8 327.5 82.6 324.0 86.8 321.5 89.4 320.5 90.6 320.1 91.8 320.0 93.3 320.5 104.8 319.5 112.3 319.2 113.3 318.5 114.1 318.0 114.5 317.5 114.7 316.5 114.9Z" fill="#dbdbdb" stroke="#555" stroke-width="0.35"/>
<path d="M318.0 114.3 317.5 114.6 317.0 114.7 316.0 114.7 315.5 114.6 314.5 114.0 314.0 113.3 313.7 112.8 313.6 112.3 313.0 109.3 312.1 105.3 311.6 94.8 311.6 91.3 311.5 88.3 311.0 85.5 310.6 84.3 310.4 83.3 310.6 75.3 310.5 54.8 310.6 54.3 310.8 53.8 311.2 53.3 312.0 52.8 313.0 52.6 313.5 52.8 314.0 53.0 314.4 53.3 314.8 53.8 315.1 54.3 315.2 54.8 316.0 61.3 316.5 63.8 317.0 65.3 317.5 65.9 318.0 65.9 318.5 65.5 319.0 64.8 319.5 63.8 322.5 56.3 323.0 55.7 323.8 55.3 324.5 55.2 327.5 55.3 329.0 55.0 330.0 54.6 332.0 53.5 334.0 52.6 335.1 51.8 335.7 51.3 336.0 50.8 336.0 50.3 334.8 48.8 334.5 47.8 334.5 47.3 334.7 46.8 335.0 46.3 335.5 46.0 341.0 44.3 344.5 43.1 347.0 42.6 354.5 42.1 361.0 41.1 369.5 40.0 377.5 39.1 383.5 38.5 384.5 38.5 385.0 38.7 385.9 39.3 386.4 39.8 386.8 40.8 386.8 41.8 386.6 42.3 386.4 42.8 385.9 43.3 385.5 43.7 384.5 44.1 375.0 44.2 359.0 45.8 356.0 46.3 354.5 46.7 353.3 47.3 352.8 47.8 352.5 48.3 352.3 48.8 351.9 50.8 351.5 51.8 347.3 58.3 343.8 63.3 335.5 72.5 331.9 76.8 329.0 79.9 326.5 82.9 323.8 86.3 321.0 89.3 320.5 89.9 320.0 91.2 319.8 93.3 320.3 105.3 320.0 107.2 319.3 112.8 318.7 113.8 318.0 114.3Z" fill="#d2d2d2" stroke="#555" stroke-width="0.35"/>
<path d="M317.5 114.5 316.5 114.6 315.5 114.5 314.5 113.8 314.1 113.3 313.7 112.3 312.5 106.3 312.2 105.3 311.7 94.8 311.8 91.3 311.7 88.8 311.5 86.7 310.9 83.3 311.1 75.3 311.2 54.8 311.3 54.3 311.6 53.8 312.0 53.5 312.5 53.3 313.0 53.3 313.5 53.5 313.9 53.8 314.2 54.3 315.3 62.8 315.9 66.3 316.5 68.5 317.0 69.4 317.5 69.7 318.0 69.5 318.5 68.9 319.6 67.3 322.0 63.1 323.0 61.7 324.0 60.6 325.5 59.4 330.0 56.5 332.5 54.6 335.5 52.8 336.9 51.8 337.9 50.8 338.1 50.3 338.1 49.8 337.4 49.3 336.0 48.9 335.5 48.6 335.1 47.8 335.1 47.3 335.3 46.8 336.0 46.4 344.0 43.6 345.5 43.2 347.0 43.0 354.5 42.4 363.5 41.1 375.5 39.6 381.5 39.0 384.0 38.7 385.0 38.9 385.6 39.3 386.1 39.8 386.4 40.3 386.6 41.3 386.5 41.8 386.4 42.3 386.1 42.8 385.6 43.3 385.0 43.7 384.5 43.8 375.0 43.9 358.5 45.5 356.5 45.8 354.3 46.3 353.0 46.9 352.3 47.3 351.8 47.8 351.5 48.3 351.0 50.3 350.5 51.3 345.7 58.3 342.4 62.8 334.5 72.1 331.1 76.3 328.5 79.3 323.1 86.3 320.5 89.1 320.0 90.3 319.8 91.3 319.7 92.8 320.2 105.3 320.0 106.3 319.3 112.3 319.2 112.8 318.5 113.8 318.0 114.2 317.5 114.5Z" fill="#c8c8c8" stroke="#555" stroke-width="0.35"/>
<path d="M317.0 114.4 316.0 114.4 315.0 114.0 314.3 113.3 314.0 112.8 312.4 105.3 312.4 104.8 311.9 94.8 312.0 89.3 311.7 86.3 311.6 83.3 311.9 77.8 312.4 59.8 312.5 58.5 313.0 57.4 313.5 59.7 314.7 67.3 315.6 71.3 316.0 72.4 316.5 73.2 317.0 73.5 317.5 73.5 318.0 73.2 318.5 72.6 319.5 71.1 320.3 69.3 321.0 68.3 322.5 66.2 324.0 64.6 329.0 60.1 333.3 55.8 336.0 54.1 338.0 52.6 339.6 51.3 340.5 50.3 340.7 49.8 340.5 49.3 339.9 48.8 337.2 47.8 337.0 47.5 336.9 47.3 337.4 46.8 338.4 46.3 344.0 44.1 345.5 43.7 347.0 43.4 349.0 43.2 354.5 42.9 361.0 41.8 365.5 41.2 377.5 39.7 383.0 39.1 384.0 39.0 384.5 39.1 385.0 39.2 385.5 39.6 386.1 40.3 386.2 40.8 386.2 41.8 386.1 42.3 385.5 43.0 385.0 43.4 384.5 43.5 381.0 43.6 375.0 43.6 357.5 45.2 355.0 45.6 353.0 46.2 351.8 46.8 351.1 47.3 350.6 47.8 350.3 48.3 349.5 50.3 343.8 58.3 339.6 63.8 328.0 78.4 326.0 81.1 323.0 85.3 320.5 88.2 320.2 88.8 320.0 89.2 319.6 90.8 319.5 92.8 320.0 104.8 319.1 112.3 319.0 112.8 318.5 113.6 318.0 114.0 317.0 114.4Z" fill="#c0c0c0" stroke="#555" stroke-width="0.35"/>
<path d="M346.5 49.5 346.0 49.7 345.5 49.7 344.2 48.8 340.7 47.3 340.4 46.8 340.9 46.3 341.7 45.8 343.9 44.8 345.5 44.3 347.5 43.9 349.5 43.7 353.0 43.7 355.0 43.6 361.6 42.3 365.0 41.8 378.0 40.0 384.0 39.3 384.5 39.4 385.3 39.8 385.7 40.3 385.9 40.8 386.0 41.3 385.9 41.8 385.7 42.3 385.3 42.8 384.5 43.2 380.5 43.3 375.0 43.2 357.0 44.5 354.5 44.9 352.5 45.6 351.0 46.4 349.6 47.3 348.0 48.7 346.5 49.5ZM317.5 114.1 316.5 114.3 315.5 114.1 315.0 113.8 314.5 113.3 314.2 112.8 312.6 105.3 312.1 94.8 312.2 89.8 312.0 85.8 312.1 84.3 313.0 78.7 313.5 76.3 314.0 75.5 314.5 75.7 315.2 76.3 315.9 76.8 316.5 77.0 317.0 76.9 317.5 76.7 318.0 76.3 318.5 75.8 319.5 74.4 322.0 70.3 322.5 69.6 324.0 68.0 329.7 62.8 335.0 57.1 343.0 51.7 344.5 50.9 345.0 51.0 345.1 51.3 345.0 51.8 344.6 52.8 343.5 54.7 342.5 56.3 327.5 77.0 325.5 79.9 322.4 84.8 320.5 87.0 320.0 87.8 319.5 89.7 319.3 92.3 319.8 105.3 318.9 112.3 318.8 112.8 318.5 113.3 318.0 113.8 317.5 114.1Z" fill="#bcbcbc" stroke="#555" stroke-width="0.35"/>
<path d="M384.5 42.8 384.0 42.9 379.0 42.8 375.0 42.5 369.9 42.8 367.9 42.8 368.0 42.3 370.4 41.8 375.0 41.1 376.1 40.8 379.1 40.3 384.0 39.7 384.5 39.8 385.0 40.0 385.5 40.7 385.6 41.3 385.5 41.8 385.3 42.3 385.0 42.6 384.5 42.8ZM348.0 46.8 347.0 47.2 346.0 47.2 344.3 46.8 343.9 46.3 344.2 45.8 344.9 45.3 346.4 44.8 348.5 44.6 349.5 44.6 350.2 44.8 350.3 45.3 349.0 46.3 348.0 46.8ZM317.5 113.8 316.5 114.1 315.5 113.8 314.8 113.3 314.5 112.8 314.3 112.3 312.9 105.3 312.3 94.8 312.5 89.8 312.3 85.8 312.4 84.8 313.0 83.4 314.5 81.1 315.0 80.7 317.0 79.9 317.5 79.6 318.5 78.8 319.8 77.3 322.5 73.8 324.0 72.2 325.0 71.3 326.5 70.6 327.0 70.5 327.5 70.6 327.6 70.8 327.7 71.3 327.7 71.8 327.2 73.3 324.9 77.8 321.7 83.8 320.0 86.3 319.5 87.8 319.1 90.3 319.0 92.3 319.6 104.8 318.7 112.3 318.5 112.8 318.2 113.3 317.5 113.8Z" fill="#c4c4c4" stroke="#555" stroke-width="0.35"/>
<path d="M384.5 42.4 384.0 42.5 380.2 42.3 377.6 41.8 377.9 41.3 379.7 40.8 384.0 40.1 384.6 40.3 385.1 40.8 385.2 41.3 385.1 41.8 384.5 42.4ZM317.5 113.5 317.0 113.7 316.5 113.8 316.0 113.7 315.2 113.3 314.8 112.8 314.6 112.3 313.2 105.3 312.6 94.8 312.8 90.3 312.6 85.8 312.8 84.8 313.1 84.3 313.5 83.7 314.0 83.2 314.5 82.9 315.5 82.5 318.0 82.4 319.0 82.2 319.5 82.3 319.8 82.8 318.8 89.8 318.7 91.8 319.3 104.8 318.4 112.3 318.0 113.1 317.5 113.5Z" fill="#d4d4d4" stroke="#555" stroke-width="0.35"/>
<path d="M384.0 41.7 382.9 41.3 384.0 40.9 384.4 41.3 384.0 41.7ZM317.5 112.9 317.0 113.2 316.5 113.3 316.0 113.2 315.5 112.9 315.1 112.3 313.5 104.8 313.0 94.8 313.2 92.3 313.3 90.3 313.3 88.3 313.1 85.8 313.4 84.8 314.0 84.0 314.5 83.6 315.5 83.3 316.5 83.3 317.0 83.4 317.7 83.8 318.2 84.3 318.5 84.8 318.8 85.8 318.6 88.3 318.3 90.8 318.2 92.3 318.4 94.8 318.9 104.8 318.0 111.7 317.9 112.3 317.5 112.9Z" fill="#e6e6e6" stroke="#555" stroke-width="0.35"/>
<path d="M317.0 108.9 316.0 109.0 315.5 108.8 315.0 108.0 314.2 105.3 314.0 103.5 313.6 94.8 314.2 91.8 314.3 90.8 314.2 89.3 313.7 85.8 313.8 85.3 314.0 84.8 314.5 84.3 315.5 83.9 316.5 84.0 317.0 84.1 317.5 84.5 318.1 85.3 318.2 86.3 318.0 88.8 317.6 90.8 317.5 92.3 317.9 94.8 318.3 104.8 318.0 106.6 317.5 108.4 317.0 108.9Z" fill="#f6f6f6" stroke="#555" stroke-width="0.35"/>
<path d="M375.9 80.0h.7v.7h-.7zM385.5 88.4h.7v.7h-.7zM382.4 87.5h.7v.7h-.7zM342.6 68.4h.7v.7h-.7zM393.8 76.1h.7v.7h-.7zM391.5 53.6h.7v.7h-.7zM367.3 59.2h.7v.7h-.7zM371.5 72.9h.7v.7h-.7zM341.7 57.9h.7v.7h-.7zM356.7 87.3h.7v.7h-.7zM383.9 55.5h.7v.7h-.7zM385.6 54.6h.7v.7h-.7zM375.6 54.1h.7v.7h-.7zM341.1 85.4h.7v.7h-.7zM352.7 57.9h.7v.7h-.7zM396.0 85.4h.7v.7h-.7zM357.2 89.2h.7v.7h-.7zM371.2 77.3h.7v.7h-.7zM352.5 88.3h.7v.7h-.7zM379.7 89.4h.7v.7h-.7zM391.0 61.3h.7v.7h-.7zM361.2 55.8h.7v.7h-.7zM349.2 51.5h.7v.7h-.7zM357.9 74.1h.7v.7h-.7zM341.2 77.3h.7v.7h-.7zM359.9 61.8h.7v.7h-.7zM386.8 69.0h.7v.7h-.7zM358.7 69.0h.7v.7h-.7zM380.5 51.2h.7v.7h-.7zM395.6 49.8h.7v.7h-.7zM383.0 84.3h.7v.7h-.7zM342.0 81.9h.7v.7h-.7zM361.5 73.1h.7v.7h-.7zM341.5 50.8h.7v.7h-.7zM351.1 88.9h.7v.7h-.7zM352.0 80.5h.7v.7h-.7zM393.1 88.4h.7v.7h-.7zM360.3 63.7h.7v.7h-.7zM370.4 81.4h.7v.7h-.7zM347.1 80.2h.7v.7h-.7zM385.6 84.9h.7v.7h-.7zM343.1 88.5h.7v.7h-.7zM346.1 63.1h.7v.7h-.7zM375.2 87.4h.7v.7h-.7zM360.0 87.6h.7v.7h-.7zM371.5 61.9h.7v.7h-.7zM358.7 56.3h.7v.7h-.7zM345.4 55.1h.7v.7h-.7zM379.6 90.7h.7v.7h-.7zM350.0 50.8h.7v.7h-.7zM396.3 71.2h.7v.7h-.7zM363.7 58.8h.7v.7h-.7zM374.3 83.5h.7v.7h-.7zM366.5 66.5h.7v.7h-.7zM344.1 87.3h.7v.7h-.7zM342.8 69.5h.7v.7h-.7zM388.0 54.3h.7v.7h-.7zM382.0 88.7h.7v.7h-.7zM376.3 81.9h.7v.7h-.7zM347.0 67.1h.7v.7h-.7zM349.4 84.3h.7v.7h-.7zM357.5 67.8h.7v.7h-.7zM397.0 84.6h.7v.7h-.7zM395.7 67.8h.7v.7h-.7zM368.3 79.4h.7v.7h-.7zM367.8 61.0h.7v.7h-.7zM363.6 55.0h.7v.7h-.7zM362.1 90.3h.7v.7h-.7zM394.7 75.1h.7v.7h-.7zM369.0 63.0h.7v.7h-.7zM346.0 60.2h.7v.7h-.7zM384.8 85.2h.7v.7h-.7zM361.2 81.8h.7v.7h-.7zM384.4 78.0h.7v.7h-.7zM378.2 80.7h.7v.7h-.7zM361.4 78.4h.7v.7h-.7zM356.7 69.2h.7v.7h-.7zM384.1 77.8h.7v.7h-.7zM357.5 88.5h.7v.7h-.7zM377.4 73.2h.7v.7h-.7zM341.6 71.8h.7v.7h-.7zM355.0 77.0h.7v.7h-.7zM366.9 83.1h.7v.7h-.7zM377.3 82.3h.7v.7h-.7zM360.5 75.9h.7v.7h-.7zM382.3 83.6h.7v.7h-.7zM360.6 84.2h.7v.7h-.7zM389.7 77.7h.7v.7h-.7zM395.7 89.0h.7v.7h-.7zM370.0 71.0h.7v.7h-.7zM350.3 83.9h.7v.7h-.7zM393.5 68.8h.7v.7h-.7zM379.7 79.0h.7v.7h-.7zM381.9 56.0h.7v.7h-.7zM384.7 73.2h.7v.7h-.7zM378.3 66.5h.7v.7h-.7zM375.9 81.3h.7v.7h-.7zM376.7 79.1h.7v.7h-.7zM342.5 55.5h.7v.7h-.7zM365.7 76.1h.7v.7h-.7zM353.3 77.6h.7v.7h-.7zM376.3 50.6h.7v.7h-.7zM367.4 58.3h.7v.7h-.7zM344.0 54.4h.7v.7h-.7zM358.8 56.4h.7v.7h-.7zM351.8 50.3h.7v.7h-.7zM367.1 64.8h.7v.7h-.7zM375.3 73.6h.7v.7h-.7zM354.3 86.7h.7v.7h-.7zM341.0 65.8h.7v.7h-.7zM356.6 66.0h.7v.7h-.7zM347.4 83.7h.7v.7h-.7zM361.9 50.3h.7v.7h-.7zM375.4 52.8h.7v.7h-.7zM371.5 63.1h.7v.7h-.7zM373.5 89.0h.7v.7h-.7zM386.8 66.4h.7v.7h-.7zM386.5 75.8h.7v.7h-.7zM361.7 54.8h.7v.7h-.7zM374.4 72.5h.7v.7h-.7zM394.6 89.5h.7v.7h-.7zM375.1 63.5h.7v.7h-.7zM391.0 48.8h.7v.7h-.7zM347.0 72.6h.7v.7h-.7zM375.4 54.7h.7v.7h-.7zM376.2 86.2h.7v.7h-.7zM362.0 66.9h.7v.7h-.7zM353.7 61.0h.7v.7h-.7zM395.5 64.8h.7v.7h-.7zM394.8 87.2h.7v.7h-.7zM374.4 59.7h.7v.7h-.7zM395.9 69.6h.7v.7h-.7zM364.3 62.2h.7v.7h-.7zM396.1 69.5h.7v.7h-.7zM357.0 68.8h.7v.7h-.7zM347.8 74.9h.7v.7h-.7zM365.8 61.1h.7v.7h-.7zM384.8 83.5h.7v.7h-.7zM341.7 71.2h.7v.7h-.7zM356.3 88.1h.7v.7h-.7zM384.8 59.1h.7v.7h-.7zM356.0 55.3h.7v.7h-.7zM396.4 61.1h.7v.7h-.7zM375.1 68.7h.7v.7h-.7zM377.1 74.2h.7v.7h-.7zM382.6 53.8h.7v.7h-.7zM383.6 61.4h.7v.7h-.7zM370.9 62.9h.7v.7h-.7zM357.6 71.1h.7v.7h-.7zM367.0 64.0h.7v.7h-.7zM382.7 73.6h.7v.7h-.7zM343.0 59.4h.7v.7h-.7zM366.5 87.3h.7v.7h-.7zM390.7 71.7h.7v.7h-.7zM341.8 81.5h.7v.7h-.7zM365.0 73.0h.7v.7h-.7zM380.7 75.4h.7v.7h-.7zM368.0 87.1h.7v.7h-.7zM362.6 65.3h.7v.7h-.7zM388.7 57.1h.7v.7h-.7zM357.6 83.7h.7v.7h-.7zM344.7 83.9h.7v.7h-.7zM379.9 67.0h.7v.7h-.7zM357.0 81.6h.7v.7h-.7zM392.0 54.8h.7v.7h-.7zM367.8 71.9h.7v.7h-.7zM368.9 62.7h.7v.7h-.7zM349.6 73.4h.7v.7h-.7zM386.5 51.7h.7v.7h-.7zM353.9 83.2h.7v.7h-.7zM385.3 76.7h.7v.7h-.7zM342.4 79.1h.7v.7h-.7zM395.8 90.7h.7v.7h-.7zM380.3 50.9h.7v.7h-.7zM388.2 58.0h.7v.7h-.7zM377.2 88.8h.7v.7h-.7zM380.9 54.5h.7v.7h-.7zM357.4 87.4h.7v.7h-.7zM349.4 74.4h.7v.7h-.7zM364.2 55.6h.7v.7h-.7zM375.9 50.6h.7v.7h-.7zM347.1 64.7h.7v.7h-.7zM345.0 51.2h.7v.7h-.7zM373.2 80.0h.7v.7h-.7zM390.2 54.4h.7v.7h-.7zM365.2 62.0h.7v.7h-.7zM374.6 69.4h.7v.7h-.7zM393.6 64.5h.7v.7h-.7zM344.1 78.1h.7v.7h-.7zM349.5 75.3h.7v.7h-.7zM369.3 87.0h.7v.7h-.7zM372.1 74.9h.7v.7h-.7zM355.7 72.0h.7v.7h-.7zM355.2 80.3h.7v.7h-.7zM370.0 54.4h.7v.7h-.7zM354.1 64.4h.7v.7h-.7zM382.3 56.3h.7v.7h-.7zM380.9 76.3h.7v.7h-.7zM345.8 76.9h.7v.7h-.7zM346.1 54.0h.7v.7h-.7zM374.3 58.8h.7v.7h-.7zM390.1 69.0h.7v.7h-.7zM359.1 82.3h.7v.7h-.7zM342.6 79.3h.7v.7h-.7zM344.0 55.1h.7v.7h-.7zM394.3 77.4h.7v.7h-.7zM353.5 53.7h.7v.7h-.7zM395.5 76.7h.7v.7h-.7zM387.0 54.7h.7v.7h-.7zM376.0 63.7h.7v.7h-.7zM354.2 62.8h.7v.7h-.7zM375.4 63.4h.7v.7h-.7zM362.6 54.5h.7v.7h-.7zM387.5 76.0h.7v.7h-.7zM386.1 67.0h.7v.7h-.7zM388.7 70.5h.7v.7h-.7zM374.2 72.9h.7v.7h-.7zM382.4 65.4h.7v.7h-.7zM346.4 50.2h.7v.7h-.7zM352.3 50.5h.7v.7h-.7zM390.8 69.0h.7v.7h-.7zM383.6 48.8h.7v.7h-.7zM367.3 86.2h.7v.7h-.7zM375.7 66.8h.7v.7h-.7zM367.1 53.0h.7v.7h-.7zM349.7 55.5h.7v.7h-.7zM362.0 65.0h.7v.7h-.7zM390.3 55.2h.7v.7h-.7zM355.2 60.5h.7v.7h-.7zM350.0 60.9h.7v.7h-.7zM354.2 69.0h.7v.7h-.7zM342.8 87.6h.7v.7h-.7zM361.7 88.2h.7v.7h-.7zM379.5 77.1h.7v.7h-.7zM367.4 88.5h.7v.7h-.7zM347.6 76.9h.7v.7h-.7zM357.3 77.1h.7v.7h-.7zM381.8 55.7h.7v.7h-.7zM352.3 49.8h.7v.7h-.7zM353.9 52.1h.7v.7h-.7zM359.9 118.1h.7v.7h-.7zM357.6 99.5h.7v.7h-.7zM364.0 98.7h.7v.7h-.7zM380.4 110.9h.7v.7h-.7zM345.1 97.5h.7v.7h-.7zM376.7 117.1h.7v.7h-.7zM375.0 102.9h.7v.7h-.7zM395.5 91.0h.7v.7h-.7zM338.8 112.6h.7v.7h-.7zM360.4 92.1h.7v.7h-.7zM369.0 118.5h.7v.7h-.7zM367.2 100.6h.7v.7h-.7zM340.8 92.8h.7v.7h-.7zM390.7 104.6h.7v.7h-.7zM393.0 92.3h.7v.7h-.7zM311.8 92.2h.7v.7h-.7zM316.1 92.5h.7v.7h-.7zM312.2 102.2h.7v.7h-.7zM313.6 92.2h.7v.7h-.7zM306.1 118.0h.7v.7h-.7zM310.0 105.0h.7v.7h-.7zM316.3 105.7h.7v.7h-.7zM307.4 99.6h.7v.7h-.7zM308.0 106.0h.7v.7h-.7zM330.8 107.6h.7v.7h-.7zM329.0 96.8h.7v.7h-.7zM305.5 105.9h.7v.7h-.7zM318.6 106.8h.7v.7h-.7zM315.5 108.3h.7v.7h-.7zM325.3 116.4h.7v.7h-.7zM313.6 103.4h.7v.7h-.7zM328.1 97.1h.7v.7h-.7zM308.2 99.5h.7v.7h-.7zM307.5 112.4h.7v.7h-.7zM327.9 99.6h.7v.7h-.7zM308.6 93.1h.7v.7h-.7zM311.9 93.2h.7v.7h-.7zM317.0 107.0h.7v.7h-.7zM311.9 92.5h.7v.7h-.7zM324.6 92.1h.7v.7h-.7zM313.4 51.8h.7v.7h-.7zM318.1 45.2h.7v.7h-.7zM319.4 52.8h.7v.7h-.7zM328.3 61.3h.7v.7h-.7zM332.2 64.7h.7v.7h-.7zM328.5 61.9h.7v.7h-.7zM319.9 70.4h.7v.7h-.7zM325.7 75.2h.7v.7h-.7zM327.7 66.3h.7v.7h-.7zM315.2 70.2h.7v.7h-.7zM318.3 46.4h.7v.7h-.7zM309.8 47.7h.7v.7h-.7zM315.1 65.5h.7v.7h-.7zM315.7 44.0h.7v.7h-.7zM328.6 61.3h.7v.7h-.7zM308.7 43.6h.7v.7h-.7zM311.5 54.3h.7v.7h-.7zM331.2 75.0h.7v.7h-.7zM324.5 49.9h.7v.7h-.7zM319.6 54.5h.7v.7h-.7zM316.9 42.2h.7v.7h-.7zM323.8 70.7h.7v.7h-.7zM327.6 45.1h.7v.7h-.7zM322.3 47.8h.7v.7h-.7zM327.2 57.4h.7v.7h-.7zM333.3 69.6h.7v.7h-.7zM311.2 52.9h.7v.7h-.7zM332.7 57.9h.7v.7h-.7zM319.7 57.2h.7v.7h-.7zM328.7 74.6h.7v.7h-.7zM322.4 75.7h.7v.7h-.7zM324.1 45.4h.7v.7h-.7zM330.0 56.5h.7v.7h-.7zM309.4 76.0h.7v.7h-.7zM308.9 62.0h.7v.7h-.7zM321.0 72.7h.7v.7h-.7zM318.6 49.3h.7v.7h-.7zM315.5 48.8h.7v.7h-.7zM323.2 54.3h.7v.7h-.7zM328.3 50.3h.7v.7h-.7zM317.5 50.5h.7v.7h-.7zM334.5 71.2h.7v.7h-.7zM330.9 63.4h.7v.7h-.7zM318.8 46.8h.7v.7h-.7zM330.5 59.0h.7v.7h-.7zM309.0 47.7h.7v.7h-.7zM310.7 66.9h.7v.7h-.7zM332.3 48.8h.7v.7h-.7zM329.5 53.1h.7v.7h-.7zM326.4 72.0h.7v.7h-.7zM376.0 57.4h.7v.7h-.7zM340.8 76.2h.7v.7h-.7zM351.5 74.0h.7v.7h-.7zM345.0 79.3h.7v.7h-.7zM366.8 61.0h.7v.7h-.7zM395.3 44.0h.7v.7h-.7zM376.2 55.0h.7v.7h-.7zM380.3 59.6h.7v.7h-.7zM374.8 58.7h.7v.7h-.7zM351.5 76.5h.7v.7h-.7zM373.2 56.2h.7v.7h-.7zM362.3 67.6h.7v.7h-.7zM384.6 60.7h.7v.7h-.7zM384.4 57.4h.7v.7h-.7zM381.0 54.0h.7v.7h-.7zM375.4 65.0h.7v.7h-.7zM388.7 63.0h.7v.7h-.7zM370.9 62.8h.7v.7h-.7zM366.0 71.2h.7v.7h-.7zM392.3 50.8h.7v.7h-.7zM367.7 70.1h.7v.7h-.7zM370.8 59.1h.7v.7h-.7zM388.3 56.7h.7v.7h-.7zM352.5 64.7h.7v.7h-.7zM349.0 68.0h.7v.7h-.7zM360.0 72.7h.7v.7h-.7zM388.9 51.3h.7v.7h-.7zM361.2 67.9h.7v.7h-.7zM387.5 56.0h.7v.7h-.7zM376.3 60.6h.7v.7h-.7zM349.8 79.0h.7v.7h-.7zM374.9 63.2h.7v.7h-.7zM370.3 57.1h.7v.7h-.7zM383.7 59.4h.7v.7h-.7zM388.0 54.3h.7v.7h-.7zM380.9 48.4h.7v.7h-.7zM353.8 64.5h.7v.7h-.7zM369.7 65.8h.7v.7h-.7zM354.2 73.8h.7v.7h-.7zM379.2 64.4h.7v.7h-.7zM382.9 51.9h.7v.7h-.7zM387.0 54.2h.7v.7h-.7zM376.6 60.2h.7v.7h-.7zM352.1 75.1h.7v.7h-.7zM357.9 68.4h.7v.7h-.7zM383.7 59.3h.7v.7h-.7zM369.8 63.9h.7v.7h-.7zM369.9 65.0h.7v.7h-.7zM377.0 62.0h.7v.7h-.7zM348.8 69.3h.7v.7h-.7zM362.2 71.8h.7v.7h-.7zM361.4 59.8h.7v.7h-.7zM362.3 70.8h.7v.7h-.7zM379.6 54.2h.7v.7h-.7zM355.7 74.9h.7v.7h-.7zM373.4 64.4h.7v.7h-.7zM355.7 69.4h.7v.7h-.7zM361.3 72.0h.7v.7h-.7zM388.9 50.3h.7v.7h-.7zM392.6 54.3h.7v.7h-.7zM389.9 55.9h.7v.7h-.7zM365.0 67.7h.7v.7h-.7zM363.9 67.7h.7v.7h-.7zM349.4 84.7h.7v.7h-.7zM364.8 65.6h.7v.7h-.7zM363.5 68.0h.7v.7h-.7zM372.7 64.7h.7v.7h-.7zM378.1 58.4h.7v.7h-.7zM385.3 49.4h.7v.7h-.7zM352.7 76.8h.7v.7h-.7zM369.4 61.4h.7v.7h-.7zM379.5 62.0h.7v.7h-.7zM382.8 55.9h.7v.7h-.7zM374.2 60.9h.7v.7h-.7zM393.5 54.5h.7v.7h-.7zM355.2 70.3h.7v.7h-.7zM378.5 61.0h.7v.7h-.7zM370.0 66.4h.7v.7h-.7zM389.8 51.9h.7v.7h-.7zM350.1 68.5h.7v.7h-.7z" fill="#666"/>
<g transform="translate(305 26.8)"><path d="M6.8 56 Q7.0 71.0 7.6 82 Q8.1 86 11.399999999999999 86 Q14.899999999999999 86 15.2 82 L15.5 64" stroke="#333" stroke-width="1.7" fill="none" opacity="0.85"/><path d="M7.3 28 Q6.6 42.0 6.8 56.5" stroke="#666" stroke-width="1.3" fill="none" opacity="0.8"/></g>
</g>
<g clip-path="url(#cp5)">
<path d="M421.5 118.0 421.0 118.1 420.0 118.1 419.5 118.0 418.5 117.6 418.0 117.2 417.2 116.3 416.8 115.3 416.5 113.4 416.2 112.8 416.0 111.4 415.8 110.8 415.5 109.5 415.2 108.8 415.1 108.3 414.7 101.8 414.5 95.4 414.3 93.8 414.0 92.8 412.2 89.8 411.7 88.8 411.1 87.3 411.0 86.3 410.9 85.3 411.1 54.3 411.3 53.3 411.7 52.3 412.5 51.1 413.5 50.1 414.5 49.5 417.4 48.3 418.2 47.8 420.0 46.2 421.5 45.1 422.5 44.6 424.0 44.0 426.0 43.5 427.0 43.4 428.5 43.4 431.0 43.8 434.5 44.9 435.5 44.9 436.0 44.7 438.0 43.5 441.6 42.3 442.8 41.8 443.7 41.3 445.5 40.1 446.5 39.5 448.0 38.9 449.5 38.6 450.5 38.5 452.0 38.5 453.5 38.7 456.5 39.3 459.0 39.3 467.0 38.0 478.0 36.4 488.0 35.7 489.5 35.9 490.5 36.4 491.0 36.8 491.9 37.8 492.4 38.8 492.6 39.8 492.6 40.8 492.4 41.8 491.9 42.8 491.0 43.8 490.0 44.5 488.5 44.9 479.5 45.3 476.8 45.8 474.6 46.3 473.1 46.8 472.4 47.3 472.2 47.8 473.2 49.8 473.5 50.8 473.8 51.8 473.9 53.3 473.9 54.8 473.7 56.3 473.4 57.8 473.0 59.3 471.7 62.3 470.9 63.8 469.6 65.8 468.1 67.8 466.8 69.3 464.0 72.2 462.0 73.9 459.5 75.7 457.0 77.3 454.5 78.6 452.0 79.6 449.5 80.4 447.5 80.9 443.5 81.6 442.5 81.9 440.2 82.8 438.0 83.8 436.0 85.4 434.5 86.9 427.5 94.7 426.5 95.6 425.5 96.3 425.1 97.3 425.0 98.3 425.4 107.8 425.2 108.8 425.0 109.4 424.8 111.3 424.5 112.5 424.3 114.8 424.2 115.3 423.8 116.3 423.4 116.8 422.5 117.6 421.5 118.0Z" fill="#fcfcfc" stroke="#555" stroke-width="0.35"/>
<path d="M421.0 117.9 420.0 117.9 419.0 117.6 417.9 116.8 417.2 115.8 416.5 112.7 416.2 111.8 416.0 110.6 415.2 107.8 415.0 102.6 414.7 97.3 414.6 94.3 414.5 92.6 414.0 91.3 412.8 89.3 412.3 88.3 411.9 87.3 411.7 86.3 411.8 54.8 411.9 53.8 412.2 52.8 413.0 51.5 414.0 50.6 415.0 50.1 416.5 49.6 418.2 49.3 419.5 48.8 422.0 46.8 423.0 46.2 424.5 45.5 426.5 45.1 428.5 45.1 430.5 45.4 434.0 46.4 435.0 46.5 435.5 46.4 436.0 46.1 437.2 44.8 438.5 44.0 440.8 43.3 443.6 42.3 447.0 40.5 448.5 39.9 449.5 39.7 451.5 39.6 456.0 40.0 458.5 39.9 459.7 39.8 464.5 38.9 477.5 37.0 487.5 36.1 488.5 36.1 489.0 36.2 490.0 36.6 490.5 36.9 491.4 37.8 491.7 38.3 492.2 39.8 492.2 40.8 491.9 41.8 491.4 42.8 490.5 43.7 490.0 44.0 488.5 44.5 479.5 44.8 476.2 45.3 470.7 46.3 468.4 46.8 466.6 47.3 465.5 47.8 465.4 48.3 465.8 48.8 467.8 50.3 468.5 51.1 468.9 51.8 469.6 53.3 469.8 54.8 469.8 56.8 469.3 59.3 468.4 61.8 467.0 64.3 466.0 65.8 464.8 67.3 462.5 69.8 460.0 71.9 457.0 74.0 454.0 75.6 451.5 76.5 449.5 77.1 445.0 78.1 443.0 78.8 441.1 79.8 438.0 81.9 436.5 83.2 434.5 85.2 433.0 86.9 430.3 90.3 427.2 93.8 426.5 94.5 425.5 95.3 425.0 95.9 424.8 97.8 425.2 107.8 424.5 111.4 424.1 114.8 423.8 115.8 423.0 116.9 422.0 117.6 421.0 117.9Z" fill="#f9f9f9" stroke="#555" stroke-width="0.35"/>
<path d="M422.0 117.5 421.5 117.7 420.5 117.8 419.5 117.7 419.0 117.5 418.5 117.2 417.6 116.3 417.1 115.3 417.0 114.3 416.7 113.3 416.0 110.0 415.6 108.8 415.4 107.8 414.8 97.3 414.9 94.3 414.6 91.8 414.5 91.3 414.0 90.3 412.9 88.3 412.5 87.3 412.2 86.3 412.2 85.3 412.3 54.8 412.3 54.3 412.5 53.3 412.7 52.8 413.4 51.8 414.5 50.9 415.5 50.5 417.0 50.1 419.0 50.1 420.0 49.9 420.9 49.3 422.5 47.9 423.5 47.3 424.5 46.9 426.0 46.4 427.5 46.3 429.0 46.4 430.5 46.7 434.0 47.7 435.0 47.8 435.5 47.7 436.0 47.3 436.6 46.3 437.4 45.3 438.5 44.5 443.8 42.8 447.5 41.1 449.5 40.5 451.5 40.3 456.5 40.5 458.9 40.3 465.5 39.1 478.5 37.2 486.0 36.5 488.5 36.4 489.5 36.7 490.5 37.3 491.0 37.8 491.6 38.8 491.9 39.8 491.9 40.8 491.6 41.8 491.0 42.8 490.5 43.3 489.5 43.9 488.5 44.2 479.5 44.5 477.1 44.8 465.0 46.8 463.1 47.3 462.0 47.8 461.6 48.3 461.5 48.8 461.9 49.8 462.5 50.5 464.5 52.5 465.2 53.3 465.9 54.3 466.4 55.8 466.5 57.3 466.2 59.3 465.6 61.3 464.6 63.3 463.0 65.7 461.2 67.8 459.0 69.8 456.5 71.5 454.5 72.6 452.5 73.5 450.5 74.2 446.5 75.2 444.5 75.9 442.5 77.0 440.5 78.4 438.5 80.1 437.5 80.9 435.5 82.9 433.0 85.8 430.3 89.3 428.6 91.3 426.5 93.7 425.0 95.0 424.7 96.3 424.6 97.8 425.0 106.8 424.9 108.3 424.5 110.4 423.9 115.3 423.4 116.3 422.5 117.2 422.0 117.5Z" fill="#f5f5f5" stroke="#555" stroke-width="0.35"/>
<path d="M421.5 117.6 421.0 117.7 420.0 117.7 419.5 117.6 418.5 117.0 417.8 116.3 417.2 115.3 417.0 113.8 415.5 107.8 415.1 99.3 415.0 93.8 414.9 92.3 414.5 90.3 413.1 87.8 412.7 86.3 412.7 85.3 412.7 54.8 412.8 53.8 413.0 53.3 413.6 52.3 414.5 51.5 415.5 51.0 416.0 50.8 417.5 50.7 420.0 50.9 420.7 50.8 421.5 50.3 423.0 49.0 424.0 48.4 425.0 47.9 426.5 47.5 427.5 47.4 429.0 47.5 430.5 47.9 433.5 48.8 434.5 49.0 435.5 48.9 436.0 48.7 436.4 48.3 437.2 46.3 437.9 45.3 438.5 44.9 439.5 44.5 443.6 43.3 445.0 42.8 448.0 41.5 449.5 41.1 451.5 40.9 455.5 40.9 457.5 40.8 460.8 40.3 464.5 39.6 478.0 37.5 483.0 37.0 487.5 36.6 488.5 36.6 489.5 36.9 490.5 37.6 491.1 38.3 491.4 38.8 491.7 39.8 491.7 40.8 491.4 41.8 491.1 42.3 490.5 43.0 489.5 43.7 488.5 44.0 488.0 44.0 479.5 44.2 478.5 44.3 465.1 46.3 462.8 46.8 461.2 47.3 460.4 47.8 460.0 48.3 459.9 48.8 460.0 49.6 460.5 52.0 461.0 53.6 462.6 56.8 462.9 58.3 462.9 59.3 462.6 60.8 462.2 61.8 461.5 63.2 460.5 64.8 459.2 66.3 457.5 67.8 456.0 68.9 454.5 69.8 453.0 70.5 447.5 72.5 445.5 73.4 443.0 74.9 441.0 76.5 437.0 80.1 435.5 81.8 432.5 85.3 428.8 90.3 426.2 93.3 425.0 94.3 424.6 95.3 424.4 96.3 424.5 100.0 424.8 104.8 424.9 107.8 424.5 109.5 424.2 111.8 424.0 113.1 423.9 114.8 423.8 115.3 423.2 116.3 422.5 117.0 421.5 117.6Z" fill="#f0f0f0" stroke="#555" stroke-width="0.35"/>
<path d="M421.5 117.4 421.0 117.6 420.0 117.6 419.0 117.2 418.5 116.9 417.9 116.3 417.6 115.8 417.2 114.8 417.0 113.3 415.7 107.8 415.1 97.8 415.2 93.8 415.0 91.2 414.5 89.5 413.6 87.8 413.2 86.3 413.1 85.3 413.1 54.8 413.3 53.8 413.5 53.2 414.0 52.5 415.0 51.6 415.5 51.4 416.5 51.2 418.0 51.2 420.5 52.0 421.0 52.1 421.5 51.9 422.0 51.6 423.5 50.1 424.5 49.4 425.5 49.0 427.0 48.6 428.0 48.6 429.5 48.8 432.8 49.8 434.0 50.0 435.0 50.1 436.0 50.0 436.5 49.8 436.8 49.3 437.3 46.8 437.9 45.8 438.5 45.3 439.0 45.0 443.2 43.8 444.7 43.3 448.0 42.0 449.5 41.6 451.0 41.4 455.5 41.3 458.5 41.0 466.5 39.5 478.5 37.7 480.5 37.5 488.0 36.9 489.0 37.0 490.0 37.5 490.4 37.8 490.8 38.3 491.3 39.3 491.4 40.3 491.3 41.3 490.8 42.3 490.4 42.8 490.0 43.1 489.0 43.6 488.0 43.7 479.5 44.0 473.1 44.8 466.1 45.8 463.3 46.3 461.2 46.8 460.0 47.3 459.3 47.8 459.0 48.3 458.9 48.8 458.9 50.8 458.8 52.3 458.6 53.8 458.1 55.8 458.1 56.8 458.4 59.8 458.3 60.8 457.9 62.3 457.3 63.3 456.6 64.3 455.2 65.8 453.9 66.8 452.5 67.7 448.5 69.7 446.5 70.8 443.5 72.9 441.0 75.1 436.5 79.5 435.0 81.3 432.5 84.4 428.5 89.8 426.0 92.8 425.0 93.7 424.6 94.3 424.4 94.8 424.3 96.3 424.7 107.8 424.5 108.8 424.0 112.3 423.8 114.8 423.6 115.3 423.0 116.4 422.5 116.9 421.5 117.4Z" fill="#eaeaea" stroke="#555" stroke-width="0.35"/>
<path d="M421.0 117.4 420.0 117.4 419.0 117.1 418.5 116.7 417.7 115.8 417.4 114.8 417.0 112.8 415.8 107.8 415.3 97.3 415.3 93.8 415.2 91.3 415.0 90.1 414.5 88.7 413.9 87.3 413.5 85.8 413.6 54.8 413.7 53.8 414.3 52.8 415.0 52.2 416.0 51.7 417.0 51.6 418.0 51.7 419.0 52.2 419.9 52.8 420.9 53.8 421.5 54.8 422.0 54.5 422.9 52.8 424.1 51.3 425.0 50.6 426.5 50.0 427.5 49.8 429.0 49.9 430.0 50.2 432.5 51.0 433.5 51.2 435.0 51.2 436.5 50.9 437.0 50.8 437.5 50.3 437.7 49.8 437.6 47.8 437.8 46.8 438.0 46.3 438.4 45.8 439.0 45.4 444.3 43.8 447.5 42.6 449.5 42.1 451.5 41.8 456.0 41.5 458.3 41.3 464.5 40.1 478.5 37.9 488.0 37.1 489.0 37.2 489.5 37.4 490.0 37.8 490.5 38.3 490.9 38.8 491.1 39.3 491.2 39.8 491.2 40.8 490.9 41.8 490.5 42.3 490.0 42.8 489.5 43.2 489.0 43.4 488.0 43.5 479.0 43.7 467.5 45.3 464.2 45.8 461.5 46.3 459.9 46.8 458.9 47.3 458.4 47.8 458.1 48.3 458.0 48.8 457.8 51.3 457.3 52.8 456.5 54.3 453.8 60.8 452.9 62.3 451.6 64.3 450.7 65.3 450.2 65.8 445.5 69.6 442.5 72.2 440.0 74.7 436.5 78.4 434.5 80.8 432.5 83.4 428.3 89.3 424.5 93.8 424.3 94.8 424.1 96.3 424.6 107.3 424.0 111.5 423.6 114.8 423.3 115.8 422.5 116.7 422.0 117.1 421.0 117.4Z" fill="#e3e3e3" stroke="#555" stroke-width="0.35"/>
<path d="M420.5 117.4 419.5 117.2 419.0 117.0 418.5 116.6 417.8 115.8 417.6 115.3 416.0 107.8 415.4 97.3 415.5 94.3 415.4 91.8 415.0 89.1 414.2 86.8 414.0 85.8 414.1 76.3 414.0 54.8 414.2 53.8 414.5 53.3 415.0 52.7 415.5 52.4 416.0 52.2 417.0 52.1 418.0 52.3 418.5 52.5 419.4 53.3 419.7 53.8 419.9 54.3 420.5 58.3 421.0 60.3 421.5 61.3 422.0 61.3 422.5 60.7 423.0 59.4 423.5 57.5 424.3 53.8 424.9 52.8 425.4 52.3 426.0 51.8 426.5 51.6 427.0 51.5 428.0 51.4 429.5 51.6 432.0 52.5 433.5 52.7 435.0 52.4 437.5 51.7 438.0 51.3 438.5 50.8 438.7 50.3 438.1 48.3 438.0 47.3 438.2 46.8 438.5 46.3 439.0 45.8 439.5 45.6 443.9 44.3 448.5 42.7 451.0 42.2 457.5 41.7 460.1 41.3 464.5 40.4 479.5 38.1 488.0 37.3 489.0 37.5 490.0 38.1 490.6 38.8 490.8 39.3 491.0 39.8 491.0 40.8 490.6 41.8 490.2 42.3 489.5 42.9 489.0 43.1 488.0 43.3 479.0 43.5 465.3 45.3 462.5 45.8 460.2 46.3 458.8 46.8 458.0 47.3 457.5 47.8 457.1 48.8 456.7 51.3 456.3 52.3 455.5 53.6 452.3 59.3 449.3 63.8 447.9 65.3 441.0 72.2 436.0 77.8 432.5 82.3 427.7 89.3 424.5 93.1 424.1 94.3 424.0 95.8 424.5 107.3 423.5 114.8 423.2 115.8 422.5 116.6 422.0 117.0 421.5 117.2 420.5 117.4Z" fill="#dbdbdb" stroke="#555" stroke-width="0.35"/>
<path d="M422.0 116.8 421.5 117.1 421.0 117.2 420.0 117.2 419.5 117.1 418.5 116.5 418.0 115.8 417.7 115.3 417.6 114.8 417.0 111.8 416.1 107.8 415.6 97.3 415.6 93.8 415.5 90.8 415.0 88.0 414.6 86.8 414.4 85.8 414.6 76.3 414.5 54.8 414.6 54.3 414.8 53.8 415.1 53.3 416.0 52.7 417.0 52.6 418.0 52.9 418.5 53.3 418.9 53.8 419.1 54.3 419.2 54.8 420.0 61.4 420.5 64.0 421.0 65.4 421.5 66.0 422.0 66.0 422.5 65.5 423.5 63.6 426.0 56.8 427.1 54.3 427.5 54.0 428.0 53.8 428.5 53.8 429.5 54.1 431.0 54.7 432.0 54.9 432.5 54.8 433.5 54.5 436.1 53.3 437.5 52.7 438.5 52.2 439.6 51.3 439.9 50.8 440.0 50.3 438.8 48.8 438.4 47.8 438.5 47.3 438.6 46.8 439.0 46.3 439.5 46.0 445.0 44.3 448.5 43.1 451.0 42.6 458.0 41.9 465.0 40.6 478.5 38.4 481.5 38.1 488.0 37.5 489.0 37.7 489.9 38.3 490.4 38.8 490.8 39.8 490.8 40.8 490.6 41.3 490.4 41.8 489.9 42.3 489.5 42.7 488.5 43.1 479.0 43.2 465.5 45.0 461.0 45.8 459.0 46.3 457.9 46.8 457.1 47.3 456.7 47.8 456.3 48.8 455.9 50.8 455.5 51.8 451.3 58.3 447.8 63.3 439.5 72.5 435.5 77.2 431.5 82.7 427.8 88.3 424.5 92.4 424.0 93.7 423.8 95.8 424.3 107.8 424.0 109.7 423.3 115.3 422.7 116.3 422.0 116.8Z" fill="#d2d2d2" stroke="#555" stroke-width="0.35"/>
<path d="M421.5 117.0 420.5 117.1 419.5 117.0 418.5 116.3 418.1 115.8 417.7 114.8 416.5 108.8 416.2 107.8 415.7 97.3 415.8 93.8 415.7 91.3 415.5 89.2 414.9 85.8 415.1 76.3 415.2 54.8 415.3 54.3 415.6 53.8 416.0 53.5 416.4 53.3 417.0 53.3 417.5 53.4 418.0 53.8 418.3 54.3 419.2 62.3 419.8 66.3 420.5 68.9 421.0 69.8 421.5 70.1 422.0 69.8 422.5 69.1 426.0 63.0 427.5 61.2 429.0 60.0 431.0 58.9 432.5 57.9 434.0 56.7 436.1 54.8 439.5 52.8 440.8 51.8 441.8 50.8 442.1 50.3 442.1 49.8 441.4 49.3 440.0 48.9 439.5 48.6 439.3 48.3 439.0 47.8 439.1 47.3 439.5 46.6 448.0 43.6 450.5 43.0 458.0 42.3 465.0 40.9 479.5 38.6 488.0 37.7 489.0 37.9 489.6 38.3 490.1 38.8 490.4 39.3 490.6 40.3 490.5 40.8 490.4 41.3 490.1 41.8 489.6 42.3 489.0 42.7 488.5 42.8 479.0 42.9 465.0 44.7 461.0 45.4 458.5 46.0 456.8 46.8 456.2 47.3 455.7 47.8 455.3 48.8 455.0 50.3 454.5 51.3 449.7 58.3 446.4 62.8 438.5 72.1 435.0 76.5 431.5 81.4 427.1 88.3 424.5 91.6 424.0 92.8 423.8 93.8 423.7 95.3 424.2 107.8 424.0 108.8 423.3 114.8 423.2 115.3 422.5 116.3 422.0 116.7 421.5 117.0Z" fill="#c8c8c8" stroke="#555" stroke-width="0.35"/>
<path d="M421.0 116.9 420.0 116.9 419.0 116.5 418.3 115.8 418.0 115.3 416.4 107.8 416.4 107.3 415.9 97.3 416.0 91.8 415.6 88.3 415.6 85.3 415.8 79.8 416.1 67.3 416.4 59.8 416.5 58.2 417.0 57.1 417.5 59.7 418.7 67.8 419.5 71.8 420.0 73.3 420.5 74.1 421.0 74.4 421.5 74.3 422.0 73.9 423.0 72.4 424.1 69.8 424.6 68.8 426.0 66.9 427.5 65.1 428.5 64.2 433.0 60.4 435.0 58.4 437.5 55.7 440.0 54.0 442.0 52.6 443.6 51.3 444.5 50.3 444.7 49.8 444.5 49.3 443.9 48.8 441.2 47.8 441.0 47.5 440.9 47.3 441.4 46.8 442.4 46.3 448.0 44.1 450.5 43.5 452.5 43.2 456.5 42.9 458.5 42.7 465.1 41.3 480.0 38.9 488.0 38.0 488.5 38.1 489.0 38.2 489.5 38.6 490.1 39.3 490.2 39.8 490.2 40.8 490.1 41.3 489.5 42.0 489.0 42.4 488.5 42.5 485.5 42.6 479.0 42.6 462.5 44.7 459.5 45.2 457.5 45.9 456.5 46.3 455.7 46.8 454.6 47.8 454.3 48.3 453.5 50.3 448.5 57.4 444.0 63.3 437.0 72.1 434.0 76.1 430.5 81.4 426.7 87.8 424.4 90.8 424.0 91.7 423.8 92.3 423.5 94.3 423.5 96.3 424.0 107.3 423.1 114.8 423.0 115.3 422.5 116.1 422.0 116.5 421.0 116.9Z" fill="#c0c0c0" stroke="#555" stroke-width="0.35"/>
<path d="M450.5 49.5 450.0 49.7 449.5 49.7 448.2 48.8 444.7 47.3 444.4 46.8 444.8 46.3 445.7 45.8 448.0 44.7 450.0 44.1 452.5 43.8 457.0 43.6 458.5 43.4 460.5 43.1 465.5 41.8 479.9 39.3 488.0 38.3 488.5 38.4 489.3 38.8 489.7 39.3 489.9 39.8 490.0 40.3 489.9 40.8 489.7 41.3 489.3 41.8 488.5 42.2 484.5 42.3 479.0 42.2 462.0 44.0 459.0 44.5 457.5 45.0 455.5 46.0 453.6 47.3 452.0 48.7 450.5 49.5ZM421.5 116.6 420.5 116.8 419.5 116.6 419.0 116.3 418.5 115.8 418.2 115.3 416.6 107.8 416.1 97.3 416.2 92.3 416.0 88.3 417.0 80.3 417.5 77.7 418.0 76.8 418.5 77.0 419.3 77.8 420.0 78.2 420.5 78.3 421.0 78.2 421.5 77.9 422.0 77.5 423.0 76.1 425.9 70.3 426.3 69.8 428.0 68.0 432.0 64.6 434.0 62.7 436.3 60.3 439.0 57.1 444.5 53.3 447.0 51.7 448.5 50.9 449.0 51.0 449.1 51.3 449.0 51.8 448.8 52.3 447.5 54.8 445.5 57.8 436.3 70.3 433.5 74.3 430.0 80.1 426.4 86.8 425.7 87.8 424.5 89.4 424.0 90.3 423.5 92.3 423.3 94.8 423.8 107.8 422.9 114.8 422.8 115.3 422.5 115.8 422.0 116.3 421.5 116.6Z" fill="#bcbcbc" stroke="#555" stroke-width="0.35"/>
<path d="M488.5 41.8 488.0 41.9 483.0 41.8 479.0 41.5 474.0 41.9 472.5 41.9 471.4 41.8 472.5 41.5 473.0 41.3 480.1 39.8 483.1 39.3 488.0 38.7 488.5 38.8 489.0 39.0 489.5 39.7 489.6 40.3 489.5 40.8 489.3 41.3 489.0 41.6 488.5 41.8ZM452.0 46.8 451.0 47.2 450.0 47.2 448.3 46.8 447.9 46.3 448.2 45.8 448.9 45.3 450.4 44.8 452.5 44.6 453.5 44.6 454.2 44.8 454.3 45.3 453.7 45.8 452.0 46.8ZM421.5 116.3 420.5 116.6 419.5 116.3 418.8 115.8 418.5 115.3 418.3 114.8 416.9 107.8 416.3 97.3 416.5 92.8 416.3 88.8 416.3 87.8 416.8 86.3 418.5 83.1 419.0 82.6 420.5 81.9 421.5 81.3 422.5 80.3 423.6 78.8 426.5 74.2 428.5 71.6 429.0 71.2 430.0 70.7 431.0 70.5 431.5 70.5 431.7 70.8 431.8 71.3 431.7 71.8 431.5 72.8 431.1 73.8 425.5 86.2 424.0 88.7 423.5 90.3 423.1 92.8 423.0 94.8 423.6 107.3 422.7 114.8 422.5 115.3 422.2 115.8 421.5 116.3Z" fill="#c4c4c4" stroke="#555" stroke-width="0.35"/>
<path d="M488.5 41.4 488.0 41.5 484.2 41.3 481.6 40.8 481.9 40.3 483.7 39.8 488.0 39.1 488.6 39.3 489.1 39.8 489.2 40.3 489.1 40.8 488.5 41.4ZM421.5 116.0 421.0 116.2 420.5 116.3 420.0 116.2 419.2 115.8 418.8 115.3 418.6 114.8 417.2 107.8 416.6 97.3 416.8 92.8 416.6 88.3 416.8 87.3 417.4 86.3 418.0 85.6 418.5 85.3 419.5 84.9 421.5 84.6 423.0 84.1 423.5 84.1 423.7 84.3 423.8 84.8 423.8 85.3 423.5 86.8 423.4 88.3 422.8 92.3 422.7 94.3 423.3 107.3 422.4 114.8 422.0 115.6 421.5 116.0Z" fill="#d4d4d4" stroke="#555" stroke-width="0.35"/>
<path d="M488.0 40.7 486.9 40.3 488.0 39.9 488.4 40.3 488.0 40.7ZM421.5 115.4 421.0 115.7 420.5 115.8 420.0 115.7 419.4 115.3 419.1 114.8 419.0 114.3 417.6 107.8 417.0 97.5 417.3 92.8 417.3 90.3 417.1 88.8 417.2 87.8 417.5 87.1 418.2 86.3 419.0 85.9 420.0 85.7 421.0 85.9 421.5 86.1 422.0 86.5 422.5 87.3 422.8 88.3 422.6 90.3 422.3 93.3 422.2 94.8 422.4 97.3 422.9 107.3 422.0 114.2 421.9 114.8 421.5 115.4Z" fill="#e6e6e6" stroke="#555" stroke-width="0.35"/>
<path d="M421.0 111.4 420.0 111.5 419.5 111.3 419.0 110.5 418.2 107.8 418.0 106.0 417.6 97.3 418.2 94.3 418.3 93.3 418.2 91.8 417.7 88.3 417.8 87.8 418.0 87.3 418.5 86.8 419.0 86.5 419.5 86.4 420.5 86.4 421.0 86.6 421.5 87.0 422.1 87.8 422.2 88.8 422.0 91.3 421.6 93.3 421.5 94.8 421.9 97.3 422.3 107.3 422.0 109.1 421.5 110.9 421.0 111.4Z" fill="#f6f6f6" stroke="#555" stroke-width="0.35"/>
<path d="M489.4 83.3h.7v.7h-.7zM472.2 59.8h.7v.7h-.7zM445.0 76.6h.7v.7h-.7zM471.3 80.7h.7v.7h-.7zM465.9 81.1h.7v.7h-.7zM460.3 82.5h.7v.7h-.7zM485.9 66.2h.7v.7h-.7zM475.1 77.4h.7v.7h-.7zM455.8 72.1h.7v.7h-.7zM490.1 60.0h.7v.7h-.7zM490.0 77.6h.7v.7h-.7zM492.3 62.9h.7v.7h-.7zM450.2 82.4h.7v.7h-.7zM490.1 67.5h.7v.7h-.7zM450.3 57.1h.7v.7h-.7zM480.6 61.0h.7v.7h-.7zM498.3 73.5h.7v.7h-.7zM456.2 76.3h.7v.7h-.7zM465.2 88.0h.7v.7h-.7zM495.9 70.4h.7v.7h-.7zM481.1 78.1h.7v.7h-.7zM490.1 89.8h.7v.7h-.7zM446.6 64.0h.7v.7h-.7zM478.7 61.6h.7v.7h-.7zM478.0 52.6h.7v.7h-.7zM494.3 70.9h.7v.7h-.7zM451.5 76.6h.7v.7h-.7zM462.5 57.0h.7v.7h-.7zM472.1 54.6h.7v.7h-.7zM456.8 85.2h.7v.7h-.7zM484.1 49.3h.7v.7h-.7zM488.6 49.5h.7v.7h-.7zM463.6 86.8h.7v.7h-.7zM479.7 61.7h.7v.7h-.7zM466.1 65.1h.7v.7h-.7zM452.1 90.8h.7v.7h-.7zM448.0 66.6h.7v.7h-.7zM486.8 65.5h.7v.7h-.7zM499.9 59.1h.7v.7h-.7zM499.8 86.3h.7v.7h-.7zM482.5 86.2h.7v.7h-.7zM470.0 83.7h.7v.7h-.7zM489.6 70.5h.7v.7h-.7zM471.4 78.4h.7v.7h-.7zM467.9 52.4h.7v.7h-.7zM486.8 60.0h.7v.7h-.7zM472.3 81.7h.7v.7h-.7zM454.6 49.7h.7v.7h-.7zM451.9 73.6h.7v.7h-.7zM465.2 59.6h.7v.7h-.7zM470.3 87.8h.7v.7h-.7zM459.3 66.0h.7v.7h-.7zM494.2 74.5h.7v.7h-.7zM460.0 68.7h.7v.7h-.7zM471.8 54.8h.7v.7h-.7zM466.1 61.6h.7v.7h-.7zM490.1 62.4h.7v.7h-.7zM481.9 89.6h.7v.7h-.7zM496.7 64.6h.7v.7h-.7zM478.8 62.2h.7v.7h-.7zM467.3 69.3h.7v.7h-.7zM489.4 88.1h.7v.7h-.7zM461.3 49.1h.7v.7h-.7zM470.2 51.2h.7v.7h-.7zM446.7 81.3h.7v.7h-.7zM451.3 79.0h.7v.7h-.7zM465.3 88.2h.7v.7h-.7zM492.8 51.4h.7v.7h-.7zM455.8 88.6h.7v.7h-.7zM479.4 66.5h.7v.7h-.7zM488.8 83.0h.7v.7h-.7zM472.5 68.5h.7v.7h-.7zM450.6 64.0h.7v.7h-.7zM453.1 75.1h.7v.7h-.7zM479.0 54.9h.7v.7h-.7zM480.2 52.9h.7v.7h-.7zM450.9 75.9h.7v.7h-.7zM470.9 86.6h.7v.7h-.7zM480.2 78.3h.7v.7h-.7zM452.1 83.8h.7v.7h-.7zM449.7 74.8h.7v.7h-.7zM496.0 86.9h.7v.7h-.7zM495.0 67.8h.7v.7h-.7zM483.9 82.0h.7v.7h-.7zM452.7 88.4h.7v.7h-.7zM495.9 67.3h.7v.7h-.7zM488.6 67.6h.7v.7h-.7zM460.5 78.7h.7v.7h-.7zM448.6 82.4h.7v.7h-.7zM499.8 60.8h.7v.7h-.7zM497.6 52.3h.7v.7h-.7zM493.1 60.6h.7v.7h-.7zM499.1 66.9h.7v.7h-.7zM496.6 50.1h.7v.7h-.7zM449.8 83.1h.7v.7h-.7zM480.8 71.3h.7v.7h-.7zM446.8 56.1h.7v.7h-.7zM465.7 51.0h.7v.7h-.7zM500.6 80.9h.7v.7h-.7zM498.2 78.2h.7v.7h-.7zM464.2 52.1h.7v.7h-.7zM486.0 53.6h.7v.7h-.7zM475.6 68.3h.7v.7h-.7zM472.7 52.0h.7v.7h-.7zM449.1 70.7h.7v.7h-.7zM446.7 70.9h.7v.7h-.7zM453.4 60.6h.7v.7h-.7zM453.5 72.7h.7v.7h-.7zM466.7 58.2h.7v.7h-.7zM457.4 72.5h.7v.7h-.7zM496.0 66.4h.7v.7h-.7zM454.1 62.1h.7v.7h-.7zM458.5 72.8h.7v.7h-.7zM489.0 72.7h.7v.7h-.7zM455.5 62.5h.7v.7h-.7zM466.3 67.3h.7v.7h-.7zM467.3 90.7h.7v.7h-.7zM475.9 76.6h.7v.7h-.7zM485.1 75.9h.7v.7h-.7zM490.1 64.4h.7v.7h-.7zM482.3 89.6h.7v.7h-.7zM454.2 75.1h.7v.7h-.7zM466.5 51.4h.7v.7h-.7zM447.2 80.7h.7v.7h-.7zM451.4 78.7h.7v.7h-.7zM450.6 64.2h.7v.7h-.7zM446.8 71.6h.7v.7h-.7zM489.0 58.3h.7v.7h-.7zM476.7 87.5h.7v.7h-.7zM461.4 68.6h.7v.7h-.7zM485.6 85.1h.7v.7h-.7zM454.4 76.6h.7v.7h-.7zM451.7 53.5h.7v.7h-.7zM500.1 50.9h.7v.7h-.7zM496.5 80.3h.7v.7h-.7zM482.9 79.4h.7v.7h-.7zM481.5 60.9h.7v.7h-.7zM469.8 57.3h.7v.7h-.7zM493.1 81.5h.7v.7h-.7zM489.1 57.8h.7v.7h-.7zM478.2 59.5h.7v.7h-.7zM489.3 80.1h.7v.7h-.7zM500.7 78.5h.7v.7h-.7zM483.3 81.4h.7v.7h-.7zM450.2 73.8h.7v.7h-.7zM446.8 64.2h.7v.7h-.7zM451.6 88.6h.7v.7h-.7zM446.6 87.5h.7v.7h-.7zM498.1 67.1h.7v.7h-.7zM491.6 51.0h.7v.7h-.7zM452.8 49.2h.7v.7h-.7zM448.8 48.9h.7v.7h-.7zM491.4 52.5h.7v.7h-.7zM478.1 60.3h.7v.7h-.7zM452.4 66.4h.7v.7h-.7zM455.2 89.8h.7v.7h-.7zM466.5 73.7h.7v.7h-.7zM476.6 75.1h.7v.7h-.7zM471.9 60.1h.7v.7h-.7zM452.7 86.1h.7v.7h-.7zM455.8 67.6h.7v.7h-.7zM490.3 73.0h.7v.7h-.7zM498.1 82.8h.7v.7h-.7zM473.8 53.8h.7v.7h-.7zM478.2 68.7h.7v.7h-.7zM493.3 71.1h.7v.7h-.7zM483.9 82.9h.7v.7h-.7zM471.3 84.2h.7v.7h-.7zM495.4 55.3h.7v.7h-.7zM496.5 85.3h.7v.7h-.7zM492.9 63.0h.7v.7h-.7zM459.1 54.4h.7v.7h-.7zM465.8 84.7h.7v.7h-.7zM465.3 49.0h.7v.7h-.7zM462.1 52.3h.7v.7h-.7zM479.9 81.1h.7v.7h-.7zM496.9 52.5h.7v.7h-.7zM466.3 54.1h.7v.7h-.7zM496.0 84.0h.7v.7h-.7zM474.1 88.9h.7v.7h-.7zM474.1 81.4h.7v.7h-.7zM472.3 64.1h.7v.7h-.7zM500.7 84.2h.7v.7h-.7zM478.1 85.2h.7v.7h-.7zM481.4 82.3h.7v.7h-.7zM448.7 54.3h.7v.7h-.7zM451.1 74.1h.7v.7h-.7zM485.3 55.3h.7v.7h-.7zM473.3 53.6h.7v.7h-.7zM483.5 81.5h.7v.7h-.7zM449.9 90.0h.7v.7h-.7zM482.2 54.0h.7v.7h-.7zM464.7 55.4h.7v.7h-.7zM485.8 87.3h.7v.7h-.7zM454.8 56.5h.7v.7h-.7zM480.2 84.9h.7v.7h-.7zM486.4 68.0h.7v.7h-.7zM451.2 74.6h.7v.7h-.7zM470.5 82.6h.7v.7h-.7zM477.0 79.6h.7v.7h-.7zM499.4 75.1h.7v.7h-.7zM496.1 60.3h.7v.7h-.7zM445.1 85.9h.7v.7h-.7zM446.7 90.5h.7v.7h-.7zM470.5 51.4h.7v.7h-.7zM460.4 79.1h.7v.7h-.7zM466.5 75.0h.7v.7h-.7zM450.7 83.9h.7v.7h-.7zM465.9 83.8h.7v.7h-.7zM453.2 76.8h.7v.7h-.7zM471.3 65.8h.7v.7h-.7zM446.1 71.1h.7v.7h-.7zM491.9 53.2h.7v.7h-.7zM470.0 49.3h.7v.7h-.7zM500.7 89.5h.7v.7h-.7zM483.0 69.0h.7v.7h-.7zM448.9 53.9h.7v.7h-.7zM484.5 82.2h.7v.7h-.7zM500.4 85.0h.7v.7h-.7zM469.5 59.5h.7v.7h-.7zM475.3 63.3h.7v.7h-.7zM475.5 85.9h.7v.7h-.7zM470.4 90.0h.7v.7h-.7zM485.2 50.7h.7v.7h-.7zM486.8 76.6h.7v.7h-.7zM479.8 48.9h.7v.7h-.7zM494.2 69.6h.7v.7h-.7zM475.1 56.0h.7v.7h-.7zM447.0 49.4h.7v.7h-.7zM456.8 61.6h.7v.7h-.7zM453.6 51.2h.7v.7h-.7zM485.7 78.3h.7v.7h-.7zM494.4 57.9h.7v.7h-.7zM485.8 73.8h.7v.7h-.7zM450.0 85.6h.7v.7h-.7zM465.0 56.6h.7v.7h-.7zM455.3 87.6h.7v.7h-.7zM457.4 64.9h.7v.7h-.7zM475.6 63.9h.7v.7h-.7zM481.7 52.5h.7v.7h-.7zM465.7 107.2h.7v.7h-.7zM477.4 107.9h.7v.7h-.7zM455.7 108.7h.7v.7h-.7zM499.3 104.3h.7v.7h-.7zM478.9 114.2h.7v.7h-.7zM454.6 98.2h.7v.7h-.7zM499.2 99.2h.7v.7h-.7zM465.4 101.2h.7v.7h-.7zM500.6 106.1h.7v.7h-.7zM494.6 95.3h.7v.7h-.7zM456.2 109.0h.7v.7h-.7zM458.7 109.4h.7v.7h-.7zM470.5 93.0h.7v.7h-.7zM445.9 103.1h.7v.7h-.7zM472.1 95.7h.7v.7h-.7zM416.4 90.8h.7v.7h-.7zM416.4 99.5h.7v.7h-.7zM419.9 107.4h.7v.7h-.7zM432.9 110.9h.7v.7h-.7zM429.7 98.7h.7v.7h-.7zM422.9 111.2h.7v.7h-.7zM434.0 97.5h.7v.7h-.7zM409.4 92.2h.7v.7h-.7zM423.4 115.2h.7v.7h-.7zM413.3 112.7h.7v.7h-.7zM427.0 115.0h.7v.7h-.7zM434.2 93.8h.7v.7h-.7zM431.2 94.6h.7v.7h-.7zM412.3 102.0h.7v.7h-.7zM422.7 92.8h.7v.7h-.7zM416.7 95.7h.7v.7h-.7zM412.8 93.6h.7v.7h-.7zM409.7 96.9h.7v.7h-.7zM418.2 102.6h.7v.7h-.7zM428.4 107.9h.7v.7h-.7zM422.7 99.8h.7v.7h-.7zM426.2 96.2h.7v.7h-.7zM414.0 94.0h.7v.7h-.7zM427.7 94.7h.7v.7h-.7zM415.2 100.6h.7v.7h-.7zM427.2 64.5h.7v.7h-.7zM428.0 62.7h.7v.7h-.7zM417.2 73.7h.7v.7h-.7zM431.9 56.0h.7v.7h-.7zM422.7 62.0h.7v.7h-.7zM415.2 64.3h.7v.7h-.7zM436.4 54.5h.7v.7h-.7zM425.5 50.7h.7v.7h-.7zM436.6 55.0h.7v.7h-.7zM421.7 66.7h.7v.7h-.7zM422.1 73.5h.7v.7h-.7zM423.1 62.4h.7v.7h-.7zM420.2 62.4h.7v.7h-.7zM424.7 45.4h.7v.7h-.7zM436.0 47.4h.7v.7h-.7zM427.5 65.5h.7v.7h-.7zM424.7 53.3h.7v.7h-.7zM424.2 76.8h.7v.7h-.7zM412.3 72.8h.7v.7h-.7zM428.4 58.6h.7v.7h-.7zM429.2 64.2h.7v.7h-.7zM434.4 76.0h.7v.7h-.7zM425.9 54.1h.7v.7h-.7zM421.8 73.7h.7v.7h-.7zM425.0 44.3h.7v.7h-.7zM427.8 45.8h.7v.7h-.7zM421.4 64.6h.7v.7h-.7zM428.5 60.6h.7v.7h-.7zM434.4 63.1h.7v.7h-.7zM438.2 70.2h.7v.7h-.7zM419.1 69.2h.7v.7h-.7zM421.7 74.9h.7v.7h-.7zM428.7 56.4h.7v.7h-.7zM416.7 71.5h.7v.7h-.7zM421.5 42.3h.7v.7h-.7zM433.7 42.0h.7v.7h-.7zM413.2 42.9h.7v.7h-.7zM429.4 61.5h.7v.7h-.7zM425.1 74.5h.7v.7h-.7zM424.7 49.0h.7v.7h-.7zM438.9 45.7h.7v.7h-.7zM413.3 49.6h.7v.7h-.7zM438.4 56.4h.7v.7h-.7zM421.6 54.7h.7v.7h-.7zM422.0 68.2h.7v.7h-.7zM429.2 51.6h.7v.7h-.7zM417.1 70.4h.7v.7h-.7zM427.2 59.4h.7v.7h-.7zM417.4 76.0h.7v.7h-.7zM426.3 73.9h.7v.7h-.7zM480.8 58.7h.7v.7h-.7zM493.7 51.9h.7v.7h-.7zM450.6 70.0h.7v.7h-.7zM459.9 71.7h.7v.7h-.7zM473.2 62.4h.7v.7h-.7zM475.5 61.6h.7v.7h-.7zM489.1 56.9h.7v.7h-.7zM473.7 67.2h.7v.7h-.7zM453.7 78.6h.7v.7h-.7zM460.3 74.7h.7v.7h-.7zM474.8 57.5h.7v.7h-.7zM466.5 66.7h.7v.7h-.7zM497.2 49.4h.7v.7h-.7zM482.9 64.5h.7v.7h-.7zM461.5 72.8h.7v.7h-.7zM448.4 76.8h.7v.7h-.7zM454.8 73.2h.7v.7h-.7zM478.1 65.0h.7v.7h-.7zM466.2 69.0h.7v.7h-.7zM468.0 76.9h.7v.7h-.7zM474.9 57.3h.7v.7h-.7zM472.8 63.5h.7v.7h-.7zM448.3 74.3h.7v.7h-.7zM450.3 79.4h.7v.7h-.7zM496.0 50.8h.7v.7h-.7zM466.5 68.2h.7v.7h-.7zM470.7 68.7h.7v.7h-.7zM462.3 68.0h.7v.7h-.7zM483.6 63.0h.7v.7h-.7zM482.3 61.1h.7v.7h-.7zM493.0 58.0h.7v.7h-.7zM468.1 75.6h.7v.7h-.7zM448.5 78.5h.7v.7h-.7zM462.3 67.0h.7v.7h-.7zM461.3 64.3h.7v.7h-.7zM448.0 69.6h.7v.7h-.7zM475.5 60.7h.7v.7h-.7zM458.6 75.4h.7v.7h-.7zM463.1 67.3h.7v.7h-.7zM456.2 69.9h.7v.7h-.7zM454.9 72.9h.7v.7h-.7zM463.4 69.5h.7v.7h-.7zM464.6 68.6h.7v.7h-.7zM462.5 65.7h.7v.7h-.7zM473.7 60.7h.7v.7h-.7zM497.6 58.7h.7v.7h-.7zM467.7 65.7h.7v.7h-.7zM471.2 67.7h.7v.7h-.7zM483.0 59.8h.7v.7h-.7zM493.5 58.6h.7v.7h-.7zM484.1 57.4h.7v.7h-.7zM480.2 59.4h.7v.7h-.7zM453.4 73.0h.7v.7h-.7zM483.5 53.7h.7v.7h-.7zM459.0 72.1h.7v.7h-.7zM475.1 50.4h.7v.7h-.7zM462.9 73.1h.7v.7h-.7zM494.7 59.5h.7v.7h-.7zM479.8 58.5h.7v.7h-.7zM483.0 59.3h.7v.7h-.7zM450.0 79.9h.7v.7h-.7zM460.5 69.3h.7v.7h-.7zM459.3 67.8h.7v.7h-.7zM493.9 53.6h.7v.7h-.7zM466.3 64.0h.7v.7h-.7zM497.4 55.8h.7v.7h-.7zM490.5 56.7h.7v.7h-.7zM477.5 58.0h.7v.7h-.7zM489.8 53.2h.7v.7h-.7zM493.5 53.4h.7v.7h-.7zM474.3 63.8h.7v.7h-.7zM461.1 71.5h.7v.7h-.7zM492.2 53.8h.7v.7h-.7zM455.1 79.0h.7v.7h-.7zM479.4 64.3h.7v.7h-.7zM455.7 75.5h.7v.7h-.7zM485.5 52.7h.7v.7h-.7zM497.3 52.3h.7v.7h-.7zM474.1 67.0h.7v.7h-.7zM493.9 49.2h.7v.7h-.7z" fill="#666"/>
<g transform="translate(409 26.8)"><path d="M6.8 58.5 Q7.0 73.5 7.6 84.5 Q8.1 88.5 11.399999999999999 88.5 Q14.899999999999999 88.5 15.2 84.5 L15.5 66.5" stroke="#333" stroke-width="1.7" fill="none" opacity="0.85"/><path d="M7.3 28 Q6.6 43.25 6.8 59.0" stroke="#666" stroke-width="1.3" fill="none" opacity="0.8"/></g>
</g>
<g clip-path="url(#cp6)">
<path d="M317.0 223.4 315.5 223.2 314.5 222.6 313.7 221.8 313.2 220.8 313.0 219.6 312.7 218.8 312.5 217.5 312.2 216.8 312.0 215.5 311.3 213.3 311.0 206.2 310.7 202.8 310.7 200.3 310.5 198.6 310.0 197.5 308.6 195.3 307.9 193.8 307.4 192.3 307.2 191.3 307.4 154.8 307.5 153.8 307.8 152.8 308.3 151.8 308.6 151.3 309.5 150.4 310.5 149.7 312.0 149.1 314.6 148.3 315.5 147.8 317.5 146.3 319.0 145.5 320.5 144.9 322.5 144.5 324.5 144.4 326.5 144.7 328.0 145.2 330.5 146.4 331.0 146.6 331.5 146.7 332.0 146.5 333.5 145.6 334.5 145.1 338.1 144.3 343.5 142.6 346.0 142.1 356.1 141.3 362.0 140.6 376.5 139.5 377.5 139.5 382.2 140.3 384.5 140.4 385.5 140.6 386.5 140.9 387.5 141.6 388.2 142.3 388.9 143.3 389.2 144.3 389.3 145.3 388.9 149.3 389.1 157.8 388.9 158.8 388.8 159.3 388.0 160.3 387.0 161.1 386.5 161.2 385.5 161.4 384.5 161.2 384.0 161.1 383.0 160.4 382.5 159.8 382.2 159.3 381.9 158.3 381.0 151.6 380.7 150.3 380.5 149.7 380.0 149.2 379.2 148.8 376.5 148.3 371.7 148.8 368.8 149.3 367.3 149.8 366.9 150.3 367.1 150.8 368.6 152.8 369.2 153.8 369.5 154.8 369.9 156.8 369.9 159.3 369.4 161.8 368.6 164.3 367.1 167.3 365.6 169.8 363.3 172.8 360.4 175.8 358.7 177.3 357.0 178.6 354.0 180.7 350.5 182.6 347.0 184.0 344.5 184.7 339.0 185.7 336.2 186.8 335.0 187.3 334.5 187.7 333.0 189.0 331.5 190.5 330.0 192.2 327.3 195.8 324.4 199.3 323.5 200.3 322.0 201.4 321.5 202.1 321.4 203.3 321.4 204.8 321.5 209.0 321.8 212.8 321.0 216.6 320.8 218.3 320.4 220.8 320.2 221.3 319.9 221.8 319.0 222.7 318.5 223.0 318.0 223.2 317.0 223.4Z" fill="#fcfcfc" stroke="#555" stroke-width="0.35"/>
<path d="M318.0 223.1 317.5 223.2 316.5 223.2 315.5 223.0 315.0 222.7 314.5 222.4 314.0 221.8 313.6 221.3 313.2 220.3 313.0 218.8 312.7 217.8 312.0 214.7 311.8 214.3 311.6 213.3 311.2 206.8 311.0 202.8 311.0 199.8 310.9 198.8 310.5 197.0 309.2 194.8 308.5 193.3 308.1 192.3 308.0 191.3 308.1 154.8 308.3 153.3 308.8 152.3 309.1 151.8 310.0 150.9 310.5 150.5 311.5 150.0 313.0 149.7 315.0 149.5 315.9 149.3 316.8 148.8 318.5 147.6 319.5 147.1 320.5 146.6 321.5 146.3 323.5 146.1 325.0 146.1 326.0 146.3 328.0 146.9 330.6 148.3 331.0 148.5 331.5 148.5 332.0 148.1 332.6 147.3 333.5 146.3 334.0 146.0 335.0 145.5 338.3 144.8 344.5 143.1 347.5 142.6 356.0 141.8 361.5 141.1 377.0 139.9 382.0 140.7 385.5 141.0 386.5 141.4 387.5 142.1 388.4 143.3 388.8 144.3 388.9 144.8 388.9 146.3 388.5 149.3 388.7 157.8 388.5 158.8 388.3 159.3 387.9 159.8 387.0 160.6 386.0 160.9 385.0 160.9 384.0 160.6 383.1 159.8 382.7 159.3 382.4 158.3 381.5 152.0 381.1 149.8 380.8 149.3 380.5 148.9 379.5 148.4 377.0 147.8 376.5 147.8 370.5 148.3 361.4 149.3 359.3 149.8 358.6 150.3 358.6 150.8 359.0 151.3 360.0 152.0 362.5 153.3 363.8 154.3 364.5 155.1 364.9 155.8 365.6 157.3 365.8 158.3 365.9 159.3 365.9 160.3 365.7 161.8 365.3 163.3 364.8 164.8 363.6 167.3 362.7 168.8 361.6 170.3 359.5 172.8 358.0 174.2 356.5 175.5 353.5 177.7 351.0 179.1 348.0 180.4 345.5 181.1 341.0 182.1 339.0 182.8 337.1 183.8 334.5 185.6 332.5 187.6 330.5 189.9 329.0 191.9 326.2 195.8 323.8 198.8 323.0 199.6 321.5 200.9 321.2 201.8 321.1 203.3 321.5 212.8 321.4 213.8 321.0 215.3 320.8 217.3 320.5 218.6 320.4 220.3 320.3 220.8 319.7 221.8 319.0 222.5 318.0 223.1Z" fill="#f9f9f9" stroke="#555" stroke-width="0.35"/>
<path d="M318.0 222.9 317.5 223.1 316.5 223.1 316.0 223.0 315.0 222.6 314.1 221.8 313.7 221.3 313.4 220.3 313.0 218.3 312.7 217.3 312.5 216.2 311.7 213.3 311.1 202.8 311.2 199.8 311.0 197.4 310.5 195.9 309.0 193.3 308.7 192.3 308.5 191.3 308.6 154.8 308.7 153.8 308.8 153.3 309.4 152.3 309.8 151.8 310.5 151.1 311.5 150.6 312.0 150.4 313.5 150.2 316.0 150.3 317.0 150.1 319.5 148.5 320.5 148.0 321.5 147.6 323.0 147.4 325.0 147.4 326.5 147.7 328.5 148.6 331.0 150.1 331.5 150.2 332.0 150.2 332.5 149.0 332.7 148.3 333.2 147.3 333.6 146.8 334.5 146.1 335.0 145.9 339.8 144.8 344.0 143.6 347.5 143.0 354.8 142.3 360.5 141.5 377.0 140.2 381.0 140.9 385.0 141.2 386.0 141.5 387.0 142.0 387.8 142.8 388.1 143.3 388.3 143.8 388.6 144.8 388.6 145.8 388.2 149.3 388.4 157.8 388.2 158.8 387.5 159.8 387.0 160.2 386.0 160.6 385.0 160.6 384.0 160.2 383.5 159.8 382.8 158.8 382.7 158.3 381.5 150.1 381.0 148.9 380.5 148.5 380.0 148.2 378.5 147.8 376.5 147.5 360.6 148.8 357.8 149.3 356.7 149.8 356.4 150.3 356.4 150.8 356.6 151.3 357.5 153.2 358.5 154.6 360.5 156.5 361.2 157.3 361.9 158.3 362.2 159.3 362.5 160.8 362.3 162.8 361.8 164.8 360.9 166.8 359.3 169.3 357.7 171.3 355.5 173.3 353.0 175.2 350.5 176.6 348.5 177.5 346.5 178.2 342.5 179.2 340.5 179.9 339.5 180.4 338.0 181.3 336.0 182.8 334.0 184.5 332.0 186.8 329.5 189.9 325.4 195.8 323.0 198.8 321.5 200.1 321.0 201.0 320.9 202.8 321.0 206.5 321.4 212.8 321.2 213.8 321.0 214.4 320.8 216.3 320.5 217.8 320.3 220.3 319.9 221.3 319.5 221.8 318.5 222.7 318.0 222.9Z" fill="#f5f5f5" stroke="#555" stroke-width="0.35"/>
<path d="M317.5 222.9 316.5 223.0 315.5 222.7 315.0 222.5 314.2 221.8 313.6 220.8 313.0 217.8 311.9 213.3 311.8 212.8 311.3 202.8 311.3 198.8 311.1 196.8 311.0 196.2 310.5 195.1 309.8 193.8 309.3 192.8 309.0 191.3 309.0 154.8 309.1 153.8 309.3 153.3 309.9 152.3 310.5 151.7 311.0 151.4 311.5 151.1 312.5 150.8 314.0 150.8 316.5 151.3 317.0 151.3 317.5 151.2 318.0 151.0 320.0 149.5 321.0 149.0 322.5 148.6 324.0 148.5 325.5 148.7 327.0 149.1 328.5 149.9 331.0 151.6 332.0 152.0 332.5 152.0 333.1 151.8 333.2 151.3 333.0 149.3 333.2 148.3 333.7 147.3 334.5 146.6 335.5 146.2 339.3 145.3 344.0 144.0 346.5 143.5 349.5 143.1 353.1 142.8 360.5 141.8 377.0 140.5 382.0 141.3 385.0 141.4 386.0 141.7 387.0 142.4 387.8 143.3 388.3 144.3 388.4 144.8 388.3 146.3 388.0 148.2 387.9 149.3 388.1 157.8 387.9 158.8 387.5 159.4 387.0 159.9 386.5 160.2 386.0 160.3 385.5 160.4 384.5 160.2 384.0 159.9 383.5 159.4 383.1 158.8 382.8 157.3 382.0 151.3 381.6 149.3 381.3 148.8 380.8 148.3 379.6 147.8 377.5 147.3 376.5 147.2 361.6 148.3 357.8 148.8 356.0 149.3 355.3 149.8 355.1 150.3 355.2 150.8 355.9 153.3 356.7 156.8 357.1 157.8 358.4 160.3 358.8 161.8 358.9 162.8 358.7 164.3 358.4 165.3 357.7 166.8 356.5 168.7 355.2 170.3 353.5 171.8 352.0 172.9 350.5 173.8 349.0 174.5 343.5 176.5 341.5 177.4 339.0 178.9 336.0 181.3 333.5 183.7 332.0 185.5 329.0 189.5 325.8 194.3 324.7 195.8 322.7 198.3 321.2 199.8 320.9 200.3 320.8 201.8 321.0 209.4 321.2 212.8 320.5 216.9 320.2 219.8 320.1 220.3 319.7 221.3 319.4 221.8 318.5 222.5 317.5 222.9Z" fill="#f0f0f0" stroke="#555" stroke-width="0.35"/>
<path d="M317.0 222.9 316.5 222.9 315.5 222.6 315.0 222.3 314.4 221.8 314.0 221.3 313.7 220.8 313.6 220.3 313.5 219.5 312.5 215.1 312.1 213.8 312.0 212.8 311.5 202.8 311.5 198.8 311.3 196.8 311.0 195.3 309.8 192.8 309.4 191.3 309.4 154.8 309.6 153.8 309.8 153.3 310.5 152.3 311.1 151.8 312.0 151.4 313.0 151.2 313.5 151.2 315.0 151.5 317.0 152.4 317.5 152.5 318.0 152.5 318.5 152.2 320.0 150.9 321.0 150.3 322.5 149.8 324.0 149.6 325.0 149.7 326.5 150.2 328.0 151.0 330.0 152.4 331.0 152.9 332.1 153.3 333.0 153.3 334.0 153.0 334.2 152.8 334.6 152.3 334.5 151.8 333.7 150.3 333.5 149.3 333.6 148.3 333.8 147.8 334.2 147.3 334.8 146.8 335.5 146.5 338.6 145.8 343.5 144.5 346.0 143.9 349.5 143.4 355.5 142.8 361.0 142.1 377.0 140.8 381.0 141.4 385.0 141.7 386.0 142.0 387.0 142.6 387.8 143.8 388.1 144.8 388.2 145.3 387.7 149.3 387.9 157.8 387.8 158.3 387.6 158.8 387.3 159.3 386.5 159.9 386.0 160.1 385.0 160.1 384.5 159.9 383.7 159.3 383.4 158.8 383.2 158.3 382.0 149.8 381.6 148.8 381.2 148.3 380.5 147.8 380.0 147.7 378.7 147.3 376.5 146.9 364.1 147.8 358.8 148.3 356.5 148.7 355.9 148.8 354.7 149.3 354.3 149.8 354.2 150.3 354.8 153.3 354.9 155.3 354.7 157.3 354.1 159.8 354.1 160.8 354.4 163.3 354.4 164.3 354.1 165.8 353.6 166.8 353.0 167.8 352.2 168.8 350.5 170.4 349.0 171.4 344.0 173.9 341.5 175.4 338.5 177.7 335.5 180.5 333.0 183.1 331.5 185.0 328.5 189.2 324.9 194.8 322.5 197.8 321.0 199.4 320.7 200.3 320.6 201.8 321.0 212.8 320.5 216.1 320.0 220.3 319.9 220.8 319.6 221.3 319.0 222.0 318.0 222.7 317.0 222.9Z" fill="#eaeaea" stroke="#555" stroke-width="0.35"/>
<path d="M318.0 222.6 317.0 222.8 316.0 222.7 315.5 222.5 315.0 222.2 314.1 221.3 313.7 220.3 313.5 219.0 313.0 216.8 312.1 213.3 311.6 202.8 311.6 199.3 311.5 196.5 311.0 194.4 310.1 192.3 309.8 190.8 309.9 180.8 309.9 154.8 310.0 153.8 310.6 152.8 311.5 152.1 312.5 151.7 313.5 151.6 314.5 151.9 315.5 152.4 316.5 153.3 317.3 154.3 317.5 155.0 318.0 155.6 318.5 155.0 318.8 154.3 319.5 153.3 320.4 152.3 321.0 151.8 321.5 151.5 322.5 151.1 323.5 150.9 324.5 151.0 325.5 151.2 326.5 151.6 327.5 152.2 329.5 153.7 330.5 154.2 331.5 154.5 333.0 154.5 334.5 153.9 335.5 153.3 336.1 152.8 336.3 152.3 336.0 151.8 335.0 151.2 334.5 150.7 334.0 149.8 333.9 148.8 334.0 148.3 334.2 147.8 334.7 147.3 335.5 146.9 344.5 144.6 349.5 143.7 353.7 143.3 360.5 142.4 377.0 141.0 381.5 141.7 385.0 141.9 386.0 142.2 386.9 142.8 387.3 143.3 387.6 143.8 387.8 144.3 387.9 145.3 387.9 146.3 387.5 148.3 387.4 149.3 387.6 157.8 387.3 158.8 387.0 159.2 386.5 159.6 386.0 159.8 385.5 159.9 384.5 159.6 384.0 159.2 383.7 158.8 383.4 157.8 382.5 151.3 382.1 149.3 381.9 148.8 381.5 148.2 381.0 147.8 379.7 147.3 377.6 146.8 376.5 146.6 361.0 147.7 356.5 148.3 354.5 148.8 353.7 149.3 353.3 149.8 353.2 150.3 353.7 152.3 353.9 153.3 353.8 154.8 353.6 155.8 353.3 156.8 352.5 158.3 350.2 163.8 348.9 166.3 347.6 168.3 346.7 169.3 341.5 173.6 339.0 175.7 336.0 178.7 332.7 182.3 329.0 187.4 324.3 194.8 322.0 197.7 321.0 198.8 320.5 200.1 320.4 201.3 320.5 204.5 320.9 212.3 320.9 213.3 320.5 215.3 319.9 220.3 319.8 220.8 319.1 221.8 318.0 222.6Z" fill="#e3e3e3" stroke="#555" stroke-width="0.35"/>
<path d="M318.0 222.4 317.0 222.7 316.0 222.6 315.0 222.1 314.2 221.3 313.8 220.3 313.5 218.5 312.2 212.8 311.7 202.8 311.8 198.8 311.6 196.3 311.5 195.2 310.4 191.8 310.3 190.8 310.4 180.8 310.3 154.8 310.5 153.8 311.0 153.0 311.5 152.6 312.0 152.3 312.5 152.2 313.5 152.1 314.5 152.4 315.1 152.8 315.6 153.3 316.1 154.3 317.0 160.5 317.5 162.6 318.0 163.5 318.5 163.3 319.0 162.4 319.2 161.8 319.8 159.3 320.7 154.8 321.0 154.1 321.5 153.5 322.5 152.8 323.0 152.6 324.0 152.5 324.5 152.5 325.5 152.8 326.4 153.3 327.0 153.8 329.0 155.5 329.6 155.8 330.5 156.0 331.5 155.9 333.0 155.6 334.0 155.3 336.0 154.1 337.7 152.8 338.2 152.3 338.4 151.8 338.0 151.3 337.0 151.1 336.0 151.0 335.5 150.8 335.0 150.5 334.5 149.8 334.3 149.3 334.3 148.8 334.4 148.3 334.7 147.8 335.5 147.3 343.5 145.1 346.5 144.5 349.5 144.0 354.0 143.5 361.5 142.6 377.0 141.3 381.0 141.9 385.0 142.1 386.0 142.4 386.6 142.8 387.0 143.3 387.6 144.3 387.7 144.8 387.7 145.8 387.2 149.3 387.3 157.8 387.3 158.3 387.0 158.8 386.5 159.3 386.0 159.6 385.5 159.6 385.0 159.6 384.5 159.3 384.0 158.8 383.7 158.3 382.6 150.3 382.4 149.3 382.0 148.5 381.5 147.9 380.5 147.3 380.0 147.1 377.0 146.4 376.5 146.4 361.5 147.4 357.7 147.8 355.0 148.2 353.3 148.8 352.6 149.3 352.4 149.8 352.4 150.3 352.9 152.8 352.9 154.3 352.7 155.3 352.1 156.8 351.5 157.6 347.7 164.3 344.9 168.3 337.0 176.2 334.5 179.0 332.1 181.8 330.0 184.7 328.0 187.8 324.4 193.8 323.3 195.3 321.0 198.1 320.6 198.8 320.4 199.8 320.3 201.3 320.5 207.2 320.8 212.3 320.7 213.3 320.5 214.4 319.8 220.3 319.3 221.3 318.5 222.1 318.0 222.4Z" fill="#dbdbdb" stroke="#555" stroke-width="0.35"/>
<path d="M317.5 222.5 316.5 222.6 315.5 222.2 314.8 221.8 314.4 221.3 314.1 220.8 312.3 212.8 311.8 202.8 311.9 199.3 311.8 196.8 311.5 194.2 310.8 191.8 310.7 190.8 310.8 180.3 310.8 154.8 311.0 154.0 311.4 153.3 312.0 152.9 312.5 152.7 313.5 152.6 314.0 152.8 314.8 153.3 315.2 153.8 315.4 154.3 316.0 160.4 316.6 164.8 317.0 167.1 317.2 167.8 317.5 168.5 318.0 169.0 318.5 168.9 319.0 168.3 319.5 167.3 320.5 164.8 323.0 157.5 323.5 156.5 324.0 155.9 324.5 155.9 325.7 157.8 326.1 158.3 326.7 158.8 327.5 159.1 328.5 159.1 329.5 158.7 331.8 157.3 333.5 156.6 335.0 155.8 338.0 153.8 339.7 152.3 340.1 151.8 340.2 151.3 339.8 150.8 338.5 150.5 336.0 150.3 335.5 150.2 335.1 149.8 334.8 149.3 334.8 148.8 334.9 148.3 335.5 147.7 343.0 145.6 346.0 144.9 349.5 144.3 354.5 143.8 361.0 142.9 377.0 141.5 381.5 142.2 384.5 142.2 385.5 142.4 386.5 143.0 387.2 143.8 387.4 144.3 387.5 145.3 387.5 146.3 387.0 148.3 386.9 149.3 387.0 157.8 386.9 158.3 386.7 158.8 386.0 159.2 385.5 159.3 385.0 159.2 384.3 158.8 384.1 158.3 382.9 150.8 382.5 148.8 382.0 148.1 381.5 147.6 381.0 147.3 379.7 146.8 377.0 146.1 376.5 146.1 361.0 147.2 356.5 147.6 354.5 148.0 353.3 148.3 352.5 148.7 352.2 148.8 351.6 149.3 351.4 149.8 351.4 150.3 352.0 152.3 352.1 153.8 351.7 155.3 351.2 156.3 346.6 163.3 343.8 167.3 335.5 176.5 331.5 181.3 328.0 186.6 323.8 193.8 321.0 197.4 320.5 198.3 320.2 199.8 320.1 201.3 320.7 212.8 320.0 217.3 319.7 220.3 319.2 221.3 319.0 221.6 318.5 222.0 317.5 222.5Z" fill="#d2d2d2" stroke="#555" stroke-width="0.35"/>
<path d="M317.5 222.3 316.5 222.4 315.5 222.1 315.0 221.8 314.2 220.8 312.5 212.8 312.0 202.8 312.1 198.8 312.0 196.3 311.2 190.8 311.4 180.8 311.5 154.8 311.6 154.3 311.9 153.8 312.5 153.4 313.0 153.3 313.5 153.3 314.2 153.8 314.6 154.3 315.5 164.3 316.2 169.3 316.5 170.9 317.0 172.4 317.5 173.1 318.0 173.1 318.5 172.7 319.5 171.4 322.0 167.0 323.0 165.6 323.5 165.1 324.5 164.3 327.5 162.8 329.0 161.8 330.5 160.5 332.5 158.6 336.0 156.4 340.2 153.3 341.4 152.3 342.2 151.3 342.2 150.8 342.0 150.6 341.7 150.3 341.0 150.1 339.5 149.8 336.0 149.5 335.7 149.3 335.5 148.8 336.1 148.3 342.5 146.2 346.0 145.3 349.5 144.7 354.0 144.2 361.0 143.2 377.0 141.8 381.0 142.4 384.0 142.4 385.0 142.5 386.0 142.9 386.5 143.3 386.9 143.8 387.2 144.3 387.3 145.3 387.3 146.3 386.8 148.3 386.6 149.3 386.7 157.8 386.6 158.3 386.1 158.8 385.5 159.0 385.0 158.9 384.4 158.3 383.2 150.3 382.8 148.8 382.1 147.8 381.5 147.3 380.5 146.8 379.5 146.5 377.0 145.8 376.5 145.8 361.1 146.8 358.0 147.1 355.0 147.5 353.0 147.9 351.5 148.5 350.9 148.8 350.4 149.3 350.3 149.8 350.3 150.3 350.9 151.8 351.1 153.3 351.0 154.3 350.5 155.3 345.7 162.3 342.4 166.8 334.5 176.1 331.2 180.3 327.5 186.1 323.8 192.8 322.8 194.3 321.0 196.6 320.5 197.5 320.0 199.3 320.0 200.8 320.5 212.3 320.4 213.3 319.5 220.3 319.4 220.8 319.0 221.4 318.5 221.8 318.0 222.2 317.5 222.3Z" fill="#c8c8c8" stroke="#555" stroke-width="0.35"/>
<path d="M318.0 222.0 317.0 222.3 316.0 222.2 315.5 221.9 315.0 221.6 314.4 220.8 314.2 220.3 312.7 212.8 312.2 202.8 312.2 196.8 312.0 193.8 311.8 190.8 312.2 182.8 312.5 165.3 312.7 160.8 313.0 157.6 313.5 158.7 314.8 169.3 315.9 175.3 316.5 177.2 317.0 177.9 317.5 178.1 318.0 177.8 318.5 177.2 319.0 176.4 320.1 173.8 320.6 172.8 322.0 170.8 323.5 169.0 324.9 167.8 328.0 165.4 329.5 164.1 331.0 162.6 333.5 159.7 337.0 157.3 340.5 154.7 343.5 152.3 344.4 151.3 344.7 150.8 344.6 150.3 344.0 149.8 342.6 149.3 340.4 148.8 339.7 148.3 340.2 147.8 342.4 146.8 344.0 146.3 346.5 145.7 349.5 145.2 355.0 144.6 361.0 143.6 377.0 142.2 381.0 142.7 384.5 142.7 385.5 142.9 386.1 143.3 386.6 143.8 386.9 144.3 387.1 145.3 387.0 146.3 386.3 148.8 386.2 149.8 386.1 157.8 386.0 158.1 385.8 158.3 385.5 158.4 385.0 158.1 384.9 157.8 383.6 150.3 383.3 149.3 382.9 148.3 382.0 147.3 381.0 146.6 380.0 146.2 378.0 145.7 377.0 145.5 376.5 145.5 361.0 146.4 355.5 146.9 353.5 147.2 351.3 147.8 350.1 148.3 349.3 148.8 348.8 149.3 348.6 149.8 348.7 150.3 349.5 151.8 349.8 152.8 349.7 153.8 349.5 154.3 346.0 159.3 343.1 163.3 339.6 167.8 333.0 176.1 330.5 179.4 327.0 185.3 323.3 192.3 322.4 193.8 321.0 195.6 320.5 196.5 320.0 198.0 319.8 200.3 320.3 212.8 319.4 220.3 319.2 220.8 318.9 221.3 318.0 222.0Z" fill="#c0c0c0" stroke="#555" stroke-width="0.35"/>
<path d="M385.0 153.5 383.8 149.3 383.3 148.3 382.5 147.3 381.5 146.5 380.5 146.0 377.0 145.0 359.2 145.8 354.8 145.8 356.0 145.6 356.3 145.3 361.0 144.3 375.5 142.8 377.0 142.7 381.0 143.1 384.0 142.9 385.0 143.0 385.7 143.3 386.3 143.8 386.6 144.3 386.8 144.8 386.8 145.3 386.7 146.3 385.7 149.3 385.5 152.3 385.4 152.8 385.0 153.5ZM347.5 148.3 346.5 148.6 345.0 148.5 344.1 148.3 343.5 147.8 343.9 147.3 345.0 146.8 347.0 146.3 349.0 146.0 350.5 146.0 352.0 146.0 352.6 146.3 351.5 146.6 347.5 148.3ZM317.5 222.0 316.5 222.1 316.0 222.0 315.5 221.7 315.0 221.3 314.6 220.8 314.4 220.3 312.9 212.8 312.4 202.8 312.5 197.8 312.3 193.3 313.5 183.3 314.0 181.1 314.5 180.8 316.0 182.2 316.5 182.5 317.0 182.5 317.5 182.3 318.0 181.9 318.5 181.3 319.5 179.6 321.9 174.3 322.5 173.5 323.5 172.4 325.0 171.1 328.0 168.6 330.0 166.8 331.9 164.8 334.9 161.3 335.4 160.8 340.5 157.3 343.0 155.7 344.0 155.3 344.5 155.1 345.0 155.3 345.0 155.8 344.6 156.8 343.5 158.7 342.5 160.3 337.5 167.3 332.3 174.3 329.5 178.4 326.5 183.9 322.7 191.8 322.0 192.9 320.5 195.1 320.0 196.8 319.7 198.3 319.6 199.8 320.1 212.8 319.2 220.3 319.0 220.8 318.5 221.4 318.0 221.8 317.5 222.0Z" fill="#bcbcbc" stroke="#555" stroke-width="0.35"/>
<path d="M385.0 148.8 384.5 148.8 382.5 146.8 381.0 145.6 380.0 145.1 377.7 144.3 377.5 144.1 376.8 143.8 378.0 143.7 381.0 143.7 384.0 143.2 385.0 143.3 385.5 143.5 385.8 143.8 386.3 144.3 386.5 144.8 386.5 145.8 386.2 146.8 386.0 147.4 385.5 148.3 385.0 148.8ZM317.0 221.9 316.3 221.8 315.5 221.5 315.0 221.0 314.6 220.3 313.2 213.3 312.6 202.8 312.8 198.3 312.6 193.8 312.7 192.8 313.2 191.3 314.0 189.8 314.5 188.4 314.9 187.8 315.5 187.2 317.5 186.1 318.5 185.0 319.7 183.3 323.0 177.5 324.5 175.4 326.0 174.5 327.0 174.2 327.5 174.3 328.0 174.8 328.0 175.3 327.5 177.0 322.0 190.8 321.5 191.8 320.5 193.4 320.0 194.8 319.5 197.3 319.3 199.8 319.9 212.8 319.0 220.3 318.7 220.8 318.3 221.3 317.5 221.8 317.0 221.9Z" fill="#c4c4c4" stroke="#555" stroke-width="0.35"/>
<path d="M384.5 147.9 384.0 147.6 383.5 147.2 381.6 145.3 381.3 144.8 381.6 144.3 382.8 143.8 384.0 143.6 385.0 143.7 385.5 143.9 385.9 144.3 386.1 144.8 386.2 145.3 386.0 146.4 385.5 147.3 385.0 147.8 384.5 147.9ZM317.5 221.4 317.0 221.6 316.5 221.5 316.0 221.4 315.5 221.1 315.0 220.4 313.5 213.3 312.9 202.8 313.1 197.8 312.9 193.8 313.0 193.1 313.3 192.3 314.0 191.2 314.5 190.8 315.0 190.4 316.0 190.1 317.4 189.8 319.5 188.8 320.0 188.9 320.2 189.8 320.1 190.8 319.7 192.3 319.6 193.8 319.0 199.3 319.6 212.8 318.6 220.3 318.4 220.8 318.0 221.2 317.5 221.4Z" fill="#d4d4d4" stroke="#555" stroke-width="0.35"/>
<path d="M385.0 147.0 384.5 147.1 384.0 146.9 382.8 145.8 382.5 145.3 382.5 144.8 383.0 144.3 383.5 144.1 384.5 144.0 385.0 144.1 385.5 144.5 385.7 144.8 385.8 145.3 385.7 145.8 385.5 146.4 385.0 147.0ZM317.5 220.9 317.0 221.0 316.5 221.0 315.9 220.8 315.5 220.3 313.8 212.8 313.5 206.7 313.3 202.3 313.6 197.8 313.4 193.8 313.4 193.3 313.8 192.3 314.5 191.5 315.0 191.2 316.0 191.0 317.0 191.1 317.5 191.2 318.3 191.8 318.7 192.3 318.9 192.8 319.1 193.8 318.5 199.8 319.2 212.8 318.2 219.8 318.0 220.4 317.5 220.9Z" fill="#e6e6e6" stroke="#555" stroke-width="0.35"/>
<path d="M384.5 146.3 384.0 146.1 383.7 145.8 383.4 145.3 383.5 144.8 384.0 144.6 384.5 144.5 385.0 144.7 385.3 145.3 385.2 145.8 385.0 146.1 384.5 146.3ZM316.5 216.8 316.0 216.7 315.5 216.2 315.0 215.0 314.5 213.3 313.9 202.8 313.9 202.3 314.4 200.3 314.6 198.8 314.6 197.8 314.3 195.3 314.0 193.8 314.0 193.3 314.5 192.3 315.2 191.8 316.0 191.6 317.0 191.7 317.8 192.3 318.2 192.8 318.5 193.8 318.4 195.8 317.8 199.8 317.9 200.8 318.2 202.3 318.6 212.8 318.0 215.6 317.5 216.6 317.0 216.8 316.5 216.8Z" fill="#f6f6f6" stroke="#555" stroke-width="0.35"/>
<path d="M359.1 159.1h.7v.7h-.7zM377.5 155.8h.7v.7h-.7zM371.0 168.2h.7v.7h-.7zM344.2 174.1h.7v.7h-.7zM343.1 171.0h.7v.7h-.7zM344.9 156.6h.7v.7h-.7zM364.8 187.5h.7v.7h-.7zM347.9 162.2h.7v.7h-.7zM376.1 192.6h.7v.7h-.7zM373.3 169.5h.7v.7h-.7zM395.7 154.8h.7v.7h-.7zM389.1 165.0h.7v.7h-.7zM349.1 157.7h.7v.7h-.7zM358.3 187.1h.7v.7h-.7zM351.1 177.2h.7v.7h-.7zM376.8 168.4h.7v.7h-.7zM371.7 155.4h.7v.7h-.7zM344.3 161.5h.7v.7h-.7zM379.1 170.8h.7v.7h-.7zM358.6 177.4h.7v.7h-.7zM366.4 165.4h.7v.7h-.7zM385.5 182.2h.7v.7h-.7zM354.7 176.9h.7v.7h-.7zM370.4 189.6h.7v.7h-.7zM381.8 164.9h.7v.7h-.7zM395.9 157.8h.7v.7h-.7zM364.4 184.6h.7v.7h-.7zM349.5 173.3h.7v.7h-.7zM343.2 180.9h.7v.7h-.7zM383.8 176.9h.7v.7h-.7zM390.0 166.0h.7v.7h-.7zM379.9 177.8h.7v.7h-.7zM373.5 172.0h.7v.7h-.7zM388.0 192.5h.7v.7h-.7zM367.5 180.7h.7v.7h-.7zM344.4 182.3h.7v.7h-.7zM377.2 194.5h.7v.7h-.7zM387.0 164.8h.7v.7h-.7zM362.6 180.9h.7v.7h-.7zM342.3 172.2h.7v.7h-.7zM350.4 157.7h.7v.7h-.7zM344.3 185.1h.7v.7h-.7zM348.2 163.2h.7v.7h-.7zM362.9 189.4h.7v.7h-.7zM345.5 171.7h.7v.7h-.7zM371.8 189.9h.7v.7h-.7zM386.9 189.1h.7v.7h-.7zM356.6 170.2h.7v.7h-.7zM361.1 189.9h.7v.7h-.7zM394.6 159.1h.7v.7h-.7zM350.9 162.5h.7v.7h-.7zM354.1 173.2h.7v.7h-.7zM374.0 163.8h.7v.7h-.7zM341.2 170.4h.7v.7h-.7zM361.7 176.6h.7v.7h-.7zM394.4 181.8h.7v.7h-.7zM369.9 178.7h.7v.7h-.7zM378.9 155.1h.7v.7h-.7zM391.4 185.6h.7v.7h-.7zM390.0 186.3h.7v.7h-.7zM363.0 169.6h.7v.7h-.7zM346.8 179.4h.7v.7h-.7zM344.5 155.6h.7v.7h-.7zM352.7 159.6h.7v.7h-.7zM360.0 155.0h.7v.7h-.7zM341.0 159.2h.7v.7h-.7zM346.7 168.1h.7v.7h-.7zM342.4 189.5h.7v.7h-.7zM375.4 159.0h.7v.7h-.7zM355.1 167.4h.7v.7h-.7zM361.4 158.0h.7v.7h-.7zM388.5 194.5h.7v.7h-.7zM367.1 173.1h.7v.7h-.7zM345.8 157.1h.7v.7h-.7zM360.2 163.9h.7v.7h-.7zM387.4 159.6h.7v.7h-.7zM342.3 192.7h.7v.7h-.7zM370.6 159.0h.7v.7h-.7zM371.4 153.9h.7v.7h-.7zM370.6 193.9h.7v.7h-.7zM389.3 182.0h.7v.7h-.7zM355.6 168.2h.7v.7h-.7zM350.4 185.2h.7v.7h-.7zM370.8 185.5h.7v.7h-.7zM359.5 162.2h.7v.7h-.7zM386.4 194.2h.7v.7h-.7zM388.7 186.7h.7v.7h-.7zM386.8 183.9h.7v.7h-.7zM353.7 174.5h.7v.7h-.7zM360.9 154.0h.7v.7h-.7zM342.6 164.5h.7v.7h-.7zM355.5 181.9h.7v.7h-.7zM394.6 171.6h.7v.7h-.7zM393.5 194.3h.7v.7h-.7zM394.5 168.1h.7v.7h-.7zM353.3 162.3h.7v.7h-.7zM352.0 161.4h.7v.7h-.7zM375.9 190.6h.7v.7h-.7zM388.1 172.9h.7v.7h-.7zM377.6 186.4h.7v.7h-.7zM345.7 180.5h.7v.7h-.7zM391.9 185.7h.7v.7h-.7zM383.0 172.9h.7v.7h-.7zM351.0 185.9h.7v.7h-.7zM359.6 186.4h.7v.7h-.7zM395.4 169.4h.7v.7h-.7zM363.5 192.6h.7v.7h-.7zM381.6 159.9h.7v.7h-.7zM348.1 159.1h.7v.7h-.7zM391.7 186.7h.7v.7h-.7zM349.2 187.5h.7v.7h-.7zM395.9 180.4h.7v.7h-.7zM360.6 175.8h.7v.7h-.7zM348.3 153.4h.7v.7h-.7zM395.4 180.1h.7v.7h-.7zM370.5 192.0h.7v.7h-.7zM365.3 189.4h.7v.7h-.7zM387.3 161.7h.7v.7h-.7zM355.1 165.1h.7v.7h-.7zM354.5 177.4h.7v.7h-.7zM355.5 170.4h.7v.7h-.7zM348.3 191.0h.7v.7h-.7zM360.8 172.0h.7v.7h-.7zM373.7 190.8h.7v.7h-.7zM364.6 191.3h.7v.7h-.7zM369.1 175.1h.7v.7h-.7zM370.3 153.6h.7v.7h-.7zM365.6 160.5h.7v.7h-.7zM341.2 186.4h.7v.7h-.7zM350.7 172.7h.7v.7h-.7zM381.6 176.2h.7v.7h-.7zM359.3 174.6h.7v.7h-.7zM372.1 185.7h.7v.7h-.7zM346.9 176.3h.7v.7h-.7zM354.9 164.4h.7v.7h-.7zM384.2 174.1h.7v.7h-.7zM372.5 184.7h.7v.7h-.7zM392.1 171.4h.7v.7h-.7zM375.3 174.0h.7v.7h-.7zM369.7 181.9h.7v.7h-.7zM366.3 175.2h.7v.7h-.7zM367.8 192.3h.7v.7h-.7zM380.2 189.6h.7v.7h-.7zM393.8 163.7h.7v.7h-.7zM372.3 192.4h.7v.7h-.7zM388.0 158.6h.7v.7h-.7zM347.8 171.4h.7v.7h-.7zM345.1 162.9h.7v.7h-.7zM345.1 180.9h.7v.7h-.7zM384.9 190.5h.7v.7h-.7zM349.6 182.9h.7v.7h-.7zM378.0 158.8h.7v.7h-.7zM390.4 193.4h.7v.7h-.7zM353.3 192.8h.7v.7h-.7zM363.3 173.3h.7v.7h-.7zM396.4 187.8h.7v.7h-.7zM350.0 170.9h.7v.7h-.7zM369.9 167.0h.7v.7h-.7zM352.0 166.2h.7v.7h-.7zM381.4 153.6h.7v.7h-.7zM372.0 171.3h.7v.7h-.7zM342.0 166.7h.7v.7h-.7zM375.9 174.3h.7v.7h-.7zM344.6 194.2h.7v.7h-.7zM385.1 193.6h.7v.7h-.7zM346.9 164.0h.7v.7h-.7zM343.2 185.5h.7v.7h-.7zM356.1 158.2h.7v.7h-.7zM364.6 191.1h.7v.7h-.7zM386.9 163.7h.7v.7h-.7zM349.4 191.4h.7v.7h-.7zM373.0 182.2h.7v.7h-.7zM346.0 155.2h.7v.7h-.7zM379.5 170.7h.7v.7h-.7zM345.1 192.2h.7v.7h-.7zM376.5 186.5h.7v.7h-.7zM345.7 188.8h.7v.7h-.7zM344.7 189.0h.7v.7h-.7zM366.4 167.0h.7v.7h-.7zM372.0 191.7h.7v.7h-.7zM356.0 158.2h.7v.7h-.7zM370.5 162.8h.7v.7h-.7zM347.1 159.6h.7v.7h-.7zM343.8 161.3h.7v.7h-.7zM358.5 165.6h.7v.7h-.7zM383.5 165.0h.7v.7h-.7zM369.0 160.3h.7v.7h-.7zM360.4 153.6h.7v.7h-.7zM355.0 153.4h.7v.7h-.7zM382.1 175.9h.7v.7h-.7zM351.6 172.7h.7v.7h-.7zM393.3 157.3h.7v.7h-.7zM386.9 171.0h.7v.7h-.7zM368.7 187.9h.7v.7h-.7zM363.0 174.1h.7v.7h-.7zM379.5 194.1h.7v.7h-.7zM360.2 187.8h.7v.7h-.7zM380.6 179.5h.7v.7h-.7zM363.7 167.4h.7v.7h-.7zM344.0 158.3h.7v.7h-.7zM345.0 183.9h.7v.7h-.7zM355.3 159.7h.7v.7h-.7zM345.7 188.1h.7v.7h-.7zM389.8 181.0h.7v.7h-.7zM356.8 163.0h.7v.7h-.7zM357.4 172.1h.7v.7h-.7zM349.8 171.5h.7v.7h-.7zM355.7 193.2h.7v.7h-.7zM395.5 175.8h.7v.7h-.7zM354.7 193.4h.7v.7h-.7zM358.3 167.8h.7v.7h-.7zM341.1 168.8h.7v.7h-.7zM367.6 173.9h.7v.7h-.7zM352.3 174.0h.7v.7h-.7zM341.3 163.9h.7v.7h-.7zM346.0 169.6h.7v.7h-.7zM343.3 153.7h.7v.7h-.7zM358.0 162.6h.7v.7h-.7zM373.8 175.0h.7v.7h-.7zM383.0 180.4h.7v.7h-.7zM381.1 189.7h.7v.7h-.7zM362.8 166.5h.7v.7h-.7zM396.1 159.1h.7v.7h-.7zM381.6 179.8h.7v.7h-.7zM343.5 187.9h.7v.7h-.7zM390.9 179.1h.7v.7h-.7zM382.1 186.9h.7v.7h-.7zM348.8 174.8h.7v.7h-.7zM369.2 187.9h.7v.7h-.7zM386.1 187.5h.7v.7h-.7zM373.7 190.3h.7v.7h-.7zM379.2 181.9h.7v.7h-.7zM353.9 154.1h.7v.7h-.7zM348.5 167.9h.7v.7h-.7zM346.9 187.9h.7v.7h-.7zM372.3 179.2h.7v.7h-.7zM376.1 181.4h.7v.7h-.7zM368.4 152.9h.7v.7h-.7zM385.7 184.2h.7v.7h-.7zM369.2 175.3h.7v.7h-.7zM375.9 196.6h.7v.7h-.7zM380.7 201.9h.7v.7h-.7zM339.6 202.2h.7v.7h-.7zM380.2 200.5h.7v.7h-.7zM380.9 222.1h.7v.7h-.7zM365.6 205.5h.7v.7h-.7zM364.7 213.9h.7v.7h-.7zM382.6 212.1h.7v.7h-.7zM374.9 197.0h.7v.7h-.7zM344.1 201.9h.7v.7h-.7zM381.1 203.3h.7v.7h-.7zM370.2 195.1h.7v.7h-.7zM338.8 202.3h.7v.7h-.7zM376.7 214.2h.7v.7h-.7zM376.9 202.9h.7v.7h-.7zM319.5 207.8h.7v.7h-.7zM318.1 198.1h.7v.7h-.7zM330.0 200.4h.7v.7h-.7zM332.4 221.0h.7v.7h-.7zM305.5 207.7h.7v.7h-.7zM328.0 221.9h.7v.7h-.7zM317.6 202.3h.7v.7h-.7zM310.9 221.3h.7v.7h-.7zM310.9 211.1h.7v.7h-.7zM309.0 209.5h.7v.7h-.7zM331.7 198.5h.7v.7h-.7zM328.0 209.0h.7v.7h-.7zM329.8 214.5h.7v.7h-.7zM311.5 219.9h.7v.7h-.7zM318.6 195.5h.7v.7h-.7zM305.1 208.6h.7v.7h-.7zM317.6 203.3h.7v.7h-.7zM308.9 204.4h.7v.7h-.7zM313.9 218.3h.7v.7h-.7zM305.0 215.8h.7v.7h-.7zM328.5 198.2h.7v.7h-.7zM330.9 214.8h.7v.7h-.7zM330.2 202.9h.7v.7h-.7zM315.4 205.8h.7v.7h-.7zM333.0 211.3h.7v.7h-.7zM317.7 160.8h.7v.7h-.7zM315.4 147.5h.7v.7h-.7zM310.7 175.0h.7v.7h-.7zM315.7 178.5h.7v.7h-.7zM314.7 155.1h.7v.7h-.7zM321.8 152.4h.7v.7h-.7zM318.1 179.3h.7v.7h-.7zM331.9 174.2h.7v.7h-.7zM325.0 177.8h.7v.7h-.7zM333.4 165.0h.7v.7h-.7zM327.4 147.5h.7v.7h-.7zM327.8 161.6h.7v.7h-.7zM328.3 168.4h.7v.7h-.7zM315.7 147.5h.7v.7h-.7zM333.0 150.3h.7v.7h-.7zM320.7 157.8h.7v.7h-.7zM316.0 171.7h.7v.7h-.7zM334.4 154.9h.7v.7h-.7zM325.7 156.3h.7v.7h-.7zM323.0 159.6h.7v.7h-.7zM312.5 151.5h.7v.7h-.7zM313.6 177.5h.7v.7h-.7zM321.4 153.5h.7v.7h-.7zM332.5 180.7h.7v.7h-.7zM320.1 150.7h.7v.7h-.7zM313.2 149.0h.7v.7h-.7zM317.2 149.0h.7v.7h-.7zM314.5 154.8h.7v.7h-.7zM323.4 176.9h.7v.7h-.7zM328.2 160.2h.7v.7h-.7zM319.2 164.1h.7v.7h-.7zM318.2 157.6h.7v.7h-.7zM309.7 155.5h.7v.7h-.7zM334.1 150.2h.7v.7h-.7zM321.6 167.8h.7v.7h-.7zM331.3 153.4h.7v.7h-.7zM315.3 154.5h.7v.7h-.7zM318.8 161.4h.7v.7h-.7zM333.8 175.5h.7v.7h-.7zM331.6 146.6h.7v.7h-.7zM308.9 170.6h.7v.7h-.7zM332.2 162.4h.7v.7h-.7zM323.9 145.8h.7v.7h-.7zM318.6 178.2h.7v.7h-.7zM330.3 175.7h.7v.7h-.7zM334.3 154.5h.7v.7h-.7zM310.9 151.2h.7v.7h-.7zM322.1 169.7h.7v.7h-.7zM333.4 171.1h.7v.7h-.7zM325.5 172.6h.7v.7h-.7zM366.0 168.6h.7v.7h-.7zM383.4 168.3h.7v.7h-.7zM375.4 165.7h.7v.7h-.7zM353.5 170.2h.7v.7h-.7zM354.2 179.7h.7v.7h-.7zM371.1 167.3h.7v.7h-.7zM376.8 165.4h.7v.7h-.7zM372.0 167.5h.7v.7h-.7zM384.9 158.2h.7v.7h-.7zM362.2 173.0h.7v.7h-.7zM363.8 173.4h.7v.7h-.7zM375.0 164.6h.7v.7h-.7zM379.3 162.3h.7v.7h-.7zM344.7 183.0h.7v.7h-.7zM379.8 169.0h.7v.7h-.7zM378.1 161.5h.7v.7h-.7zM389.1 161.6h.7v.7h-.7zM357.1 180.6h.7v.7h-.7zM363.1 171.9h.7v.7h-.7zM354.6 179.5h.7v.7h-.7zM378.8 162.9h.7v.7h-.7zM366.1 179.8h.7v.7h-.7zM353.0 177.5h.7v.7h-.7zM369.7 166.2h.7v.7h-.7zM388.3 161.6h.7v.7h-.7zM364.0 179.8h.7v.7h-.7zM385.9 162.4h.7v.7h-.7zM361.0 173.2h.7v.7h-.7zM356.0 176.5h.7v.7h-.7zM363.6 171.2h.7v.7h-.7zM392.2 158.9h.7v.7h-.7zM386.1 156.1h.7v.7h-.7zM344.0 180.1h.7v.7h-.7zM390.3 160.0h.7v.7h-.7zM391.6 158.2h.7v.7h-.7zM384.1 158.7h.7v.7h-.7zM353.9 182.9h.7v.7h-.7zM357.2 166.6h.7v.7h-.7zM360.0 180.7h.7v.7h-.7zM374.2 170.3h.7v.7h-.7zM360.1 172.9h.7v.7h-.7zM385.6 158.7h.7v.7h-.7zM392.8 156.7h.7v.7h-.7zM376.2 166.1h.7v.7h-.7zM363.5 174.5h.7v.7h-.7zM370.7 167.0h.7v.7h-.7zM383.1 153.4h.7v.7h-.7zM379.7 158.8h.7v.7h-.7zM356.4 177.2h.7v.7h-.7zM350.7 184.3h.7v.7h-.7zM357.7 174.7h.7v.7h-.7zM367.0 175.1h.7v.7h-.7zM390.1 157.6h.7v.7h-.7zM352.4 181.0h.7v.7h-.7zM376.7 163.2h.7v.7h-.7zM361.2 166.4h.7v.7h-.7zM383.9 157.1h.7v.7h-.7zM352.4 175.2h.7v.7h-.7zM368.2 170.2h.7v.7h-.7zM354.6 178.2h.7v.7h-.7zM355.8 173.8h.7v.7h-.7zM352.0 179.0h.7v.7h-.7zM370.1 173.9h.7v.7h-.7zM378.0 163.7h.7v.7h-.7zM370.6 162.4h.7v.7h-.7zM391.7 157.8h.7v.7h-.7zM354.2 186.4h.7v.7h-.7zM376.1 164.2h.7v.7h-.7zM384.0 159.1h.7v.7h-.7zM383.9 160.0h.7v.7h-.7zM371.8 163.6h.7v.7h-.7zM364.2 173.0h.7v.7h-.7zM353.1 171.2h.7v.7h-.7zM357.9 175.7h.7v.7h-.7zM378.8 165.9h.7v.7h-.7zM356.0 171.3h.7v.7h-.7zM350.9 181.2h.7v.7h-.7zM370.4 165.3h.7v.7h-.7zM351.6 173.2h.7v.7h-.7zM355.5 181.5h.7v.7h-.7z" fill="#666"/>
<g transform="translate(305 130.8)"><path d="M7.1000000000000005 59.8 Q7.300000000000001 74.8 7.9 85.8 Q8.4 89.8 11.7 89.8 Q15.2 89.8 15.5 85.8 L15.8 67.8" stroke="#333" stroke-width="1.7" fill="none" opacity="0.85"/><path d="M7.6000000000000005 24 Q6.9 41.9 7.1000000000000005 60.3" stroke="#666" stroke-width="1.3" fill="none" opacity="0.8"/></g>
</g>
<g clip-path="url(#cp7)">
<path d="M422.0 222.0 421.5 222.2 420.5 222.2 419.5 222.0 418.5 221.4 418.0 220.9 417.2 219.8 417.1 219.3 417.0 218.3 416.8 217.8 416.5 216.3 416.2 215.3 416.0 214.3 415.6 213.3 415.3 211.8 415.0 205.0 414.7 201.8 414.7 199.3 414.5 197.4 414.0 196.3 412.2 193.3 411.6 191.8 411.2 190.3 411.4 150.8 411.5 149.8 411.8 148.8 412.3 147.8 412.7 147.3 413.5 146.4 415.0 145.5 416.5 145.0 418.5 144.7 419.5 144.4 420.0 144.2 422.0 143.0 423.5 142.3 425.0 141.8 426.5 141.5 428.5 141.4 430.0 141.6 431.5 142.0 434.0 143.1 435.0 143.2 435.5 143.2 437.5 142.4 439.0 142.0 441.8 141.8 448.0 141.0 452.5 140.5 458.8 140.3 464.5 139.9 480.5 137.9 485.0 138.0 488.5 137.9 490.0 138.0 491.5 138.5 492.5 139.0 493.0 139.4 493.9 140.3 494.6 141.3 494.8 141.8 495.1 142.8 495.3 143.8 495.5 147.6 496.0 150.1 496.2 150.8 496.3 151.8 496.2 152.8 496.1 153.3 495.9 153.8 495.1 154.8 494.0 155.7 493.0 156.0 492.5 156.1 491.0 156.0 490.0 155.7 489.0 154.9 488.5 154.3 487.5 152.6 486.5 151.2 486.0 150.8 485.5 150.5 484.5 150.2 481.0 149.9 478.8 150.3 476.4 150.8 474.7 151.3 473.7 151.8 473.1 152.3 473.0 152.8 473.8 156.3 473.9 157.3 473.9 158.8 473.5 161.3 472.8 163.8 471.7 166.3 469.9 169.3 467.7 172.3 465.5 174.7 463.0 177.1 460.5 179.0 457.5 181.0 454.5 182.6 452.0 183.6 449.5 184.4 447.5 184.9 443.5 185.6 442.5 185.9 438.5 187.5 437.0 188.7 435.0 190.6 428.0 198.6 427.0 199.5 426.0 200.2 425.5 200.8 425.4 202.8 425.5 207.8 425.8 211.3 425.7 212.3 425.5 212.7 425.3 214.3 425.0 215.4 424.8 217.3 424.4 219.8 423.8 220.8 423.5 221.1 423.0 221.5 422.0 222.0Z" fill="#fcfcfc" stroke="#555" stroke-width="0.35"/>
<path d="M421.5 222.0 420.5 222.1 419.0 221.6 418.5 221.2 417.7 220.3 417.2 219.3 417.0 217.6 416.7 216.8 416.0 213.6 415.7 212.8 415.6 212.3 415.1 204.8 415.0 198.2 414.9 197.3 414.5 195.8 413.3 193.8 412.5 192.3 412.2 191.3 412.0 190.3 412.1 150.8 412.3 149.3 412.8 148.3 413.1 147.8 414.0 146.9 414.5 146.6 415.5 146.1 417.0 145.8 419.5 145.8 420.5 145.6 421.3 145.3 423.5 144.1 424.5 143.6 426.0 143.2 427.0 143.1 428.5 143.1 430.0 143.3 431.5 143.8 433.5 144.7 434.0 144.9 434.5 144.9 435.0 144.8 437.0 143.5 438.0 143.0 439.5 142.7 443.4 142.3 450.0 141.4 464.5 140.6 480.5 138.5 485.0 138.6 489.5 138.5 490.5 138.7 491.5 139.0 492.5 139.7 493.0 140.1 493.6 140.8 494.3 141.8 494.7 143.3 494.9 144.3 495.0 147.7 495.5 150.2 495.8 151.3 495.8 152.3 495.7 152.8 495.3 153.8 494.5 154.7 494.0 155.1 493.5 155.3 492.5 155.6 491.5 155.6 490.5 155.3 490.0 155.1 489.1 154.3 488.7 153.8 487.5 151.7 487.0 151.0 486.3 150.3 485.5 149.8 485.0 149.7 482.1 149.3 480.6 149.3 474.1 150.3 471.6 150.8 469.6 151.3 468.0 151.8 467.1 152.3 466.8 152.8 467.0 153.3 468.6 155.3 469.2 156.3 469.6 157.3 469.8 158.3 469.9 159.3 469.8 161.3 469.2 163.8 468.1 166.3 467.3 167.8 466.3 169.3 464.4 171.8 462.5 173.8 460.5 175.5 458.5 177.0 456.0 178.6 454.0 179.6 451.5 180.5 449.5 181.1 445.0 182.1 443.0 182.8 441.1 183.8 438.0 185.9 436.5 187.3 434.5 189.4 430.2 194.8 427.5 197.9 425.5 199.7 425.2 200.8 425.1 202.3 425.5 211.8 425.0 214.2 424.8 216.3 424.5 217.4 424.4 219.3 423.9 220.3 423.0 221.3 422.5 221.6 421.5 222.0Z" fill="#f9f9f9" stroke="#555" stroke-width="0.35"/>
<path d="M421.0 221.9 420.5 221.9 419.5 221.7 418.5 221.0 417.9 220.3 417.6 219.8 417.3 218.8 417.0 217.1 416.0 213.1 415.7 212.3 415.7 211.8 415.5 207.5 415.2 201.8 415.1 198.3 415.0 196.2 414.5 194.7 413.1 192.3 412.7 191.3 412.5 190.3 412.6 150.8 412.7 149.8 412.8 149.3 413.4 148.3 413.8 147.8 414.5 147.2 415.0 146.9 415.5 146.6 416.5 146.4 418.0 146.3 420.5 146.7 421.5 146.6 424.5 145.0 425.5 144.6 426.5 144.4 428.5 144.3 430.0 144.6 431.5 145.1 433.5 146.2 434.0 146.4 434.5 146.4 435.0 146.2 436.4 144.8 437.5 143.9 438.5 143.5 439.5 143.2 450.0 141.9 464.5 141.0 480.5 138.9 485.0 139.0 489.5 138.9 490.5 139.1 491.0 139.3 491.5 139.5 492.5 140.1 493.5 141.3 493.8 141.8 494.2 142.8 494.5 144.3 494.7 147.8 495.0 149.6 495.3 150.8 495.5 151.8 495.3 152.8 494.8 153.8 494.0 154.6 493.0 155.1 492.5 155.2 491.5 155.2 491.0 155.1 490.0 154.6 489.2 153.8 488.0 151.8 487.3 150.8 486.9 150.3 486.0 149.6 485.2 149.3 484.5 149.1 481.5 148.8 480.8 148.8 473.6 149.8 465.5 151.2 464.0 151.4 462.4 151.8 461.8 152.3 461.7 152.8 462.0 153.8 463.0 155.1 464.3 156.3 465.2 157.3 465.9 158.3 466.4 159.8 466.5 161.3 466.2 163.3 465.6 165.3 464.6 167.3 463.0 169.7 461.2 171.8 459.0 173.8 456.5 175.5 454.5 176.6 452.5 177.5 450.5 178.2 446.5 179.2 444.5 179.9 442.5 181.0 440.5 182.4 437.5 184.9 436.0 186.5 433.5 189.4 429.4 194.8 427.0 197.6 425.5 198.9 425.0 199.8 424.9 201.3 425.0 205.3 425.3 211.8 425.0 213.2 424.8 215.3 424.5 216.6 424.3 218.8 424.2 219.3 423.8 220.3 423.0 221.1 422.0 221.7 421.0 221.9Z" fill="#f5f5f5" stroke="#555" stroke-width="0.35"/>
<path d="M422.0 221.6 421.5 221.7 420.5 221.8 419.5 221.5 418.5 220.8 417.7 219.8 417.6 219.3 416.5 214.4 415.8 211.8 415.3 201.3 415.3 197.8 415.1 195.3 414.5 193.8 413.4 191.8 413.0 190.3 413.0 150.8 413.1 149.8 413.3 149.3 413.9 148.3 414.5 147.7 415.5 147.1 416.0 146.9 417.0 146.8 418.5 146.9 421.0 147.8 421.5 147.8 422.0 147.7 425.0 146.0 426.5 145.6 428.0 145.5 429.5 145.7 430.5 146.0 432.0 146.8 434.0 148.2 434.5 148.4 435.0 148.4 435.5 147.6 436.1 146.3 436.7 145.3 437.2 144.8 437.9 144.3 439.0 143.8 450.0 142.4 453.5 142.1 459.4 141.8 464.5 141.4 480.5 139.3 485.0 139.4 488.0 139.2 489.5 139.2 491.0 139.6 492.0 140.2 492.5 140.6 493.5 141.8 493.9 142.8 494.2 144.3 494.4 148.3 495.1 151.3 495.2 151.8 495.0 152.8 494.5 153.7 493.9 154.3 493.0 154.8 492.5 154.9 491.5 154.9 490.5 154.6 490.0 154.2 489.2 153.3 488.5 152.0 487.5 150.5 486.9 149.8 486.2 149.3 484.8 148.8 481.5 148.4 481.0 148.4 477.6 148.8 465.5 150.5 462.3 150.8 460.7 151.3 460.2 151.8 460.0 152.3 460.0 153.3 460.5 156.0 461.0 157.6 462.6 160.8 462.9 162.3 462.9 163.3 462.7 164.3 462.4 165.3 461.7 166.8 460.5 168.7 459.2 170.3 457.5 171.8 456.0 172.9 454.5 173.8 453.0 174.5 447.5 176.5 445.5 177.4 443.0 178.9 440.5 180.9 437.0 184.2 435.5 185.9 433.0 188.9 429.1 194.3 426.5 197.3 425.5 198.2 425.1 198.8 424.8 199.8 424.8 201.8 425.2 211.8 424.5 215.7 424.2 218.8 423.9 219.8 423.6 220.3 423.0 221.0 422.0 221.6Z" fill="#f0f0f0" stroke="#555" stroke-width="0.35"/>
<path d="M422.0 221.5 421.5 221.6 420.5 221.7 419.5 221.4 419.0 221.1 418.1 220.3 417.6 219.3 417.5 218.3 416.5 213.9 416.2 212.8 416.0 211.8 415.5 201.3 415.5 197.8 415.3 195.8 415.0 194.1 413.7 191.3 413.4 189.8 413.4 150.8 413.6 149.8 413.8 149.3 414.5 148.3 415.1 147.8 416.0 147.4 417.0 147.2 417.5 147.2 419.0 147.6 421.5 149.0 422.0 149.1 422.5 149.0 424.5 147.6 426.0 146.9 427.5 146.6 429.0 146.8 430.5 147.2 432.0 148.2 433.1 149.3 435.0 151.9 435.5 152.4 436.0 152.8 436.5 153.0 437.0 153.0 437.5 152.8 438.0 152.5 438.2 152.3 438.4 151.8 438.1 151.3 437.2 150.3 436.6 149.3 436.4 148.3 436.3 147.8 436.5 146.8 437.0 145.8 437.5 145.2 438.5 144.5 439.5 144.2 451.0 142.7 464.5 141.8 480.5 139.6 484.5 139.7 488.0 139.5 489.5 139.5 491.0 139.9 492.0 140.5 492.8 141.3 493.1 141.8 493.4 142.3 493.7 143.3 493.9 144.8 494.0 147.8 494.8 151.8 494.7 152.8 494.4 153.3 494.0 153.8 493.5 154.2 493.0 154.5 492.5 154.6 491.5 154.6 490.5 154.2 490.0 153.8 489.6 153.3 488.1 150.8 487.0 149.5 486.0 148.9 485.5 148.7 484.0 148.3 483.0 148.2 481.0 148.0 465.5 150.0 461.7 150.3 460.0 150.7 459.3 151.3 459.0 151.8 458.9 152.3 458.9 155.3 458.8 156.8 458.1 159.8 458.1 160.8 458.4 163.8 458.3 164.8 457.9 166.3 457.0 167.8 455.7 169.3 453.9 170.8 452.2 171.8 448.0 173.9 446.0 175.1 443.0 177.3 440.5 179.5 437.0 183.0 435.5 184.8 432.5 188.6 428.9 193.8 426.4 196.8 425.0 198.2 424.7 199.3 424.6 200.3 425.0 211.3 425.0 212.3 424.5 214.9 424.0 218.8 423.8 219.8 423.0 220.8 422.0 221.5Z" fill="#eaeaea" stroke="#555" stroke-width="0.35"/>
<path d="M422.0 221.3 421.5 221.5 421.0 221.6 420.0 221.5 419.5 221.3 419.0 221.0 418.3 220.3 417.7 219.3 417.5 217.8 416.1 211.8 415.6 201.8 415.6 197.8 415.5 195.3 415.0 193.2 414.1 191.3 413.8 189.8 413.9 179.3 413.9 150.8 414.0 149.8 414.6 148.8 415.5 148.1 416.5 147.7 417.5 147.7 418.5 147.9 419.0 148.2 419.9 148.8 420.7 149.8 421.5 151.7 422.0 152.3 422.5 151.8 423.1 150.8 423.9 149.8 425.0 148.8 426.0 148.3 427.0 148.0 428.0 147.9 429.0 148.1 430.5 148.7 431.8 149.8 432.8 151.3 434.0 153.6 434.5 154.2 435.0 154.4 435.5 154.6 436.5 154.6 437.0 154.5 437.6 154.3 439.4 153.3 440.4 152.3 440.6 151.8 440.4 151.3 439.0 150.6 438.0 149.8 437.5 149.2 437.1 148.3 437.0 147.3 437.1 146.8 437.7 145.8 438.5 145.0 439.5 144.7 450.5 143.1 464.5 142.2 480.5 140.0 484.5 140.0 488.0 139.8 489.5 139.8 490.5 140.0 491.5 140.5 492.0 140.9 492.8 141.8 493.3 142.8 493.4 143.3 493.6 144.8 493.8 148.3 494.5 151.8 494.3 152.8 494.0 153.3 493.5 153.8 493.0 154.1 492.5 154.3 491.5 154.3 491.0 154.1 490.5 153.8 490.0 153.3 488.5 150.8 488.0 150.1 487.2 149.3 486.5 148.8 485.5 148.3 485.0 148.2 482.5 147.8 481.0 147.7 465.5 149.6 461.5 149.8 459.5 150.2 458.5 150.8 458.1 151.3 458.0 151.8 457.8 154.8 457.6 155.8 457.3 156.8 456.5 158.3 453.8 164.8 452.9 166.3 451.6 168.3 450.7 169.3 450.2 169.8 445.5 173.6 442.5 176.2 440.0 178.7 436.5 182.4 433.0 186.9 428.2 193.8 425.0 197.6 424.5 198.9 424.4 200.3 424.9 211.8 424.5 214.1 423.9 219.3 423.7 219.8 423.0 220.7 422.5 221.1 422.0 221.3Z" fill="#e3e3e3" stroke="#555" stroke-width="0.35"/>
<path d="M421.5 221.4 420.5 221.5 419.5 221.2 418.5 220.4 418.1 219.8 417.7 218.8 417.5 217.3 416.2 211.8 415.7 201.8 415.8 197.8 415.6 195.3 415.5 194.0 415.0 192.3 414.4 190.8 414.3 189.8 414.4 179.3 414.3 150.8 414.5 149.8 415.0 149.1 415.5 148.6 416.0 148.3 416.5 148.2 417.5 148.2 418.5 148.5 419.0 148.8 419.5 149.3 419.8 149.8 420.2 150.8 421.0 157.4 421.5 159.8 422.0 160.9 422.5 161.0 423.0 160.0 423.5 158.3 424.7 151.8 425.0 151.2 425.5 150.5 426.5 149.8 427.5 149.6 428.5 149.6 429.5 150.0 430.5 150.8 431.0 151.5 431.4 152.3 431.8 154.3 432.1 155.3 432.5 156.0 433.0 156.4 433.5 156.5 434.0 156.5 435.0 156.4 437.5 155.6 439.7 154.3 441.6 152.8 442.1 152.3 442.4 151.8 442.5 151.3 442.2 150.8 441.2 150.3 439.5 149.9 439.0 149.7 438.5 149.3 438.0 148.8 437.8 148.3 437.7 147.3 438.0 146.3 438.5 145.7 439.0 145.4 439.5 145.2 450.0 143.6 464.5 142.6 480.5 140.4 484.5 140.4 488.0 140.0 489.5 140.0 490.0 140.1 491.0 140.5 492.0 141.3 492.8 142.3 493.3 143.8 493.4 144.8 493.5 148.3 494.2 151.8 494.1 152.3 494.0 152.8 493.6 153.3 493.0 153.8 492.5 153.9 491.5 154.0 491.0 153.8 490.5 153.4 490.0 152.8 488.9 150.8 488.1 149.8 487.5 149.2 486.5 148.4 484.8 147.8 481.0 147.3 465.5 149.2 460.5 149.4 458.8 149.8 458.0 150.2 457.5 150.6 457.2 151.3 457.1 151.8 456.9 154.3 456.7 155.3 456.3 156.3 455.5 157.6 452.3 163.3 449.3 167.8 447.9 169.3 441.0 176.2 436.0 181.8 432.0 187.2 428.4 192.8 427.2 194.3 425.0 196.9 424.8 197.3 424.5 197.9 424.4 198.3 424.3 200.3 424.8 211.8 424.5 213.2 423.8 218.8 423.7 219.3 423.2 220.3 422.5 220.9 421.5 221.4Z" fill="#dbdbdb" stroke="#555" stroke-width="0.35"/>
<path d="M421.0 221.3 420.0 221.2 419.5 221.1 418.6 220.3 418.2 219.8 417.9 218.8 417.5 216.8 416.4 211.8 415.8 201.3 415.9 198.3 415.9 195.8 415.5 193.0 414.9 190.8 414.7 189.8 414.9 179.3 414.8 150.8 415.0 150.0 415.4 149.3 416.0 148.9 416.5 148.7 417.5 148.7 418.0 148.8 418.7 149.3 419.1 149.8 419.4 150.3 420.5 161.3 421.0 164.9 421.5 166.8 422.0 167.6 422.5 167.7 423.0 167.2 423.9 165.3 426.5 157.5 427.0 156.3 427.5 155.5 428.0 155.6 429.2 158.3 430.0 159.4 430.5 159.8 431.0 160.0 432.0 160.0 432.5 159.9 433.5 159.3 435.5 157.8 438.0 156.5 439.5 155.5 441.9 153.8 443.5 152.3 443.9 151.8 444.1 151.3 444.0 150.8 443.7 150.3 442.7 149.8 442.0 149.6 439.5 149.1 439.0 148.8 438.6 148.3 438.4 147.8 438.4 147.3 438.5 146.8 438.8 146.3 439.5 145.9 449.5 144.1 453.0 143.7 458.5 143.4 464.5 143.0 480.5 140.7 484.5 140.7 487.5 140.4 489.0 140.3 490.0 140.4 490.5 140.6 491.7 141.3 492.5 142.3 492.9 143.3 493.1 144.8 493.2 148.3 493.9 151.8 493.8 152.3 493.5 152.9 493.0 153.4 492.5 153.6 492.0 153.7 491.5 153.6 490.9 153.3 490.4 152.8 489.5 151.2 488.5 149.8 487.5 148.8 486.9 148.3 485.9 147.8 484.5 147.4 481.0 147.0 465.5 148.7 460.0 149.0 459.0 149.2 458.0 149.5 457.3 149.8 456.7 150.3 456.4 150.8 456.2 151.3 456.1 153.8 455.7 155.3 455.2 156.3 450.3 163.8 447.4 167.8 440.0 175.9 435.5 181.2 432.0 186.1 428.1 192.3 425.0 196.2 424.5 197.1 424.2 198.3 424.1 199.8 424.7 211.3 424.0 216.1 423.7 218.8 423.4 219.8 423.0 220.3 422.0 221.1 421.0 221.3Z" fill="#d2d2d2" stroke="#555" stroke-width="0.35"/>
<path d="M422.0 221.0 421.0 221.2 420.0 221.1 419.0 220.6 418.3 219.8 418.1 219.3 416.5 211.8 416.0 201.8 416.1 197.8 416.0 195.3 415.2 189.8 415.4 179.3 415.5 150.8 415.6 150.3 415.9 149.8 416.5 149.4 417.0 149.3 417.5 149.4 418.2 149.8 418.5 150.3 418.7 151.3 419.6 162.3 420.2 167.8 420.5 169.3 421.0 171.1 421.5 172.0 422.0 172.2 422.5 172.0 423.5 170.9 425.5 167.6 426.5 166.2 427.0 165.7 428.0 165.0 431.0 163.6 432.5 162.6 434.0 161.4 436.5 158.8 439.5 156.8 442.5 154.6 444.7 152.8 445.5 151.8 445.8 151.3 445.8 150.8 445.7 150.3 445.2 149.8 444.4 149.3 443.5 148.9 439.9 147.8 439.7 147.3 440.5 146.8 442.0 146.3 445.7 145.3 449.5 144.6 452.5 144.2 458.5 143.9 464.5 143.4 480.5 141.1 484.5 141.1 488.0 140.6 489.0 140.6 489.5 140.6 490.5 140.9 491.5 141.5 492.2 142.3 492.4 142.8 492.8 144.3 492.8 148.3 493.4 151.8 493.3 152.3 493.0 152.8 492.5 153.1 492.0 153.2 491.5 153.1 491.0 152.8 489.0 149.8 488.0 148.8 486.6 147.8 485.5 147.3 484.5 147.0 481.0 146.6 465.5 148.3 459.5 148.5 457.5 148.9 456.6 149.3 455.9 149.8 455.5 150.3 455.3 150.8 455.1 153.8 454.8 154.8 454.5 155.3 449.7 162.3 446.4 166.8 438.5 176.1 435.0 180.5 431.5 185.6 427.8 191.8 426.7 193.3 425.0 195.4 424.5 196.3 424.0 198.3 424.0 199.8 424.5 211.8 424.0 215.1 423.6 218.8 423.3 219.8 423.0 220.2 422.5 220.7 422.0 221.0Z" fill="#c8c8c8" stroke="#555" stroke-width="0.35"/>
<path d="M421.5 221.0 420.5 221.1 420.0 221.0 419.0 220.4 418.5 219.8 418.1 218.8 416.7 211.8 416.2 201.3 416.2 195.8 415.8 189.8 416.2 181.3 416.5 162.3 416.7 157.8 417.0 154.0 417.5 155.2 418.8 167.3 419.6 172.3 420.0 174.2 420.5 176.0 421.0 176.9 421.5 177.2 422.0 177.1 422.5 176.6 423.0 175.8 423.9 173.8 424.5 172.8 426.0 170.8 427.0 169.7 428.5 168.4 431.5 166.2 433.0 164.9 434.5 163.4 437.5 159.9 438.0 159.4 440.0 158.1 444.0 155.1 446.2 153.3 447.2 152.3 447.8 151.3 447.9 150.8 447.8 150.3 447.5 149.8 447.1 149.3 445.0 147.8 444.7 147.3 445.0 146.8 445.8 146.3 448.0 145.5 450.5 145.1 453.3 144.8 458.5 144.6 464.5 144.0 481.0 141.6 484.5 141.5 487.5 141.0 489.0 140.9 490.0 141.0 490.6 141.3 491.3 141.8 491.8 142.3 492.3 143.3 492.5 144.8 492.4 148.8 492.8 151.8 492.5 152.4 492.0 152.6 491.4 152.3 490.0 150.3 489.1 149.3 488.0 148.3 487.0 147.6 486.0 147.1 484.5 146.6 481.0 146.0 465.0 147.7 461.0 147.7 458.5 147.9 457.0 148.2 456.0 148.6 455.0 149.1 454.2 149.8 453.9 150.3 453.8 150.8 453.9 152.8 453.7 153.8 453.5 154.3 449.0 160.7 444.8 166.3 437.5 175.4 434.5 179.3 431.0 184.8 427.3 191.3 426.3 192.8 425.0 194.4 424.5 195.3 424.0 196.8 423.8 199.3 424.3 211.8 423.3 219.3 423.1 219.8 422.7 220.3 422.0 220.8 421.5 221.0Z" fill="#c0c0c0" stroke="#555" stroke-width="0.35"/>
<path d="M491.0 149.9 490.5 149.7 487.5 147.4 486.0 146.6 484.0 145.9 481.0 145.4 465.0 146.8 459.5 146.4 458.0 146.4 457.5 146.5 456.0 147.0 454.5 147.6 452.0 149.0 451.0 149.2 450.5 149.2 450.0 149.0 449.0 148.4 448.4 147.8 448.3 147.3 448.6 146.8 449.0 146.6 449.7 146.3 451.0 146.0 452.5 145.9 454.0 145.9 457.5 146.1 458.5 146.1 459.0 146.0 459.4 145.8 461.9 145.3 474.1 143.3 480.5 142.3 484.5 142.1 487.5 141.4 489.0 141.2 490.0 141.4 491.0 142.0 491.7 142.8 492.0 143.8 492.2 145.3 491.8 148.3 491.5 149.6 491.0 149.9ZM421.0 220.9 420.2 220.8 419.5 220.5 419.0 220.1 418.5 219.3 416.9 211.8 416.4 201.3 416.5 196.3 416.2 192.3 417.5 182.2 418.0 180.0 418.5 179.6 420.0 181.2 420.5 181.6 421.0 181.6 421.5 181.5 422.0 181.1 422.5 180.6 423.5 179.1 425.7 174.8 426.3 173.8 428.0 172.2 431.5 169.4 433.5 167.6 436.1 164.8 439.0 161.3 439.5 160.8 446.0 156.3 448.0 155.2 448.5 155.1 449.0 155.3 449.0 155.8 448.6 156.8 447.5 158.7 446.5 160.3 441.5 167.3 436.0 174.6 433.1 178.8 430.3 183.8 426.7 190.8 426.1 191.8 424.5 193.9 424.0 195.4 423.6 198.3 423.6 199.8 424.1 211.3 423.3 218.8 423.0 219.6 422.5 220.2 422.0 220.6 421.0 220.9Z" fill="#bcbcbc" stroke="#555" stroke-width="0.35"/>
<path d="M490.5 148.3 490.0 148.3 489.5 148.1 486.5 146.3 485.0 145.5 484.0 145.1 481.6 144.3 481.0 143.9 480.8 143.8 482.1 143.3 484.0 143.0 487.5 141.8 489.0 141.6 490.0 141.8 490.8 142.3 491.2 142.8 491.5 143.3 491.7 144.3 491.7 145.3 491.5 146.8 491.0 148.0 490.5 148.3ZM422.0 220.3 421.5 220.6 420.5 220.6 419.6 220.3 419.0 219.8 418.6 218.8 417.2 211.8 416.6 201.3 416.8 196.8 416.6 192.8 416.6 191.8 417.1 190.3 417.9 188.8 418.5 187.4 419.0 186.7 419.5 186.2 421.5 185.2 422.5 184.3 423.6 182.8 426.5 178.3 428.5 175.8 429.0 175.4 429.5 175.2 430.5 175.0 431.0 175.0 431.3 175.3 431.4 175.8 431.3 176.8 430.9 177.8 429.0 182.7 426.5 188.6 425.5 190.8 424.5 192.3 424.0 193.5 423.8 194.3 423.4 196.8 423.3 198.8 423.8 211.8 423.0 218.8 422.6 219.8 422.0 220.3Z" fill="#c4c4c4" stroke="#555" stroke-width="0.35"/>
<path d="M490.0 147.4 489.5 147.4 489.0 147.2 486.0 145.3 485.4 144.8 485.1 144.3 485.2 143.8 485.6 143.3 486.3 142.8 488.0 142.2 489.0 142.1 489.5 142.1 490.0 142.3 490.5 142.7 491.0 143.3 491.2 143.8 491.3 145.3 491.0 146.3 490.8 146.8 490.5 147.2 490.0 147.4ZM421.0 220.4 420.5 220.4 420.0 220.2 419.4 219.8 419.0 219.2 417.4 211.8 416.9 201.3 417.1 196.8 416.9 192.3 417.2 191.3 417.5 190.7 418.0 190.0 418.5 189.6 419.5 189.1 421.5 188.7 423.5 187.9 424.0 188.1 424.1 188.8 424.1 189.8 423.8 190.8 423.7 192.3 423.1 196.8 423.0 198.3 423.6 211.8 422.7 218.8 422.6 219.3 422.2 219.8 421.5 220.3 421.0 220.4Z" fill="#d4d4d4" stroke="#555" stroke-width="0.35"/>
<path d="M490.0 146.4 489.5 146.5 489.0 146.5 488.0 145.9 487.0 145.2 486.7 144.8 486.5 144.3 486.6 143.8 487.0 143.3 488.0 142.7 489.0 142.6 489.8 142.8 490.4 143.3 490.6 143.8 490.7 144.8 490.5 145.8 490.0 146.4ZM421.0 219.9 420.4 219.8 420.0 219.6 419.5 219.1 419.0 217.1 417.8 211.8 417.3 201.3 417.6 197.3 417.6 195.3 417.4 192.8 417.5 191.8 418.0 190.8 418.5 190.4 419.0 190.0 420.0 189.8 421.0 189.9 421.5 190.0 422.0 190.3 422.5 190.8 422.8 191.3 423.0 191.8 423.1 192.8 422.6 197.3 422.5 198.8 422.7 201.3 423.2 211.8 422.2 218.8 422.0 219.3 421.5 219.7 421.0 219.9Z" fill="#e6e6e6" stroke="#555" stroke-width="0.35"/>
<path d="M489.5 145.5 489.0 145.6 488.4 145.3 487.8 144.8 487.6 144.3 487.7 143.8 488.5 143.3 489.0 143.2 489.5 143.4 489.9 143.8 490.1 144.3 490.0 144.9 489.8 145.3 489.5 145.5ZM421.5 215.4 421.0 215.6 420.0 215.5 419.5 215.0 419.0 213.8 418.4 211.8 418.4 211.3 417.9 201.3 418.4 198.8 418.6 197.3 418.3 194.3 418.0 192.8 418.0 192.3 418.1 191.8 418.5 191.2 419.0 190.7 420.0 190.4 421.0 190.6 421.5 190.8 422.0 191.3 422.3 191.8 422.5 192.8 422.4 194.8 421.8 197.8 421.8 198.8 422.2 201.3 422.6 211.3 422.6 211.8 422.0 214.4 421.5 215.4Z" fill="#f6f6f6" stroke="#555" stroke-width="0.35"/>
<path d="M457.7 193.2h.7v.7h-.7zM452.1 182.4h.7v.7h-.7zM449.8 163.2h.7v.7h-.7zM501.0 161.6h.7v.7h-.7zM480.9 172.1h.7v.7h-.7zM470.4 173.6h.7v.7h-.7zM455.8 187.7h.7v.7h-.7zM450.0 162.6h.7v.7h-.7zM446.1 164.0h.7v.7h-.7zM467.8 190.7h.7v.7h-.7zM466.2 157.6h.7v.7h-.7zM459.5 194.4h.7v.7h-.7zM448.5 178.8h.7v.7h-.7zM466.1 180.6h.7v.7h-.7zM464.0 181.8h.7v.7h-.7zM472.9 180.1h.7v.7h-.7zM495.5 177.2h.7v.7h-.7zM453.0 155.5h.7v.7h-.7zM498.0 173.3h.7v.7h-.7zM455.9 192.5h.7v.7h-.7zM477.4 183.4h.7v.7h-.7zM494.3 164.8h.7v.7h-.7zM465.0 189.7h.7v.7h-.7zM452.6 184.9h.7v.7h-.7zM450.5 181.8h.7v.7h-.7zM484.3 192.7h.7v.7h-.7zM492.2 174.0h.7v.7h-.7zM456.1 159.1h.7v.7h-.7zM474.6 174.2h.7v.7h-.7zM449.0 190.7h.7v.7h-.7zM473.4 182.3h.7v.7h-.7zM457.3 163.0h.7v.7h-.7zM445.7 167.2h.7v.7h-.7zM459.9 170.6h.7v.7h-.7zM466.1 187.8h.7v.7h-.7zM494.9 160.2h.7v.7h-.7zM467.2 159.8h.7v.7h-.7zM482.1 193.7h.7v.7h-.7zM456.3 185.0h.7v.7h-.7zM461.8 153.4h.7v.7h-.7zM487.8 167.2h.7v.7h-.7zM454.5 171.1h.7v.7h-.7zM458.0 170.0h.7v.7h-.7zM470.0 170.4h.7v.7h-.7zM478.0 164.9h.7v.7h-.7zM450.3 156.4h.7v.7h-.7zM451.0 174.7h.7v.7h-.7zM465.2 186.7h.7v.7h-.7zM473.3 182.5h.7v.7h-.7zM499.9 155.4h.7v.7h-.7zM445.9 158.7h.7v.7h-.7zM466.6 176.9h.7v.7h-.7zM486.7 167.6h.7v.7h-.7zM499.0 152.9h.7v.7h-.7zM491.8 161.6h.7v.7h-.7zM494.0 154.2h.7v.7h-.7zM499.0 184.7h.7v.7h-.7zM500.5 177.2h.7v.7h-.7zM455.0 193.5h.7v.7h-.7zM469.7 156.3h.7v.7h-.7zM478.9 173.7h.7v.7h-.7zM471.5 159.3h.7v.7h-.7zM451.8 177.2h.7v.7h-.7zM470.4 158.1h.7v.7h-.7zM469.6 183.3h.7v.7h-.7zM485.1 172.6h.7v.7h-.7zM467.1 168.0h.7v.7h-.7zM457.6 161.1h.7v.7h-.7zM470.0 157.3h.7v.7h-.7zM485.6 182.5h.7v.7h-.7zM479.2 153.7h.7v.7h-.7zM465.4 171.0h.7v.7h-.7zM450.2 193.4h.7v.7h-.7zM487.3 173.9h.7v.7h-.7zM484.5 161.2h.7v.7h-.7zM457.8 174.9h.7v.7h-.7zM486.7 180.0h.7v.7h-.7zM445.4 178.6h.7v.7h-.7zM495.9 184.0h.7v.7h-.7zM496.9 194.0h.7v.7h-.7zM457.5 165.2h.7v.7h-.7zM475.7 193.8h.7v.7h-.7zM465.7 192.3h.7v.7h-.7zM492.6 174.5h.7v.7h-.7zM480.0 193.0h.7v.7h-.7zM488.9 165.2h.7v.7h-.7zM492.4 161.0h.7v.7h-.7zM465.7 193.1h.7v.7h-.7zM492.4 165.9h.7v.7h-.7zM461.3 178.5h.7v.7h-.7zM492.2 181.5h.7v.7h-.7zM497.4 183.4h.7v.7h-.7zM491.0 178.2h.7v.7h-.7zM465.3 170.8h.7v.7h-.7zM472.4 175.0h.7v.7h-.7zM491.9 164.1h.7v.7h-.7zM448.8 183.6h.7v.7h-.7zM460.2 170.4h.7v.7h-.7zM451.6 187.6h.7v.7h-.7zM460.3 165.0h.7v.7h-.7zM490.0 174.0h.7v.7h-.7zM460.5 190.1h.7v.7h-.7zM468.1 168.0h.7v.7h-.7zM499.1 186.0h.7v.7h-.7zM486.9 163.3h.7v.7h-.7zM490.5 177.9h.7v.7h-.7zM491.5 168.3h.7v.7h-.7zM488.7 186.1h.7v.7h-.7zM466.7 180.3h.7v.7h-.7zM488.7 194.5h.7v.7h-.7zM496.5 185.8h.7v.7h-.7zM452.7 178.4h.7v.7h-.7zM483.4 156.5h.7v.7h-.7zM470.9 189.3h.7v.7h-.7zM495.7 191.7h.7v.7h-.7zM450.2 178.3h.7v.7h-.7zM493.4 180.2h.7v.7h-.7zM462.9 154.4h.7v.7h-.7zM496.5 188.9h.7v.7h-.7zM481.6 168.2h.7v.7h-.7zM491.4 187.0h.7v.7h-.7zM485.6 178.0h.7v.7h-.7zM462.9 165.3h.7v.7h-.7zM465.0 166.5h.7v.7h-.7zM474.1 157.6h.7v.7h-.7zM485.4 167.4h.7v.7h-.7zM453.9 163.5h.7v.7h-.7zM466.8 170.9h.7v.7h-.7zM488.8 157.0h.7v.7h-.7zM457.5 165.1h.7v.7h-.7zM454.9 184.3h.7v.7h-.7zM451.1 154.9h.7v.7h-.7zM476.1 183.7h.7v.7h-.7zM491.2 176.3h.7v.7h-.7zM463.3 189.8h.7v.7h-.7zM486.2 172.9h.7v.7h-.7zM476.5 192.1h.7v.7h-.7zM500.9 191.9h.7v.7h-.7zM452.4 166.5h.7v.7h-.7zM467.8 159.9h.7v.7h-.7zM487.7 155.4h.7v.7h-.7zM494.7 177.4h.7v.7h-.7zM479.4 170.2h.7v.7h-.7zM497.4 177.1h.7v.7h-.7zM495.2 191.6h.7v.7h-.7zM483.8 194.1h.7v.7h-.7zM472.4 168.2h.7v.7h-.7zM492.3 175.0h.7v.7h-.7zM462.3 181.4h.7v.7h-.7zM471.6 158.2h.7v.7h-.7zM491.9 173.8h.7v.7h-.7zM499.4 175.2h.7v.7h-.7zM497.5 164.9h.7v.7h-.7zM457.2 174.9h.7v.7h-.7zM487.9 187.4h.7v.7h-.7zM481.3 158.0h.7v.7h-.7zM467.1 154.3h.7v.7h-.7zM465.8 192.5h.7v.7h-.7zM464.4 182.2h.7v.7h-.7zM479.8 158.8h.7v.7h-.7zM483.6 156.1h.7v.7h-.7zM455.3 177.2h.7v.7h-.7zM452.1 193.3h.7v.7h-.7zM468.8 179.3h.7v.7h-.7zM499.0 157.3h.7v.7h-.7zM500.9 154.5h.7v.7h-.7zM478.7 180.3h.7v.7h-.7zM500.2 167.8h.7v.7h-.7zM498.0 180.1h.7v.7h-.7zM471.7 159.9h.7v.7h-.7zM458.2 168.1h.7v.7h-.7zM464.4 168.4h.7v.7h-.7zM490.3 168.5h.7v.7h-.7zM480.2 154.4h.7v.7h-.7zM452.9 182.6h.7v.7h-.7zM494.9 166.0h.7v.7h-.7zM446.8 162.6h.7v.7h-.7zM465.2 168.2h.7v.7h-.7zM476.4 165.5h.7v.7h-.7zM481.2 185.8h.7v.7h-.7zM488.9 183.9h.7v.7h-.7zM477.7 163.8h.7v.7h-.7zM492.1 165.0h.7v.7h-.7zM493.2 171.6h.7v.7h-.7zM480.2 173.8h.7v.7h-.7zM481.6 167.1h.7v.7h-.7zM477.4 183.7h.7v.7h-.7zM465.2 178.0h.7v.7h-.7zM470.6 172.5h.7v.7h-.7zM466.5 175.8h.7v.7h-.7zM484.7 160.1h.7v.7h-.7zM453.2 187.4h.7v.7h-.7zM450.0 186.1h.7v.7h-.7zM487.5 161.9h.7v.7h-.7zM480.6 163.4h.7v.7h-.7zM494.4 161.1h.7v.7h-.7zM451.5 154.3h.7v.7h-.7zM485.2 161.7h.7v.7h-.7zM462.6 193.8h.7v.7h-.7zM486.2 183.8h.7v.7h-.7zM477.3 179.7h.7v.7h-.7zM445.6 186.9h.7v.7h-.7zM463.4 188.7h.7v.7h-.7zM468.2 191.1h.7v.7h-.7zM445.0 194.0h.7v.7h-.7zM450.4 174.3h.7v.7h-.7zM472.0 194.2h.7v.7h-.7zM485.1 194.0h.7v.7h-.7zM495.7 170.7h.7v.7h-.7zM453.3 158.9h.7v.7h-.7zM484.7 192.8h.7v.7h-.7zM482.2 167.3h.7v.7h-.7zM478.4 180.4h.7v.7h-.7zM459.2 181.9h.7v.7h-.7zM456.2 154.0h.7v.7h-.7zM448.6 173.3h.7v.7h-.7zM484.0 162.3h.7v.7h-.7zM467.2 181.9h.7v.7h-.7zM459.7 174.7h.7v.7h-.7zM478.8 169.9h.7v.7h-.7zM456.7 181.9h.7v.7h-.7zM484.3 160.7h.7v.7h-.7zM490.2 180.3h.7v.7h-.7zM493.5 185.6h.7v.7h-.7zM472.7 182.9h.7v.7h-.7zM462.6 180.2h.7v.7h-.7zM449.6 167.3h.7v.7h-.7zM473.3 190.0h.7v.7h-.7zM483.3 191.0h.7v.7h-.7zM493.7 193.6h.7v.7h-.7zM479.6 178.7h.7v.7h-.7zM471.3 162.1h.7v.7h-.7zM489.6 178.4h.7v.7h-.7zM454.1 162.9h.7v.7h-.7zM457.4 183.2h.7v.7h-.7zM478.5 161.2h.7v.7h-.7zM483.5 176.5h.7v.7h-.7zM459.9 171.5h.7v.7h-.7zM500.6 158.7h.7v.7h-.7zM458.3 177.7h.7v.7h-.7zM491.1 220.6h.7v.7h-.7zM463.7 216.3h.7v.7h-.7zM446.3 205.6h.7v.7h-.7zM492.1 213.4h.7v.7h-.7zM466.7 211.6h.7v.7h-.7zM469.2 210.1h.7v.7h-.7zM493.8 222.1h.7v.7h-.7zM451.4 215.9h.7v.7h-.7zM497.6 211.8h.7v.7h-.7zM470.0 205.2h.7v.7h-.7zM469.0 211.1h.7v.7h-.7zM476.9 198.0h.7v.7h-.7zM500.9 202.5h.7v.7h-.7zM472.9 200.4h.7v.7h-.7zM478.1 196.9h.7v.7h-.7zM418.4 205.6h.7v.7h-.7zM417.8 208.4h.7v.7h-.7zM413.4 208.5h.7v.7h-.7zM431.3 212.4h.7v.7h-.7zM436.2 221.4h.7v.7h-.7zM422.4 207.9h.7v.7h-.7zM430.3 219.4h.7v.7h-.7zM424.1 213.5h.7v.7h-.7zM428.3 209.2h.7v.7h-.7zM423.2 206.0h.7v.7h-.7zM421.6 208.1h.7v.7h-.7zM431.5 199.3h.7v.7h-.7zM412.3 220.7h.7v.7h-.7zM423.3 214.3h.7v.7h-.7zM434.6 215.4h.7v.7h-.7zM424.9 221.5h.7v.7h-.7zM426.5 207.3h.7v.7h-.7zM414.1 199.3h.7v.7h-.7zM431.2 219.9h.7v.7h-.7zM419.0 209.6h.7v.7h-.7zM428.0 211.8h.7v.7h-.7zM416.7 220.3h.7v.7h-.7zM424.5 214.8h.7v.7h-.7zM428.3 207.1h.7v.7h-.7zM428.6 200.1h.7v.7h-.7zM426.8 168.6h.7v.7h-.7zM429.0 156.0h.7v.7h-.7zM416.9 149.3h.7v.7h-.7zM415.3 152.2h.7v.7h-.7zM425.1 165.7h.7v.7h-.7zM431.1 161.1h.7v.7h-.7zM432.7 146.8h.7v.7h-.7zM421.4 150.0h.7v.7h-.7zM425.9 165.8h.7v.7h-.7zM427.7 161.3h.7v.7h-.7zM421.9 157.3h.7v.7h-.7zM414.9 152.6h.7v.7h-.7zM425.1 165.7h.7v.7h-.7zM414.7 175.4h.7v.7h-.7zM412.7 150.2h.7v.7h-.7zM424.1 157.5h.7v.7h-.7zM426.0 169.9h.7v.7h-.7zM428.1 173.3h.7v.7h-.7zM424.7 169.5h.7v.7h-.7zM423.3 150.2h.7v.7h-.7zM414.0 152.2h.7v.7h-.7zM424.0 155.5h.7v.7h-.7zM427.1 169.2h.7v.7h-.7zM436.8 151.0h.7v.7h-.7zM437.9 145.8h.7v.7h-.7zM436.0 180.3h.7v.7h-.7zM421.9 173.7h.7v.7h-.7zM425.6 165.5h.7v.7h-.7zM435.1 178.8h.7v.7h-.7zM420.1 153.5h.7v.7h-.7zM436.7 166.5h.7v.7h-.7zM436.3 153.5h.7v.7h-.7zM434.9 151.4h.7v.7h-.7zM416.0 155.9h.7v.7h-.7zM437.0 159.4h.7v.7h-.7zM423.9 155.9h.7v.7h-.7zM414.0 161.3h.7v.7h-.7zM425.4 157.5h.7v.7h-.7zM431.7 156.6h.7v.7h-.7zM438.4 177.6h.7v.7h-.7zM427.6 149.4h.7v.7h-.7zM427.1 167.5h.7v.7h-.7zM429.6 160.7h.7v.7h-.7zM431.6 180.7h.7v.7h-.7zM431.0 147.2h.7v.7h-.7zM429.0 167.6h.7v.7h-.7zM426.7 178.6h.7v.7h-.7zM413.4 146.4h.7v.7h-.7zM431.5 149.3h.7v.7h-.7zM415.7 174.4h.7v.7h-.7zM471.0 167.2h.7v.7h-.7zM479.9 164.7h.7v.7h-.7zM501.2 149.7h.7v.7h-.7zM472.5 172.4h.7v.7h-.7zM469.7 171.5h.7v.7h-.7zM470.2 172.4h.7v.7h-.7zM502.6 152.4h.7v.7h-.7zM473.8 165.4h.7v.7h-.7zM484.9 163.7h.7v.7h-.7zM494.3 153.0h.7v.7h-.7zM449.1 186.8h.7v.7h-.7zM469.8 162.7h.7v.7h-.7zM467.8 178.8h.7v.7h-.7zM483.2 166.1h.7v.7h-.7zM483.7 160.2h.7v.7h-.7zM461.3 168.6h.7v.7h-.7zM468.5 171.2h.7v.7h-.7zM494.3 160.5h.7v.7h-.7zM494.6 149.5h.7v.7h-.7zM488.3 154.7h.7v.7h-.7zM480.0 157.6h.7v.7h-.7zM488.4 161.0h.7v.7h-.7zM491.9 158.2h.7v.7h-.7zM473.5 156.4h.7v.7h-.7zM491.4 151.9h.7v.7h-.7zM477.6 162.7h.7v.7h-.7zM454.4 176.6h.7v.7h-.7zM461.1 178.9h.7v.7h-.7zM456.4 178.2h.7v.7h-.7zM456.0 176.3h.7v.7h-.7zM484.9 157.6h.7v.7h-.7zM484.9 158.6h.7v.7h-.7zM451.2 180.4h.7v.7h-.7zM488.2 157.8h.7v.7h-.7zM487.3 161.6h.7v.7h-.7zM484.4 154.4h.7v.7h-.7zM473.6 168.2h.7v.7h-.7zM459.5 177.5h.7v.7h-.7zM490.7 161.9h.7v.7h-.7zM460.3 174.1h.7v.7h-.7zM483.7 158.6h.7v.7h-.7zM469.0 176.4h.7v.7h-.7zM485.7 162.3h.7v.7h-.7zM478.1 166.3h.7v.7h-.7zM477.5 164.9h.7v.7h-.7zM466.7 175.2h.7v.7h-.7zM455.7 174.9h.7v.7h-.7zM472.8 174.5h.7v.7h-.7zM448.7 174.6h.7v.7h-.7zM482.2 164.2h.7v.7h-.7zM462.5 171.5h.7v.7h-.7zM498.3 153.0h.7v.7h-.7zM489.7 156.4h.7v.7h-.7zM472.1 170.9h.7v.7h-.7zM492.2 158.0h.7v.7h-.7zM464.8 168.6h.7v.7h-.7zM490.5 158.5h.7v.7h-.7zM472.4 171.1h.7v.7h-.7zM481.3 163.7h.7v.7h-.7zM463.5 168.2h.7v.7h-.7zM472.3 170.2h.7v.7h-.7zM489.5 156.0h.7v.7h-.7zM455.1 177.1h.7v.7h-.7zM476.7 163.5h.7v.7h-.7zM478.0 160.1h.7v.7h-.7zM455.3 179.4h.7v.7h-.7zM452.7 178.9h.7v.7h-.7zM469.1 168.2h.7v.7h-.7zM462.5 175.7h.7v.7h-.7zM466.0 169.7h.7v.7h-.7zM475.2 170.0h.7v.7h-.7zM497.6 160.3h.7v.7h-.7zM459.2 175.4h.7v.7h-.7zM461.7 172.0h.7v.7h-.7zM475.4 169.8h.7v.7h-.7zM464.7 172.3h.7v.7h-.7zM470.5 167.8h.7v.7h-.7zM448.1 177.8h.7v.7h-.7zM487.8 160.1h.7v.7h-.7zM479.0 169.0h.7v.7h-.7z" fill="#666"/>
<g transform="translate(409 130.8)"><path d="M7.1000000000000005 58.599999999999994 Q7.300000000000001 73.6 7.9 84.6 Q8.4 88.6 11.7 88.6 Q15.2 88.6 15.5 84.6 L15.8 66.6" stroke="#333" stroke-width="1.7" fill="none" opacity="0.85"/><path d="M7.6000000000000005 20 Q6.9 39.3 7.1000000000000005 59.099999999999994" stroke="#666" stroke-width="1.3" fill="none" opacity="0.8"/></g>
</g>
<path d="M46.7 85 V121.3 H76.5" fill="none" stroke="#8a8a8a" stroke-width="0.8"/>
<line x1="76.5" y1="26.8" x2="76.5" y2="121.7" stroke="#4a4a4a" stroke-width="0.8"/>
<rect x="48" y="26.8" width="92.80000000000001" height="58.2" fill="none" stroke="#8a4c9a" stroke-width="1.5"/>
<rect x="77.7" y="85" width="63.10000000000001" height="34.5" fill="none" stroke="#8a4c9a" stroke-width="1.5"/>
<line x1="76.5" y1="85" x2="140.8" y2="85" stroke="#5a4a5e" stroke-width="0.7"/>
<text x="50.3" y="33.5" font-size="7.2" fill="#111">36.3%</text>
<text x="139.60000000000002" y="33.5" font-size="7.2" text-anchor="end" fill="#111">51.1%</text>
<text x="139.60000000000002" y="118.2" font-size="7.2" text-anchor="end" fill="#111">0.5%</text>
<ellipse cx="59.8" cy="31.8" rx="9.6" ry="6.7" fill="none" stroke="#d93a3a" stroke-width="0.95"/>
<path d="M150.7 85 V121.3 H181" fill="none" stroke="#8a8a8a" stroke-width="0.8"/>
<line x1="181" y1="26.8" x2="181" y2="121.7" stroke="#4a4a4a" stroke-width="0.8"/>
<rect x="152" y="26.8" width="94.30000000000001" height="58.2" fill="none" stroke="#8a4c9a" stroke-width="1.5"/>
<rect x="182.2" y="85" width="64.10000000000001" height="34.5" fill="none" stroke="#8a4c9a" stroke-width="1.5"/>
<line x1="181" y1="85" x2="246.3" y2="85" stroke="#5a4a5e" stroke-width="0.7"/>
<text x="154.3" y="33.5" font-size="7.2" fill="#111">37.3%</text>
<text x="245.10000000000002" y="33.5" font-size="7.2" text-anchor="end" fill="#111">51.3%</text>
<text x="245.10000000000002" y="118.2" font-size="7.2" text-anchor="end" fill="#111">0.4%</text>
<ellipse cx="163.8" cy="31.8" rx="9.6" ry="6.7" fill="none" stroke="#d93a3a" stroke-width="0.95"/>
<path d="M46.7 188.6 V226.10000000000002 H76.5" fill="none" stroke="#8a8a8a" stroke-width="0.8"/>
<line x1="76.5" y1="130.8" x2="76.5" y2="226.5" stroke="#4a4a4a" stroke-width="0.8"/>
<rect x="48" y="130.8" width="92.80000000000001" height="57.79999999999998" fill="none" stroke="#8a4c9a" stroke-width="1.5"/>
<rect x="77.7" y="188.6" width="63.10000000000001" height="35.70000000000002" fill="none" stroke="#8a4c9a" stroke-width="1.5"/>
<line x1="76.5" y1="188.6" x2="140.8" y2="188.6" stroke="#5a4a5e" stroke-width="0.7"/>
<text x="50.3" y="137.5" font-size="7.2" fill="#111">39.7%</text>
<text x="139.60000000000002" y="137.5" font-size="7.2" text-anchor="end" fill="#111">44.6%</text>
<text x="139.60000000000002" y="223.0" font-size="7.2" text-anchor="end" fill="#111">0.4%</text>
<ellipse cx="59.8" cy="135.8" rx="9.6" ry="6.7" fill="none" stroke="#d93a3a" stroke-width="0.95"/>
<path d="M150.7 188.6 V226.10000000000002 H181" fill="none" stroke="#8a8a8a" stroke-width="0.8"/>
<line x1="181" y1="130.8" x2="181" y2="226.5" stroke="#4a4a4a" stroke-width="0.8"/>
<rect x="152" y="130.8" width="94.30000000000001" height="57.79999999999998" fill="none" stroke="#8a4c9a" stroke-width="1.5"/>
<rect x="182.2" y="188.6" width="64.10000000000001" height="35.70000000000002" fill="none" stroke="#8a4c9a" stroke-width="1.5"/>
<line x1="181" y1="188.6" x2="246.3" y2="188.6" stroke="#5a4a5e" stroke-width="0.7"/>
<text x="154.3" y="137.5" font-size="7.2" fill="#111">45.0%</text>
<text x="245.10000000000002" y="137.5" font-size="7.2" text-anchor="end" fill="#111">43.6%</text>
<text x="245.10000000000002" y="223.0" font-size="7.2" text-anchor="end" fill="#111">0.2%</text>
<ellipse cx="163.8" cy="135.8" rx="9.6" ry="6.7" fill="none" stroke="#d93a3a" stroke-width="0.95"/>
<path d="M303.7 91.1 V121.1 H335.9" fill="none" stroke="#8a8a8a" stroke-width="0.8"/>
<line x1="335.9" y1="26.8" x2="335.9" y2="121.5" stroke="#4a4a4a" stroke-width="0.8"/>
<rect x="305" y="26.8" width="94.39999999999998" height="64.3" fill="none" stroke="#8a4c9a" stroke-width="1.5"/>
<rect x="337.09999999999997" y="91.1" width="62.3" height="28.200000000000003" fill="none" stroke="#8a4c9a" stroke-width="1.5"/>
<line x1="335.9" y1="91.1" x2="399.4" y2="91.1" stroke="#5a4a5e" stroke-width="0.7"/>
<text x="307.3" y="33.5" font-size="7.2" fill="#111">36.7%</text>
<text x="398.2" y="33.5" font-size="7.2" text-anchor="end" fill="#111">48.6%</text>
<text x="398.2" y="118.0" font-size="7.2" text-anchor="end" fill="#111">0.3%</text>
<ellipse cx="316.8" cy="31.8" rx="9.6" ry="6.7" fill="none" stroke="#d93a3a" stroke-width="0.95"/>
<path d="M407.7 91.1 V121.1 H439.5" fill="none" stroke="#8a8a8a" stroke-width="0.8"/>
<line x1="439.5" y1="26.8" x2="439.5" y2="121.5" stroke="#4a4a4a" stroke-width="0.8"/>
<rect x="409" y="26.8" width="94.60000000000002" height="64.3" fill="none" stroke="#8a4c9a" stroke-width="1.5"/>
<rect x="440.7" y="91.1" width="62.90000000000002" height="28.200000000000003" fill="none" stroke="#8a4c9a" stroke-width="1.5"/>
<line x1="439.5" y1="91.1" x2="503.6" y2="91.1" stroke="#5a4a5e" stroke-width="0.7"/>
<text x="411.3" y="33.5" font-size="7.2" fill="#111">36.4%</text>
<text x="502.40000000000003" y="33.5" font-size="7.2" text-anchor="end" fill="#111">48.6%</text>
<text x="502.40000000000003" y="118.0" font-size="7.2" text-anchor="end" fill="#111">0.4%</text>
<ellipse cx="420.8" cy="31.8" rx="9.6" ry="6.7" fill="none" stroke="#d93a3a" stroke-width="0.95"/>
<path d="M303.7 195 V225.4 H335.9" fill="none" stroke="#8a8a8a" stroke-width="0.8"/>
<line x1="335.9" y1="130.8" x2="335.9" y2="225.79999999999998" stroke="#4a4a4a" stroke-width="0.8"/>
<rect x="305" y="130.8" width="94.39999999999998" height="64.19999999999999" fill="none" stroke="#8a4c9a" stroke-width="1.5"/>
<rect x="337.09999999999997" y="195" width="62.3" height="28.599999999999994" fill="none" stroke="#8a4c9a" stroke-width="1.5"/>
<line x1="335.9" y1="195" x2="399.4" y2="195" stroke="#5a4a5e" stroke-width="0.7"/>
<text x="307.3" y="137.5" font-size="7.2" fill="#111">36.6%</text>
<text x="398.2" y="137.5" font-size="7.2" text-anchor="end" fill="#111">42.6%</text>
<text x="398.2" y="222.29999999999998" font-size="7.2" text-anchor="end" fill="#111">0.5%</text>
<ellipse cx="316.8" cy="135.8" rx="9.6" ry="6.7" fill="none" stroke="#d93a3a" stroke-width="0.95"/>
<path d="M407.7 195 V225.4 H439.5" fill="none" stroke="#8a8a8a" stroke-width="0.8"/>
<line x1="439.5" y1="130.8" x2="439.5" y2="225.79999999999998" stroke="#4a4a4a" stroke-width="0.8"/>
<rect x="409" y="130.8" width="94.60000000000002" height="64.19999999999999" fill="none" stroke="#8a4c9a" stroke-width="1.5"/>
<rect x="440.7" y="195" width="62.90000000000002" height="28.599999999999994" fill="none" stroke="#8a4c9a" stroke-width="1.5"/>
<line x1="439.5" y1="195" x2="503.6" y2="195" stroke="#5a4a5e" stroke-width="0.7"/>
<text x="411.3" y="137.5" font-size="7.2" fill="#111">41.2%</text>
<text x="502.40000000000003" y="137.5" font-size="7.2" text-anchor="end" fill="#111">41.7%</text>
<text x="502.40000000000003" y="222.29999999999998" font-size="7.2" text-anchor="end" fill="#111">0.4%</text>
<ellipse cx="420.8" cy="135.8" rx="9.6" ry="6.7" fill="none" stroke="#d93a3a" stroke-width="0.95"/>
<line x1="39.4" y1="35" x2="39.4" y2="199" stroke="#231f20" stroke-width="1.1"/>
<path d="M39.4 29 L43.6 39.4 L39.4 37.5 L35.199999999999996 39.4 Z" fill="#111"/>
<line x1="69.4" y1="236.3" x2="235" y2="236.3" stroke="#231f20" stroke-width="1.1"/>
<path d="M241 236.3 L230.4 240.4 L232.8 236.3 L230.4 232.20000000000002 Z" fill="#111"/>
<line x1="297.5" y1="35" x2="297.5" y2="199" stroke="#231f20" stroke-width="1.1"/>
<path d="M297.5 29 L301.7 39.4 L297.5 37.5 L293.3 39.4 Z" fill="#111"/>
<line x1="326" y1="236.3" x2="491.5" y2="236.3" stroke="#231f20" stroke-width="1.1"/>
<path d="M497.5 236.3 L486.9 240.4 L489.3 236.3 L486.9 232.20000000000002 Z" fill="#111"/>
<text x="28.1" y="74.1" font-size="9.85" text-anchor="middle" transform="rotate(-90 28.1 74.1)" fill="#231f20">Normal marrow</text>
<text x="28.1" y="177.7" font-size="9.85" text-anchor="middle" transform="rotate(-90 28.1 177.7)" fill="#231f20">DBA marrow</text>
<text x="285.7" y="74.1" font-size="9.85" text-anchor="middle" transform="rotate(-90 285.7 74.1)" fill="#231f20">Normal marrow</text>
<text x="285.7" y="177.7" font-size="9.85" text-anchor="middle" transform="rotate(-90 285.7 177.7)" fill="#231f20">DBA marrow</text>
<text x="43" y="211.6" font-size="10.5" text-anchor="middle" font-weight="bold" textLength="15.8" lengthAdjust="spacingAndGlyphs" transform="rotate(-90 43 211.6)" fill="#231f20">CD36</text>
<text x="300.5" y="212" font-size="10.5" text-anchor="middle" font-weight="bold" textLength="15.8" lengthAdjust="spacingAndGlyphs" transform="rotate(-90 300.5 212)" fill="#231f20">CD71</text>
<text x="52.4" y="239.2" font-size="9.9" font-weight="bold" textLength="13.7" lengthAdjust="spacingAndGlyphs" fill="#231f20">GlyA</text>
<text x="309.2" y="239.2" font-size="9.9" font-weight="bold" textLength="13.7" lengthAdjust="spacingAndGlyphs" fill="#231f20">GlyA</text>
<line x1="55.5" y1="287.6" x2="55.5" y2="401.5" stroke="#231f20" stroke-width="1.1"/>
<line x1="55.0" y1="401.5" x2="129.5" y2="401.5" stroke="#231f20" stroke-width="1.1"/>
<line x1="52.0" y1="290.3" x2="55.5" y2="290.3" stroke="#231f20" stroke-width="0.9"/>
<text x="49.3" y="293.40000000000003" font-size="8.8" text-anchor="end" fill="#231f20">150</text>
<line x1="52.0" y1="327.5" x2="55.5" y2="327.5" stroke="#231f20" stroke-width="0.9"/>
<text x="49.3" y="330.6" font-size="8.8" text-anchor="end" fill="#231f20">100</text>
<line x1="52.0" y1="364.4" x2="55.5" y2="364.4" stroke="#231f20" stroke-width="0.9"/>
<text x="49.3" y="367.5" font-size="8.8" text-anchor="end" fill="#231f20">50</text>
<line x1="52.0" y1="401.5" x2="55.5" y2="401.5" stroke="#231f20" stroke-width="0.9"/>
<text x="49.3" y="404.6" font-size="8.8" text-anchor="end" fill="#231f20">0</text>
<rect x="62.1" y="340.1" width="12.300000000000004" height="61.39999999999998" fill="#1b5887"/>
<rect x="75.8" y="340.1" width="12.600000000000009" height="61.39999999999998" fill="#8c97bf"/>
<rect x="96.5" y="300.6" width="12.599999999999994" height="100.89999999999998" fill="#1b5887"/>
<rect x="110.7" y="301.1" width="12.099999999999994" height="100.39999999999998" fill="#8c97bf"/>
<line x1="57" y1="327.5" x2="130.2" y2="327.5" stroke="#231f20" stroke-width="0.9" stroke-dasharray="1.3 1.7"/>
<text x="92.6" y="268.8" font-size="10.2" text-anchor="middle" fill="#231f20">RPS19</text>
<text x="92.5" y="281.8" font-size="10" text-anchor="middle" fill="#231f20">(patient D1)</text>
<line x1="75.2" y1="401.5" x2="75.2" y2="404.5" stroke="#231f20" stroke-width="0.9"/>
<line x1="109.8" y1="401.5" x2="109.8" y2="404.5" stroke="#231f20" stroke-width="0.9"/>
<line x1="196.5" y1="401.5" x2="196.5" y2="404.5" stroke="#231f20" stroke-width="0.9"/>
<line x1="231.3" y1="401.5" x2="231.3" y2="404.5" stroke="#231f20" stroke-width="0.9"/>
<line x1="317.5" y1="401.5" x2="317.5" y2="404.5" stroke="#231f20" stroke-width="0.9"/>
<line x1="352.3" y1="401.5" x2="352.3" y2="404.5" stroke="#231f20" stroke-width="0.9"/>
<line x1="457.5" y1="401.5" x2="457.5" y2="404.5" stroke="#231f20" stroke-width="0.9"/>
<line x1="491.8" y1="401.5" x2="491.8" y2="404.5" stroke="#231f20" stroke-width="0.9"/>
<text x="75.3" y="416" font-size="8.4" text-anchor="middle" fill="#231f20">Normal</text>
<text x="110.3" y="416" font-size="8.6" text-anchor="middle" fill="#231f20">DBA</text>
<text x="27.6" y="346.2" font-size="10" text-anchor="middle" font-weight="bold" textLength="46.3" lengthAdjust="spacingAndGlyphs" transform="rotate(-90 27.6 346.2)" fill="#231f20">% of untreated</text>
<line x1="176.5" y1="287.6" x2="176.5" y2="401.5" stroke="#231f20" stroke-width="1.1"/>
<line x1="176.0" y1="401.5" x2="251" y2="401.5" stroke="#231f20" stroke-width="1.1"/>
<line x1="173.0" y1="290.3" x2="176.5" y2="290.3" stroke="#231f20" stroke-width="0.9"/>
<text x="170.3" y="293.40000000000003" font-size="8.8" text-anchor="end" fill="#231f20">150</text>
<line x1="173.0" y1="327.5" x2="176.5" y2="327.5" stroke="#231f20" stroke-width="0.9"/>
<text x="170.3" y="330.6" font-size="8.8" text-anchor="end" fill="#231f20">100</text>
<line x1="173.0" y1="364.4" x2="176.5" y2="364.4" stroke="#231f20" stroke-width="0.9"/>
<text x="170.3" y="367.5" font-size="8.8" text-anchor="end" fill="#231f20">50</text>
<line x1="173.0" y1="401.5" x2="176.5" y2="401.5" stroke="#231f20" stroke-width="0.9"/>
<text x="170.3" y="404.6" font-size="8.8" text-anchor="end" fill="#231f20">0</text>
<rect x="183.2" y="331.8" width="12.400000000000006" height="69.69999999999999" fill="#1b5887"/>
<rect x="197.3" y="335.2" width="12.5" height="66.30000000000001" fill="#8c97bf"/>
<rect x="218.2" y="313" width="12.100000000000023" height="88.5" fill="#1b5887"/>
<rect x="232.3" y="319.3" width="12.099999999999994" height="82.19999999999999" fill="#8c97bf"/>
<line x1="178" y1="327.5" x2="251.5" y2="327.5" stroke="#231f20" stroke-width="0.9" stroke-dasharray="1.3 1.7"/>
<text x="214.2" y="268.8" font-size="10.1" text-anchor="middle" fill="#231f20">RPS26</text>
<text x="214.2" y="281.8" font-size="10" text-anchor="middle" fill="#231f20">(patient D2)</text>
<text x="196.5" y="416" font-size="8.4" text-anchor="middle" fill="#231f20">Normal</text>
<text x="231.3" y="416" font-size="8.6" text-anchor="middle" fill="#231f20">DBA</text>
<text x="148.8" y="346.2" font-size="10" text-anchor="middle" font-weight="bold" textLength="46.3" lengthAdjust="spacingAndGlyphs" transform="rotate(-90 148.8 346.2)" fill="#231f20">% of untreated</text>
<line x1="297.5" y1="287.6" x2="297.5" y2="401.5" stroke="#231f20" stroke-width="1.1"/>
<line x1="297.0" y1="401.5" x2="372" y2="401.5" stroke="#231f20" stroke-width="1.1"/>
<line x1="294.0" y1="288.9" x2="297.5" y2="288.9" stroke="#231f20" stroke-width="0.9"/>
<text x="291.3" y="292.0" font-size="8.8" text-anchor="end" fill="#231f20">200</text>
<line x1="294.0" y1="317.3" x2="297.5" y2="317.3" stroke="#231f20" stroke-width="0.9"/>
<text x="291.3" y="320.40000000000003" font-size="8.8" text-anchor="end" fill="#231f20">150</text>
<line x1="294.0" y1="345.6" x2="297.5" y2="345.6" stroke="#231f20" stroke-width="0.9"/>
<text x="291.3" y="348.70000000000005" font-size="8.8" text-anchor="end" fill="#231f20">100</text>
<line x1="294.0" y1="373.5" x2="297.5" y2="373.5" stroke="#231f20" stroke-width="0.9"/>
<text x="291.3" y="376.6" font-size="8.8" text-anchor="end" fill="#231f20">50</text>
<line x1="294.0" y1="401.5" x2="297.5" y2="401.5" stroke="#231f20" stroke-width="0.9"/>
<text x="291.3" y="404.6" font-size="8.8" text-anchor="end" fill="#231f20">0</text>
<rect x="304.4" y="347.6" width="12.100000000000023" height="53.89999999999998" fill="#1b5887"/>
<rect x="318.2" y="347.3" width="12.5" height="54.19999999999999" fill="#8c97bf"/>
<rect x="339.1" y="296.4" width="12.399999999999977" height="105.10000000000002" fill="#1b5887"/>
<rect x="353.2" y="297.5" width="12.199999999999989" height="104.0" fill="#8c97bf"/>
<line x1="299.5" y1="345.6" x2="372" y2="345.6" stroke="#231f20" stroke-width="0.9" stroke-dasharray="1.3 1.7"/>
<text x="334.8" y="268.8" font-size="10.1" text-anchor="middle" fill="#231f20">RPL11</text>
<text x="335" y="281.8" font-size="10" text-anchor="middle" fill="#231f20">(patient D3)</text>
<text x="317.5" y="416" font-size="8.4" text-anchor="middle" fill="#231f20">Normal</text>
<text x="352.3" y="416" font-size="8.6" text-anchor="middle" fill="#231f20">DBA</text>
<text x="269.9" y="345.9" font-size="10" text-anchor="middle" font-weight="bold" textLength="45.7" lengthAdjust="spacingAndGlyphs" transform="rotate(-90 269.9 345.9)" fill="#231f20">% of untreated</text>
<line x1="437.5" y1="289.5" x2="437.5" y2="401.5" stroke="#231f20" stroke-width="1.1"/>
<line x1="437.0" y1="401.5" x2="512.5" y2="401.5" stroke="#231f20" stroke-width="1.1"/>
<line x1="434.0" y1="303.5" x2="437.5" y2="303.5" stroke="#231f20" stroke-width="0.9"/>
<text x="431.3" y="306.6" font-size="8.8" text-anchor="end" fill="#231f20">150</text>
<line x1="434.0" y1="336.3" x2="437.5" y2="336.3" stroke="#231f20" stroke-width="0.9"/>
<text x="431.3" y="339.40000000000003" font-size="8.8" text-anchor="end" fill="#231f20">100</text>
<line x1="434.0" y1="369.2" x2="437.5" y2="369.2" stroke="#231f20" stroke-width="0.9"/>
<text x="431.3" y="372.3" font-size="8.8" text-anchor="end" fill="#231f20">50</text>
<line x1="434.0" y1="401.5" x2="437.5" y2="401.5" stroke="#231f20" stroke-width="0.9"/>
<text x="431.3" y="404.6" font-size="8.8" text-anchor="end" fill="#231f20">0</text>
<path d="M450.5 341 V338.5 M447.5 338.5 H453.5" stroke="#231f20" stroke-width="1" fill="none"/>
<path d="M464.5 341 V338.5 M461.5 338.5 H467.5" stroke="#231f20" stroke-width="1" fill="none"/>
<path d="M484.7 304 V293.7 M481.7 293.7 H487.7" stroke="#231f20" stroke-width="1" fill="none"/>
<path d="M499.1 307 V296 M496.1 296 H502.1" stroke="#231f20" stroke-width="1" fill="none"/>
<rect x="444.3" y="341" width="12.5" height="60.5" fill="#1b5887"/>
<rect x="458.2" y="341" width="12.5" height="60.5" fill="#8c97bf"/>
<rect x="478.5" y="303.7" width="12.5" height="97.80000000000001" fill="#1b5887"/>
<rect x="493" y="306.2" width="12.300000000000011" height="95.30000000000001" fill="#8c97bf"/>
<line x1="439" y1="336.3" x2="513" y2="336.3" stroke="#231f20" stroke-width="0.9" stroke-dasharray="1.3 1.7"/>
<text x="450.4" y="332" font-size="8.5" text-anchor="middle" fill="#231f20">ns</text>
<text x="464.4" y="332" font-size="8.5" text-anchor="middle" fill="#231f20">ns</text>
<text x="488.2" y="276.2" font-size="9" text-anchor="middle" textLength="26.8" lengthAdjust="spacingAndGlyphs" transform="rotate(-90 488.2 276.2)" fill="#231f20"><tspan font-style="italic">P</tspan> = .02</text>
<text x="502.2" y="278.2" font-size="9" text-anchor="middle" textLength="27.3" lengthAdjust="spacingAndGlyphs" transform="rotate(-90 502.2 278.2)" fill="#231f20"><tspan font-style="italic">P</tspan> = .03</text>
<text x="457.6" y="416" font-size="8.4" text-anchor="middle" fill="#231f20">Normal</text>
<text x="491.6" y="416" font-size="8.6" text-anchor="middle" fill="#231f20">DBA</text>
<text x="409.4" y="352.5" font-size="10" text-anchor="middle" font-weight="bold" textLength="47.4" lengthAdjust="spacingAndGlyphs" transform="rotate(-90 409.4 352.5)" fill="#231f20">% of untreated</text>
<rect x="208.3" y="432.5" width="7" height="6.5" fill="#1b5887"/>
<rect x="279.3" y="432.5" width="7" height="6.5" fill="#8c97bf"/>
<text x="217.5" y="439" font-size="8.8" textLength="51.7" lengthAdjust="spacingAndGlyphs" fill="#231f20">CD36<tspan dy="-3.2" font-size="6">+</tspan><tspan dy="3.2">×GlyA</tspan><tspan dy="-3.2" font-size="6">+</tspan></text>
<text x="289.2" y="439" font-size="8.8" textLength="50.8" lengthAdjust="spacingAndGlyphs" fill="#231f20">CD71<tspan dy="-3.2" font-size="6">+</tspan><tspan dy="3.2">×GlyA</tspan><tspan dy="-3.2" font-size="6">+</tspan></text>
<line x1="54.6" y1="480" x2="54.6" y2="587.3" stroke="#231f20" stroke-width="1.1"/>
<line x1="54.1" y1="587.3" x2="121.2" y2="587.3" stroke="#231f20" stroke-width="1.1"/>
<line x1="51.1" y1="490.4" x2="54.6" y2="490.4" stroke="#231f20" stroke-width="0.9"/>
<text x="48.4" y="493.5" font-size="8.8" text-anchor="end" fill="#231f20">100</text>
<line x1="51.1" y1="538.9" x2="54.6" y2="538.9" stroke="#231f20" stroke-width="0.9"/>
<text x="48.4" y="542.0" font-size="8.8" text-anchor="end" fill="#231f20">50</text>
<line x1="51.1" y1="587.3" x2="54.6" y2="587.3" stroke="#231f20" stroke-width="0.9"/>
<text x="48.4" y="590.4" font-size="8.8" text-anchor="end" fill="#231f20">0</text>
<path d="M80.5 519 V507.4 M77.5 507.4 H83.5" stroke="#231f20" stroke-width="1" fill="none"/>
<path d="M113.8 510 V504.7 M110.8 504.7 H116.8" stroke="#231f20" stroke-width="1" fill="none"/>
<rect x="61.4" y="490.4" width="10.000000000000007" height="96.89999999999998" fill="#c8102e"/>
<rect x="75.4" y="518.7" width="10.199999999999989" height="68.59999999999991" fill="#1b5887"/>
<rect x="94.8" y="490.4" width="10.200000000000003" height="96.89999999999998" fill="#c8102e"/>
<rect x="108.5" y="509.8" width="10.5" height="77.49999999999994" fill="#1b5887"/>
<path d="M66 487.7 V483.7 H80.2 V487.7" stroke="#231f20" stroke-width="0.9" fill="none"/>
<path d="M100.2 487.7 V483.7 H114.4 V487.7" stroke="#231f20" stroke-width="0.9" fill="none"/>
<text x="73" y="480.5" font-size="8.5" text-anchor="middle" fill="#231f20">ns</text>
<text x="107.3" y="482.5" font-size="8.5" text-anchor="middle" fill="#231f20">*</text>
<text x="90.5" y="467.6" font-size="10" text-anchor="middle" fill="#231f20">Heme content</text>
<line x1="73.5" y1="587.3" x2="73.5" y2="590.3" stroke="#231f20" stroke-width="0.9"/>
<line x1="106.8" y1="587.3" x2="106.8" y2="590.3" stroke="#231f20" stroke-width="0.9"/>
<line x1="210.8" y1="586.6" x2="210.8" y2="589.6" stroke="#231f20" stroke-width="0.9"/>
<line x1="247.1" y1="586.6" x2="247.1" y2="589.6" stroke="#231f20" stroke-width="0.9"/>
<text x="73.5" y="601" font-size="8.2" text-anchor="middle" fill="#231f20">Normal</text>
<text x="106.4" y="601" font-size="8.6" text-anchor="middle" fill="#231f20">DBA</text>
<text x="27.5" y="538.7" font-size="10" text-anchor="middle" font-weight="bold" textLength="38.7" lengthAdjust="spacingAndGlyphs" transform="rotate(-90 27.5 538.7)" fill="#231f20">% of control</text>
<line x1="190" y1="482.7" x2="190" y2="587.1" stroke="#231f20" stroke-width="1.1"/>
<line x1="189.5" y1="587.1" x2="269" y2="587.1" stroke="#231f20" stroke-width="1.1"/>
<line x1="186.5" y1="492.5" x2="190" y2="492.5" stroke="#231f20" stroke-width="0.9"/>
<text x="183.8" y="495.6" font-size="8.8" text-anchor="end" fill="#231f20">100</text>
<line x1="186.5" y1="540.2" x2="190" y2="540.2" stroke="#231f20" stroke-width="0.9"/>
<text x="183.8" y="543.3000000000001" font-size="8.8" text-anchor="end" fill="#231f20">50</text>
<line x1="186.5" y1="587.1" x2="190" y2="587.1" stroke="#231f20" stroke-width="0.9"/>
<text x="183.8" y="590.2" font-size="8.8" text-anchor="end" fill="#231f20">0</text>
<path d="M217.8 571 V556.2 M214.8 556.2 H220.8" stroke="#231f20" stroke-width="1" fill="none"/>
<path d="M240 573 V555.3 M237 555.3 H243" stroke="#231f20" stroke-width="1" fill="none"/>
<path d="M254.2 534 V527.8 M251.2 527.8 H257.2" stroke="#231f20" stroke-width="1" fill="none"/>
<rect x="197.1" y="493.5" width="12.400000000000006" height="93.10000000000002" fill="#c8102e"/>
<rect x="211.8" y="570.3" width="12.099999999999994" height="16.300000000000068" fill="#1b5887"/>
<rect x="234" y="572.3" width="12.099999999999994" height="14.300000000000068" fill="#c8102e"/>
<rect x="248.1" y="533.4" width="12.099999999999994" height="53.200000000000045" fill="#1b5887"/>
<path d="M203.6 489.3 V485.3 H219 V489.3" stroke="#231f20" stroke-width="0.9" fill="none"/>
<path d="M239.6 524.3 V520.3 H253.3 V524.3" stroke="#231f20" stroke-width="0.9" fill="none"/>
<text x="211" y="484.5" font-size="8.5" text-anchor="middle" fill="#231f20">**</text>
<text x="246.5" y="519.5" font-size="8.5" text-anchor="middle" fill="#231f20">*</text>
<text x="229" y="467.6" font-size="10" text-anchor="middle" fill="#231f20">Globin protein</text>
<text x="212" y="600" font-size="8.2" text-anchor="middle" fill="#231f20">Normal</text>
<text x="247" y="600" font-size="8.6" text-anchor="middle" fill="#231f20">DBA</text>
<text x="162.6" y="539.5" font-size="10" text-anchor="middle" font-weight="bold" textLength="37.7" lengthAdjust="spacingAndGlyphs" transform="rotate(-90 162.6 539.5)" fill="#231f20">% of control</text>
<rect x="278.8" y="525.8" width="6" height="6" fill="#c8102e"/>
<rect x="278.8" y="537.8" width="6" height="6" fill="#1b5887"/>
<text x="287.5" y="531.8" font-size="8.4" textLength="41.5" lengthAdjust="spacingAndGlyphs" fill="#231f20">Media alone</text>
<text x="287.9" y="543.8" font-size="8.4" textLength="39.3" lengthAdjust="spacingAndGlyphs" fill="#231f20">+ bitopertin</text>
<defs><filter id="bl1" x="-20%" y="-50%" width="140%" height="200%"><feGaussianBlur stdDeviation="1.2"/></filter><filter id="bl2" x="-20%" y="-50%" width="140%" height="200%"><feGaussianBlur stdDeviation="0.6"/></filter><filter id="bl3" x="-20%" y="-50%" width="140%" height="200%"><feGaussianBlur stdDeviation="0.9"/></filter></defs>
<text x="413.6" y="473.9" font-size="8.6" text-anchor="middle" fill="#231f20">Normal</text>
<text x="481.3" y="473.9" font-size="8.6" text-anchor="middle" fill="#231f20">D4</text>
<text x="380.5" y="484.3" font-size="8.6" text-anchor="end" fill="#231f20">Bitopertin</text>
<text x="398.7" y="484.3" font-size="9" text-anchor="middle" fill="#231f20">–</text>
<text x="430.5" y="484.3" font-size="9" text-anchor="middle" fill="#231f20">+</text>
<text x="467" y="484.3" font-size="9" text-anchor="middle" fill="#231f20">–</text>
<text x="497" y="484.3" font-size="9" text-anchor="middle" fill="#231f20">+</text>
<text x="380.5" y="499.6" font-size="8.6" text-anchor="end" fill="#231f20">Globin</text>
<text x="380.5" y="520.8" font-size="8.6" text-anchor="end" fill="#231f20">Actin</text>
<rect x="384" y="486.9" width="30.5" height="19.9" fill="#a9a9a9"/>
<rect x="416" y="486.9" width="28.4" height="19.9" fill="#b1b1b1"/>
<rect x="453.2" y="486.9" width="28.3" height="20.5" fill="#9b9b9b"/>
<rect x="483.2" y="486.9" width="29" height="20.5" fill="#8d8d8d"/>
<g filter="url(#bl3)"><path d="M387.5 494 Q389 490.5 395 490.8 Q402 491 407 492.5 Q410.5 494 410.3 498 L410 504.5 L404.5 505 L403.5 499.5 Q399 498 395 499.5 L394.5 505.5 L387.5 505.5 Z" fill="#141414"/><rect x="395" y="499" width="9" height="6.5" fill="#6a6a6a"/></g>
<path d="M487 495 Q487.5 491.5 492 491.5 Q500 491 506 492.5 Q512 494 512 496 L512 502 Q507 502.5 503 499.5 Q498 497.5 492 498.5 Q487.5 498.5 487 495 Z" fill="#161616" filter="url(#bl3)"/>
<rect x="455" y="492.3" width="25" height="2.8" fill="#7d7d7d" filter="url(#bl1)"/>
<rect x="384" y="508.8" width="30.5" height="19.7" fill="#dddddd"/>
<rect x="416" y="508.8" width="28.4" height="19.7" fill="#dddddd"/>
<rect x="453.2" y="508.8" width="28.3" height="19.7" fill="#dddddd"/>
<rect x="483.2" y="508.8" width="29" height="19.7" fill="#dddddd"/>
<g filter="url(#bl2)" fill="#1c1c1c"><path d="M388.8 518 Q388.8 515.6 391 515.6 L408.5 516 Q410.2 516.3 410.2 518.2 Q410.2 520.5 408.5 520.6 L391 520.9 Q388.8 520.9 388.8 518 Z"/><path d="M420 518.2 Q420 516.7 422 516.7 L437 516.9 Q438.6 517 438.6 518.3 Q438.6 519.8 437 519.9 L422 520.1 Q420 520.1 420 518.2 Z"/><path d="M458.3 518.4 Q458.3 516.2 460.5 516.3 L476.5 517 Q478.3 517.3 478.3 519 Q478.3 520.8 476.5 520.8 L460.5 520.6 Q458.3 520.6 458.3 518.4 Z" fill="#262626"/><path d="M487.8 518.4 Q487.8 516.6 489.8 516.6 L505 517.1 Q506.6 517.3 506.6 518.6 Q506.6 520.2 505 520.3 L489.8 520.4 Q487.8 520.4 487.8 518.4 Z" fill="#2c2c2c"/></g>
<text x="414" y="547.7" font-size="8.6" text-anchor="middle" fill="#231f20">Normal</text>
<text x="481.3" y="547.7" font-size="8.6" text-anchor="middle" fill="#231f20">D1</text>
<text x="385" y="558.6" font-size="8.6" text-anchor="end" fill="#231f20">Bitopertin</text>
<text x="401.2" y="558.6" font-size="9" text-anchor="middle" fill="#231f20">–</text>
<text x="428" y="558.6" font-size="9" text-anchor="middle" fill="#231f20">+</text>
<text x="468" y="558.6" font-size="9" text-anchor="middle" fill="#231f20">–</text>
<text x="496.2" y="558.6" font-size="9" text-anchor="middle" fill="#231f20">+</text>
<text x="385" y="573.2" font-size="8.6" text-anchor="end" fill="#231f20">Globin</text>
<text x="385" y="594" font-size="8.6" text-anchor="end" fill="#231f20">Actin</text>
<rect x="388.1" y="560.7" width="25.1" height="19.9" fill="#a3a3a3"/>
<rect x="415.3" y="560.7" width="25" height="19.9" fill="#a2a2a2"/>
<rect x="456" y="560.7" width="25.6" height="19.9" fill="#b6b6b6"/>
<rect x="483" y="560.7" width="25.8" height="19.9" fill="#ababab"/>
<rect x="484" y="565.5" width="24" height="8" fill="#8a8a8a" filter="url(#bl1)"/>
<rect x="388.1" y="582" width="25.1" height="20.5" fill="#9c9c9c"/>
<rect x="415.3" y="582" width="25" height="20.5" fill="#9a9a9a"/>
<rect x="456" y="582" width="25.6" height="20.8" fill="#c0c0c0"/>
<rect x="483" y="582" width="25.8" height="20.8" fill="#b8b8b8"/>
<rect x="389.5" y="589.3" width="21.0" height="4.900000000000091" rx="2" fill="#111" filter="url(#bl2)"/>
<rect x="419.8" y="590.8" width="19.69999999999999" height="4.300000000000068" rx="2" fill="#111" filter="url(#bl2)"/>
<rect x="463.5" y="589.7" width="14.100000000000023" height="4.2999999999999545" rx="2" fill="#111" filter="url(#bl2)"/>
<rect x="487.7" y="590.3" width="17.80000000000001" height="2.900000000000091" rx="2" fill="#555" filter="url(#bl2)"/>
<path d="M0.5 611 V0.5 H520" fill="none" stroke="#4a4a4a" stroke-width="1"/>
<path d="M519.5 0 V610.5 H0" fill="none" stroke="#505050" stroke-width="1"/>
</g>
</svg></body></html>
